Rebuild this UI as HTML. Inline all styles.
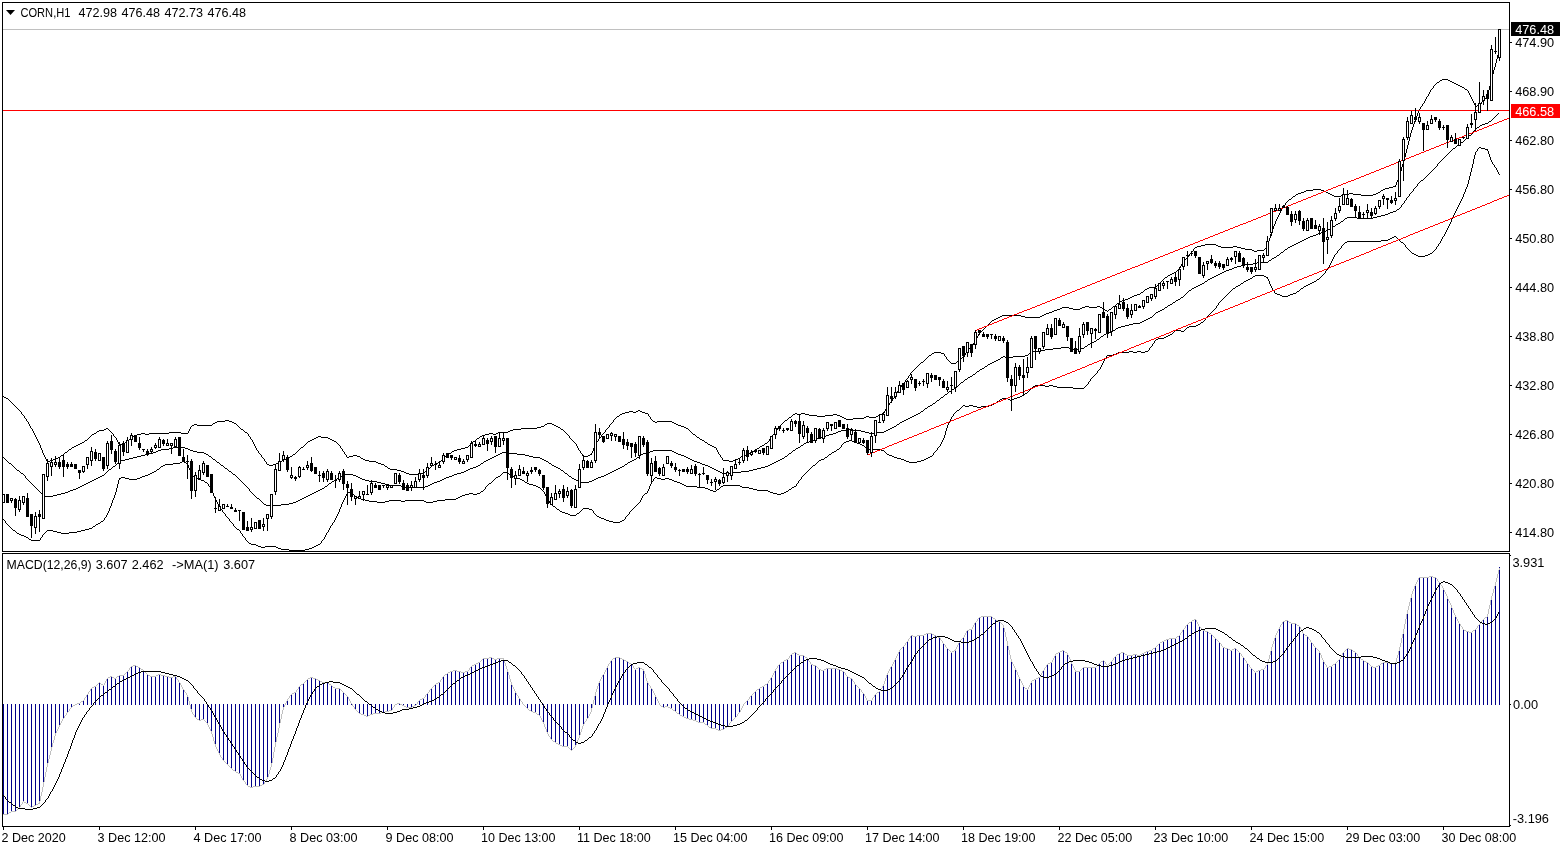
<!DOCTYPE html><html><head><meta charset="utf-8"><title>CORN,H1</title>
<style>html,body{margin:0;padding:0;background:#fff;overflow:hidden}svg{display:block}text{font-family:"Liberation Sans",sans-serif;font-size:13px;fill:#000}.c{shape-rendering:crispEdges}</style></head><body>
<svg width="1566" height="850" viewBox="0 0 1566 850">
<rect width="1566" height="850" fill="#fff"/>
<path class="c" fill="#00008b" d="M3 704h1v111h-1zM7 704h1v111h-1zM11 704h1v108h-1zM15 704h1v108h-1zM19 704h1v104h-1zM23 704h1v98h-1zM27 704h1v100h-1zM31 704h1v104h-1zM35 704h1v102h-1zM39 704h1v100h-1zM43 704h1v81h-1zM47 704h1v61h-1zM51 704h1v45h-1zM55 704h1v31h-1zM59 704h1v22h-1zM63 704h1v15h-1zM67 704h1v9h-1zM71 704h1v4h-1zM75 704h1v1h-1zM79 703h1v2h-1zM83 700h1v5h-1zM87 694h1v11h-1zM91 688h1v17h-1zM95 686h1v19h-1zM99 682h1v23h-1zM103 685h1v20h-1zM107 678h1v27h-1zM111 676h1v29h-1zM115 678h1v27h-1zM119 675h1v30h-1zM123 675h1v30h-1zM127 671h1v34h-1zM131 666h1v39h-1zM135 665h1v40h-1zM139 667h1v38h-1zM143 670h1v35h-1zM147 674h1v31h-1zM151 676h1v29h-1zM155 676h1v29h-1zM159 674h1v31h-1zM163 675h1v30h-1zM167 676h1v29h-1zM171 677h1v28h-1zM175 676h1v29h-1zM179 682h1v23h-1zM183 689h1v16h-1zM187 695h1v10h-1zM191 704h1v8h-1zM195 704h1v14h-1zM199 704h1v17h-1zM203 704h1v16h-1zM207 704h1v20h-1zM211 704h1v29h-1zM215 704h1v42h-1zM219 704h1v51h-1zM223 704h1v57h-1zM227 704h1v61h-1zM231 704h1v65h-1zM235 704h1v68h-1zM239 704h1v70h-1zM243 704h1v77h-1zM247 704h1v82h-1zM251 704h1v84h-1zM255 704h1v83h-1zM259 704h1v83h-1zM263 704h1v81h-1zM267 704h1v75h-1zM271 704h1v62h-1zM275 704h1v41h-1zM279 704h1v22h-1zM283 704h1v4h-1zM287 699h1v6h-1zM291 694h1v11h-1zM295 692h1v13h-1zM299 686h1v19h-1zM303 683h1v22h-1zM307 679h1v26h-1zM311 677h1v28h-1zM315 678h1v27h-1zM319 680h1v25h-1zM323 682h1v23h-1zM327 682h1v23h-1zM331 685h1v20h-1zM335 688h1v17h-1zM339 688h1v17h-1zM343 692h1v13h-1zM347 696h1v9h-1zM351 703h1v2h-1zM355 704h1v6h-1zM359 704h1v10h-1zM363 704h1v11h-1zM367 704h1v13h-1zM371 704h1v11h-1zM375 704h1v10h-1zM379 704h1v10h-1zM383 704h1v9h-1zM387 704h1v8h-1zM391 704h1v7h-1zM395 704h1v1h-1zM399 703h1v2h-1zM403 704h1v2h-1zM407 704h1v4h-1zM411 704h1v4h-1zM415 704h1v2h-1zM419 700h1v5h-1zM423 698h1v7h-1zM427 693h1v12h-1zM431 688h1v17h-1zM435 684h1v21h-1zM439 682h1v23h-1zM443 676h1v29h-1zM447 673h1v32h-1zM451 671h1v34h-1zM455 670h1v35h-1zM459 671h1v34h-1zM463 672h1v33h-1zM467 671h1v34h-1zM471 666h1v39h-1zM475 664h1v41h-1zM479 662h1v43h-1zM483 658h1v47h-1zM487 658h1v47h-1zM491 657h1v48h-1zM495 659h1v46h-1zM499 658h1v47h-1zM503 658h1v47h-1zM507 670h1v35h-1zM511 683h1v22h-1zM515 692h1v13h-1zM519 698h1v7h-1zM523 704h1v1h-1zM527 704h1v5h-1zM531 704h1v8h-1zM535 704h1v9h-1zM539 704h1v12h-1zM543 704h1v19h-1zM547 704h1v30h-1zM551 704h1v36h-1zM555 704h1v39h-1zM559 704h1v41h-1zM563 704h1v43h-1zM567 704h1v43h-1zM571 704h1v47h-1zM575 704h1v43h-1zM579 704h1v33h-1zM583 704h1v21h-1zM587 704h1v15h-1zM591 704h1v7h-1zM595 693h1v12h-1zM599 681h1v24h-1zM603 674h1v31h-1zM607 666h1v39h-1zM611 660h1v45h-1zM615 657h1v48h-1zM619 657h1v48h-1zM623 659h1v46h-1zM627 661h1v44h-1zM631 664h1v41h-1zM635 669h1v36h-1zM639 667h1v38h-1zM643 669h1v36h-1zM647 682h1v23h-1zM651 688h1v17h-1zM655 696h1v9h-1zM659 704h1v1h-1zM663 704h1v4h-1zM667 704h1v3h-1zM671 704h1v5h-1zM675 704h1v8h-1zM679 704h1v11h-1zM683 704h1v13h-1zM687 704h1v15h-1zM691 704h1v16h-1zM695 704h1v17h-1zM699 704h1v19h-1zM703 704h1v19h-1zM707 704h1v22h-1zM711 704h1v25h-1zM715 704h1v25h-1zM719 704h1v27h-1zM723 704h1v26h-1zM727 704h1v23h-1zM731 704h1v18h-1zM735 704h1v14h-1zM739 704h1v9h-1zM743 704h1v1h-1zM747 700h1v5h-1zM751 695h1v10h-1zM755 691h1v14h-1zM759 688h1v17h-1zM763 686h1v19h-1zM767 683h1v22h-1zM771 677h1v28h-1zM775 669h1v36h-1zM779 664h1v41h-1zM783 661h1v44h-1zM787 659h1v46h-1zM791 654h1v51h-1zM795 652h1v53h-1zM799 655h1v50h-1zM803 655h1v50h-1zM807 658h1v47h-1zM811 664h1v41h-1zM815 665h1v40h-1zM819 669h1v36h-1zM823 670h1v35h-1zM827 668h1v37h-1zM831 668h1v37h-1zM835 668h1v37h-1zM839 669h1v36h-1zM843 671h1v34h-1zM847 676h1v29h-1zM851 678h1v27h-1zM855 684h1v21h-1zM859 688h1v17h-1zM863 693h1v12h-1zM867 700h1v5h-1zM871 700h1v5h-1zM875 694h1v11h-1zM879 691h1v14h-1zM883 685h1v20h-1zM887 673h1v32h-1zM891 666h1v39h-1zM895 658h1v47h-1zM899 650h1v55h-1zM903 646h1v59h-1zM907 641h1v64h-1zM911 635h1v70h-1zM915 636h1v69h-1zM919 635h1v70h-1zM923 635h1v70h-1zM927 633h1v72h-1zM931 633h1v72h-1zM935 635h1v70h-1zM939 637h1v68h-1zM943 643h1v62h-1zM947 648h1v57h-1zM951 652h1v53h-1zM955 650h1v55h-1zM959 641h1v64h-1zM963 637h1v68h-1zM967 630h1v75h-1zM971 629h1v76h-1zM975 622h1v83h-1zM979 617h1v88h-1zM983 616h1v89h-1zM987 616h1v89h-1zM991 616h1v89h-1zM995 619h1v86h-1zM999 621h1v84h-1zM1003 625h1v80h-1zM1007 643h1v62h-1zM1011 661h1v44h-1zM1015 668h1v37h-1zM1019 678h1v27h-1zM1023 686h1v19h-1zM1027 689h1v16h-1zM1031 681h1v24h-1zM1035 679h1v26h-1zM1039 677h1v28h-1zM1043 670h1v35h-1zM1047 664h1v41h-1zM1051 662h1v43h-1zM1055 654h1v51h-1zM1059 652h1v53h-1zM1063 650h1v55h-1zM1067 653h1v52h-1zM1071 662h1v43h-1zM1075 671h1v34h-1zM1079 671h1v34h-1zM1083 667h1v38h-1zM1087 667h1v38h-1zM1091 667h1v38h-1zM1095 667h1v38h-1zM1099 663h1v42h-1zM1103 660h1v45h-1zM1107 665h1v40h-1zM1111 661h1v44h-1zM1115 656h1v49h-1zM1119 653h1v52h-1zM1123 652h1v53h-1zM1127 655h1v50h-1zM1131 655h1v50h-1zM1135 654h1v51h-1zM1139 655h1v50h-1zM1143 653h1v52h-1zM1147 651h1v54h-1zM1151 650h1v55h-1zM1155 647h1v58h-1zM1159 643h1v62h-1zM1163 641h1v64h-1zM1167 639h1v66h-1zM1171 638h1v67h-1zM1175 638h1v67h-1zM1179 635h1v70h-1zM1183 629h1v76h-1zM1187 624h1v81h-1zM1191 621h1v84h-1zM1195 619h1v86h-1zM1199 626h1v79h-1zM1203 630h1v75h-1zM1207 631h1v74h-1zM1211 634h1v71h-1zM1215 638h1v67h-1zM1219 642h1v63h-1zM1223 647h1v58h-1zM1227 648h1v57h-1zM1231 650h1v55h-1zM1235 648h1v57h-1zM1239 652h1v53h-1zM1243 657h1v48h-1zM1247 663h1v42h-1zM1251 668h1v37h-1zM1255 672h1v33h-1zM1259 670h1v35h-1zM1263 669h1v36h-1zM1267 664h1v41h-1zM1271 648h1v57h-1zM1275 636h1v69h-1zM1279 627h1v78h-1zM1283 621h1v84h-1zM1287 620h1v85h-1zM1291 623h1v82h-1zM1295 623h1v82h-1zM1299 626h1v79h-1zM1303 633h1v72h-1zM1307 636h1v69h-1zM1311 642h1v63h-1zM1315 647h1v58h-1zM1319 651h1v54h-1zM1323 661h1v44h-1zM1327 667h1v38h-1zM1331 666h1v39h-1zM1335 663h1v42h-1zM1339 659h1v46h-1zM1343 652h1v53h-1zM1347 648h1v57h-1zM1351 649h1v56h-1zM1355 652h1v53h-1zM1359 657h1v48h-1zM1363 660h1v45h-1zM1367 662h1v43h-1zM1371 666h1v39h-1zM1375 667h1v38h-1zM1379 665h1v40h-1zM1383 662h1v43h-1zM1387 662h1v43h-1zM1391 663h1v42h-1zM1395 663h1v42h-1zM1399 649h1v56h-1zM1403 631h1v74h-1zM1407 611h1v94h-1zM1411 595h1v110h-1zM1415 584h1v121h-1zM1419 577h1v128h-1zM1423 577h1v128h-1zM1427 577h1v128h-1zM1431 576h1v129h-1zM1435 577h1v128h-1zM1439 582h1v123h-1zM1443 588h1v117h-1zM1447 597h1v108h-1zM1451 606h1v99h-1zM1455 616h1v89h-1zM1459 623h1v82h-1zM1463 629h1v76h-1zM1467 631h1v74h-1zM1471 632h1v73h-1zM1475 629h1v76h-1zM1479 624h1v81h-1zM1483 619h1v86h-1zM1487 616h1v89h-1zM1491 597h1v108h-1zM1495 584h1v121h-1zM1499 567h1v138h-1z"/>
<path class="c" fill="#c0c0c0" d="M1170 638h1v1h-1zM1472 631h1v1h-1zM604 672h1v2h-1zM549 736h1v1h-1zM1041 673h1v2h-1zM1213 636h1v1h-1zM417 702h1v2h-1zM94 686h1v1h-1zM247 785h1v1h-1zM167 676h1v1h-1zM1136 654h1v1h-1zM270 767h1v3h-1zM1364 661h1v1h-1zM1102 661h1v1h-1zM283 707h1v3h-1zM652 689h1v2h-1zM455 670h1v1h-1zM1011 659h1v3h-1zM1052 660h1v2h-1zM600 679h1v2h-1zM1128 655h1v1h-1zM113 677h1v1h-1zM1435 577h1v1h-1zM55 733h1v3h-1zM1403 629h1v5h-1zM456 670h1v1h-1zM1341 655h1v2h-1zM996 620h1v1h-1zM901 648h1v1h-1zM988 616h1v1h-1zM1491 596h1v4h-1zM147 674h1v1h-1zM210 729h1v2h-1zM574 747h1v1h-1zM1386 662h1v1h-1zM526 707h1v1h-1zM1479 624h1v1h-1zM1028 687h1v2h-1zM148 675h1v1h-1zM274 747h1v5h-1zM1044 668h1v2h-1zM1273 641h1v3h-1zM570 749h1v1h-1zM1296 624h1v1h-1zM594 696h1v4h-1zM571 750h1v1h-1zM1337 661h1v1h-1zM504 660h1v3h-1zM563 746h1v1h-1zM1007 641h1v5h-1zM214 741h1v3h-1zM470 667h1v1h-1zM583 724h1v2h-1zM1219 642h1v1h-1zM1407 610h1v4h-1zM816 666h1v1h-1zM977 619h1v2h-1zM1459 623h1v1h-1zM1197 622h1v2h-1zM1208 632h1v1h-1zM1040 675h1v2h-1zM1220 643h1v1h-1zM286 701h1v2h-1zM1495 582h1v4h-1zM1071 661h1v3h-1zM306 680h1v1h-1zM184 690h1v2h-1zM1460 624h1v2h-1zM633 666h1v2h-1zM1463 629h1v1h-1zM1209 633h1v1h-1zM603 674h1v1h-1zM181 685h1v2h-1zM1348 648h1v1h-1zM1359 657h1v1h-1zM1325 664h1v1h-1zM645 674h1v4h-1zM689 719h1v1h-1zM1360 658h1v1h-1zM158 674h1v1h-1zM1185 626h1v2h-1zM269 770h1v4h-1zM116 677h1v1h-1zM1131 655h1v1h-1zM934 635h1v1h-1zM1482 620h1v1h-1zM1268 659h1v4h-1zM1051 662h1v1h-1zM599 681h1v2h-1zM969 629h1v1h-1zM431 688h1v1h-1zM54 736h1v4h-1zM577 740h1v3h-1zM598 683h1v3h-1zM1410 598h1v4h-1zM53 740h1v3h-1zM1158 644h1v1h-1zM949 650h1v1h-1zM662 706h1v1h-1zM370 714h1v1h-1zM1477 626h1v2h-1zM726 727h1v1h-1zM45 772h1v5h-1zM1340 657h1v2h-1zM964 635h1v2h-1zM540 716h1v2h-1zM1003 625h1v3h-1zM1120 653h1v1h-1zM1490 600h1v5h-1zM722 729h1v1h-1zM105 681h1v2h-1zM742 706h1v2h-1zM62 719h1v2h-1zM443 676h1v1h-1zM1335 663h1v1h-1zM547 732h1v2h-1zM566 746h1v1h-1zM1178 636h1v1h-1zM1241 654h1v2h-1zM778 665h1v1h-1zM896 656h1v2h-1zM77 703h1v1h-1zM551 739h1v1h-1zM438 682h1v1h-1zM469 668h1v2h-1zM1226 648h1v1h-1zM1373 667h1v1h-1zM49 755h1v4h-1zM278 728h1v5h-1zM753 693h1v1h-1zM1405 619h1v5h-1zM699 722h1v1h-1zM48 759h1v4h-1zM73 705h1v1h-1zM1321 655h1v3h-1zM1189 622h1v1h-1zM692 719h1v1h-1zM68 711h1v1h-1zM874 695h1v2h-1zM1437 579h1v2h-1zM162 675h1v1h-1zM952 651h1v1h-1zM1184 628h1v1h-1zM859 688h1v1h-1zM597 686h1v3h-1zM407 707h1v1h-1zM514 689h1v2h-1zM837 669h1v1h-1zM1016 670h1v2h-1zM860 689h1v1h-1zM209 727h1v2h-1zM282 710h1v4h-1zM1409 602h1v4h-1zM476 663h1v1h-1zM52 743h1v4h-1zM760 687h1v1h-1zM536 713h1v1h-1zM1422 577h1v1h-1zM528 709h1v1h-1zM963 637h1v1h-1zM826 668h1v1h-1zM1263 669h1v1h-1zM477 663h1v1h-1zM1498 570h1v4h-1zM529 710h1v1h-1zM321 681h1v1h-1zM1401 638h1v5h-1zM104 683h1v2h-1zM741 708h1v2h-1zM984 616h1v1h-1zM761 687h1v1h-1zM442 677h1v2h-1zM1072 664h1v2h-1zM1461 626h1v1h-1zM272 758h1v5h-1zM1199 626h1v1h-1zM799 655h1v1h-1zM1073 666h1v2h-1zM1462 627h1v2h-1zM219 753h1v2h-1zM635 669h1v1h-1zM580 732h1v3h-1zM1191 621h1v1h-1zM646 678h1v3h-1zM222 758h1v2h-1zM592 704h1v4h-1zM234 770h1v1h-1zM1369 664h1v1h-1zM1327 667h1v1h-1zM252 787h1v1h-1zM223 760h1v1h-1zM47 763h1v4h-1zM1432 576h1v1h-1zM189 701h1v4h-1zM613 658h1v1h-1zM768 681h1v2h-1zM1493 589h1v4h-1zM928 633h1v1h-1zM8 813h1v1h-1zM410 707h1v1h-1zM88 692h1v2h-1zM1396 658h1v4h-1zM1424 577h1v1h-1zM1126 654h1v1h-1zM111 676h1v1h-1zM596 689h1v3h-1zM986 616h1v1h-1zM193 714h1v1h-1zM280 719h1v4h-1zM608 664h1v2h-1zM1447 596h1v3h-1zM292 693h1v1h-1zM1026 688h1v1h-1zM1293 623h1v1h-1zM829 668h1v1h-1zM130 667h1v1h-1zM27 803h1v1h-1zM1114 657h1v1h-1zM1065 652h1v1h-1zM1408 606h1v4h-1zM1240 653h1v1h-1zM1286 620h1v1h-1zM1232 649h1v1h-1zM546 729h1v3h-1zM1497 574h1v4h-1zM125 673h1v1h-1zM43 782h1v5h-1zM1205 631h1v1h-1zM1057 653h1v1h-1zM215 744h1v3h-1zM1079 671h1v1h-1zM1488 609h1v5h-1zM1320 653h1v2h-1zM1353 651h1v1h-1zM1008 646h1v4h-1zM229 766h1v1h-1zM95 686h1v1h-1zM1270 651h1v4h-1zM1365 661h1v1h-1zM1412 591h1v3h-1zM791 654h1v1h-1zM509 675h1v4h-1zM615 657h1v1h-1zM1278 629h1v2h-1zM276 737h1v5h-1zM1439 582h1v1h-1zM679 714h1v1h-1zM512 685h1v2h-1zM1015 668h1v2h-1zM38 803h1v1h-1zM207 723h1v2h-1zM932 634h1v1h-1zM452 671h1v1h-1zM767 683h1v1h-1zM1492 593h1v3h-1zM576 743h1v2h-1zM132 666h1v1h-1zM588 716h1v2h-1zM349 699h1v2h-1zM832 668h1v1h-1zM352 704h1v2h-1zM1004 628h1v4h-1zM1151 650h1v1h-1zM82 701h1v1h-1zM425 695h1v2h-1zM314 678h1v1h-1zM50 751h1v4h-1zM564 746h1v1h-1zM1113 658h1v2h-1zM1301 629h1v2h-1zM1471 632h1v1h-1zM221 757h1v1h-1zM1201 628h1v1h-1zM908 639h1v2h-1zM1202 629h1v1h-1zM1140 654h1v1h-1zM236 772h1v1h-1zM1371 666h1v1h-1zM1269 655h1v4h-1zM752 694h1v1h-1zM159 674h1v1h-1zM1345 650h1v1h-1zM1411 594h1v4h-1zM905 643h1v2h-1zM674 710h1v1h-1zM298 687h1v2h-1zM404 706h1v1h-1zM747 700h1v1h-1zM1445 592h1v2h-1zM67 712h1v1h-1zM656 697h1v2h-1zM397 703h1v1h-1zM143 670h1v1h-1zM900 649h1v1h-1zM195 717h1v1h-1zM1394 663h1v1h-1zM533 712h1v1h-1zM723 729h1v1h-1zM1420 577h1v1h-1zM318 680h1v1h-1zM1452 608h1v2h-1zM1261 669h1v1h-1zM1307 636h1v1h-1zM884 681h1v3h-1zM567 746h1v1h-1zM1453 610h1v3h-1zM424 697h1v1h-1zM444 675h1v1h-1zM1215 638h1v1h-1zM1406 614h1v5h-1zM217 749h1v2h-1zM22 802h1v2h-1zM719 730h1v1h-1zM439 682h1v1h-1zM976 621h1v1h-1zM1318 650h1v1h-1zM1039 677h1v1h-1zM1227 648h1v1h-1zM1374 667h1v1h-1zM258 786h1v1h-1zM17 809h1v1h-1zM505 663h1v3h-1zM700 722h1v1h-1zM169 677h1v1h-1zM74 705h1v1h-1zM880 689h1v2h-1zM466 671h1v1h-1zM1010 655h1v4h-1zM1398 651h1v4h-1zM1190 622h1v1h-1zM41 792h1v4h-1zM381 712h1v1h-1zM1375 667h1v1h-1zM508 672h1v3h-1zM1105 662h1v2h-1zM115 678h1v1h-1zM648 683h1v2h-1zM730 722h1v1h-1zM373 713h1v1h-1zM968 630h1v1h-1zM926 633h1v1h-1zM945 645h1v2h-1zM408 707h1v1h-1zM191 709h1v3h-1zM350 701h1v2h-1zM369 715h1v1h-1zM66 713h1v2h-1zM872 698h1v2h-1zM864 694h1v2h-1zM401 704h1v1h-1zM351 703h1v1h-1zM899 650h1v2h-1zM32 806h1v1h-1zM1418 578h1v2h-1zM1291 623h1v1h-1zM827 668h1v1h-1zM1302 631h1v2h-1zM777 666h1v2h-1zM1259 670h1v1h-1zM1024 687h1v1h-1zM1303 633h1v1h-1zM980 617h1v1h-1zM1081 669h1v1h-1zM260 785h1v1h-1zM883 684h1v2h-1zM1272 644h1v3h-1zM895 658h1v2h-1zM499 658h1v1h-1zM558 744h1v1h-1zM1292 623h1v1h-1zM737 714h1v2h-1zM811 664h1v1h-1zM1077 671h1v1h-1zM773 673h1v2h-1zM58 727h1v2h-1zM636 668h1v1h-1zM1165 640h1v1h-1zM245 782h1v2h-1zM1188 623h1v1h-1zM879 691h1v1h-1zM1280 625h1v2h-1zM734 718h1v1h-1zM684 717h1v1h-1zM1031 681h1v2h-1zM614 658h1v1h-1zM654 693h1v2h-1zM411 707h1v1h-1zM784 660h1v1h-1zM4 814h1v1h-1zM729 723h1v2h-1zM655 695h1v2h-1zM856 685h1v1h-1zM450 671h1v1h-1zM1267 663h1v2h-1zM1091 667h1v1h-1zM84 698h1v2h-1zM197 719h1v1h-1zM524 705h1v1h-1zM5 814h1v1h-1zM1294 623h1v1h-1zM830 668h1v1h-1zM1149 650h1v1h-1zM131 666h1v1h-1zM1244 658h1v2h-1zM605 670h1v2h-1zM569 748h1v1h-1zM1381 663h1v1h-1zM1468 631h1v1h-1zM1217 640h1v1h-1zM1150 650h1v1h-1zM418 701h1v1h-1zM1248 664h1v1h-1zM503 658h1v2h-1zM1469 632h1v1h-1zM126 672h1v1h-1zM554 741h1v1h-1zM1218 641h1v1h-1zM1283 621h1v1h-1zM694 720h1v1h-1zM772 675h1v2h-1zM616 657h1v1h-1zM890 667h1v2h-1zM647 681h1v2h-1zM1358 656h1v1h-1zM483 658h1v1h-1zM1279 627h1v2h-1zM688 718h1v1h-1zM87 694h1v1h-1zM1030 683h1v2h-1zM190 705h1v4h-1zM297 689h1v1h-1zM402 705h1v1h-1zM39 801h1v3h-1zM1022 683h1v2h-1zM764 685h1v1h-1zM1275 635h1v3h-1zM542 720h1v2h-1zM1045 667h1v1h-1zM1119 653h1v1h-1zM572 749h1v1h-1zM1383 662h1v1h-1zM323 682h1v1h-1zM315 678h1v1h-1zM543 722h1v2h-1zM1304 634h1v1h-1zM316 679h1v1h-1zM1305 635h1v1h-1zM1224 647h1v1h-1zM175 676h1v1h-1zM225 762h1v1h-1zM910 636h1v2h-1zM593 700h1v4h-1zM639 667h1v1h-1zM226 763h1v1h-1zM237 772h1v1h-1zM1372 666h1v1h-1zM304 682h1v1h-1zM1483 619h1v1h-1zM1098 664h1v1h-1zM1346 649h1v1h-1zM667 706h1v1h-1zM1137 655h1v1h-1zM405 706h1v1h-1zM37 804h1v1h-1zM668 707h1v1h-1zM840 670h1v1h-1zM114 678h1v1h-1zM429 690h1v2h-1zM1121 652h1v1h-1zM1395 662h1v2h-1zM858 687h1v1h-1zM1018 675h1v2h-1zM587 718h1v1h-1zM534 712h1v1h-1zM1049 663h1v1h-1zM1156 646h1v1h-1zM296 690h1v2h-1zM516 693h1v2h-1zM1274 638h1v3h-1zM1117 654h1v1h-1zM211 731h1v3h-1zM279 723h1v5h-1zM527 708h1v1h-1zM1289 622h1v1h-1zM912 635h1v1h-1zM720 730h1v1h-1zM497 658h1v1h-1zM913 636h1v1h-1zM1333 664h1v1h-1zM259 786h1v1h-1zM42 787h1v5h-1zM1356 653h1v1h-1zM1139 655h1v1h-1zM958 643h1v2h-1zM1367 662h1v1h-1zM467 671h1v1h-1zM1487 614h1v3h-1zM1075 670h1v2h-1zM498 658h1v1h-1zM436 683h1v1h-1zM382 712h1v1h-1zM751 695h1v1h-1zM71 707h1v1h-1zM185 692h1v1h-1zM746 701h1v1h-1zM927 633h1v1h-1zM682 716h1v1h-1zM275 742h1v5h-1zM1182 630h1v2h-1zM923 635h1v1h-1zM1089 667h1v1h-1zM428 692h1v1h-1zM1449 601h1v2h-1zM743 704h1v2h-1zM266 779h1v2h-1zM3 814h1v1h-1zM541 718h1v2h-1zM1177 636h1v1h-1zM1260 670h1v1h-1zM474 664h1v1h-1zM1063 650h1v1h-1zM21 804h1v1h-1zM423 698h1v1h-1zM961 639h1v1h-1zM261 785h1v1h-1zM500 658h1v1h-1zM559 744h1v1h-1zM1466 631h1v1h-1zM310 677h1v1h-1zM582 726h1v3h-1zM548 734h1v2h-1zM1415 584h1v2h-1zM1078 671h1v1h-1zM1204 630h1v1h-1zM227 764h1v1h-1zM1467 631h1v1h-1zM228 765h1v1h-1zM161 675h1v1h-1zM1166 639h1v1h-1zM957 645h1v2h-1zM685 717h1v1h-1zM677 713h1v1h-1zM1162 641h1v1h-1zM785 660h1v1h-1zM108 677h1v1h-1zM451 671h1v1h-1zM1092 667h1v1h-1zM1017 672h1v3h-1zM781 662h1v1h-1zM518 696h1v2h-1zM1181 632h1v1h-1zM6 814h1v1h-1zM44 777h1v5h-1zM515 691h1v2h-1zM983 616h1v1h-1zM362 714h1v1h-1zM265 781h1v1h-1zM313 678h1v1h-1zM61 721h1v2h-1zM1382 663h1v1h-1zM1229 649h1v1h-1zM96 685h1v1h-1zM1146 651h1v1h-1zM1252 669h1v1h-1zM1284 621h1v1h-1zM1230 650h1v1h-1zM183 689h1v1h-1zM1222 646h1v1h-1zM792 653h1v1h-1zM92 687h1v1h-1zM1414 586h1v3h-1zM57 729h1v2h-1zM695 720h1v1h-1zM1055 654h1v2h-1zM878 692h1v1h-1zM187 695h1v2h-1zM956 647h1v2h-1zM672 709h1v1h-1zM1134 654h1v1h-1zM484 658h1v1h-1zM789 656h1v2h-1zM453 670h1v1h-1zM40 796h1v5h-1zM948 649h1v1h-1zM205 721h1v1h-1zM403 705h1v1h-1zM449 672h1v1h-1zM658 701h1v2h-1zM887 673h1v2h-1zM281 714h1v5h-1zM36 804h1v1h-1zM1384 662h1v1h-1zM717 729h1v1h-1zM1380 664h1v1h-1zM1454 613h1v2h-1zM1306 635h1v1h-1zM392 708h1v2h-1zM289 696h1v2h-1zM80 702h1v1h-1zM718 730h1v1h-1zM550 737h1v2h-1zM1111 661h1v1h-1zM807 658h1v1h-1zM1323 660h1v2h-1zM506 666h1v3h-1zM241 776h1v2h-1zM414 705h1v1h-1zM906 642h1v1h-1zM56 731h1v2h-1zM285 703h1v2h-1zM686 718h1v1h-1zM1054 656h1v2h-1zM301 684h1v1h-1zM1436 578h1v1h-1zM1138 655h1v1h-1zM1404 624h1v5h-1zM1099 663h1v1h-1zM157 675h1v1h-1zM368 715h1v1h-1zM862 692h1v1h-1zM520 699h1v2h-1zM863 693h1v1h-1zM1118 654h1v1h-1zM866 698h1v2h-1zM886 675h1v3h-1zM1005 632h1v5h-1zM556 743h1v1h-1zM802 655h1v1h-1zM390 710h1v1h-1zM1334 664h1v1h-1zM557 743h1v1h-1zM416 704h1v1h-1zM1464 630h1v1h-1zM303 683h1v1h-1zM437 683h1v1h-1zM494 659h1v1h-1zM1037 678h1v1h-1zM378 713h1v1h-1zM284 705h1v2h-1zM1053 658h1v2h-1zM690 719h1v1h-1zM683 716h1v1h-1zM950 651h1v1h-1zM970 629h1v1h-1zM951 652h1v1h-1zM660 705h1v1h-1zM1090 667h1v1h-1zM1419 577h1v1h-1zM1446 594h1v2h-1zM1155 647h1v1h-1zM1183 629h1v1h-1zM295 692h1v1h-1zM966 631h1v2h-1zM575 745h1v2h-1zM924 634h1v1h-1zM359 713h1v1h-1zM885 678h1v3h-1zM981 616h1v1h-1zM759 688h1v1h-1zM1174 638h1v1h-1zM1242 656h1v1h-1zM1475 629h1v1h-1zM501 658h1v1h-1zM311 677h1v1h-1zM471 666h1v1h-1zM962 638h1v1h-1zM1068 655h1v2h-1zM1308 637h1v2h-1zM809 661h1v1h-1zM1246 661h1v2h-1zM641 668h1v1h-1zM712 728h1v1h-1zM1216 639h1v1h-1zM307 679h1v1h-1zM239 773h1v1h-1zM642 669h1v1h-1zM735 717h1v1h-1zM973 625h1v2h-1zM435 684h1v1h-1zM240 774h1v2h-1zM750 696h1v1h-1zM70 708h1v1h-1zM591 708h1v4h-1zM1186 625h1v1h-1zM1163 641h1v1h-1zM1430 576h1v1h-1zM670 708h1v1h-1zM953 651h1v1h-1zM400 704h1v1h-1zM109 677h1v1h-1zM340 689h1v1h-1zM1093 667h1v1h-1zM727 726h1v1h-1zM1499 568h1v2h-1zM1402 634h1v4h-1zM865 696h1v2h-1zM363 714h1v1h-1zM473 665h1v1h-1zM544 724h1v3h-1zM757 689h1v1h-1zM1147 651h1v1h-1zM715 728h1v1h-1zM1370 665h1v1h-1zM124 674h1v1h-1zM891 666h1v1h-1zM1494 586h1v3h-1zM1433 577h1v1h-1zM1135 654h1v1h-1zM1013 664h1v2h-1zM112 677h1v1h-1zM1434 577h1v1h-1zM511 682h1v3h-1zM610 661h1v2h-1zM1048 663h1v1h-1zM999 621h1v1h-1zM1020 679h1v2h-1zM766 684h1v1h-1zM213 737h1v4h-1zM606 668h1v2h-1zM1309 639h1v1h-1zM1006 637h1v4h-1zM1489 605h1v4h-1zM1066 652h1v1h-1zM561 745h1v1h-1zM1287 620h1v1h-1zM216 747h1v2h-1zM1310 640h1v2h-1zM562 746h1v1h-1zM1271 647h1v4h-1zM230 767h1v1h-1zM602 675h1v2h-1zM1112 660h1v1h-1zM644 671h1v3h-1zM253 786h1v1h-1zM277 733h1v4h-1zM687 718h1v1h-1zM376 713h1v1h-1zM1440 583h1v2h-1zM680 715h1v1h-1zM651 688h1v1h-1zM937 636h1v1h-1zM9 812h1v1h-1zM1050 662h1v1h-1zM1157 645h1v1h-1zM1344 651h1v1h-1zM994 618h1v1h-1zM153 676h1v1h-1zM353 706h1v1h-1zM1392 663h1v1h-1zM35 805h1v1h-1zM364 715h1v1h-1zM396 704h1v1h-1zM354 707h1v2h-1zM721 729h1v1h-1zM1115 656h1v1h-1zM288 698h1v1h-1zM422 698h1v1h-1zM99 682h1v1h-1zM1042 671h1v2h-1zM391 710h1v1h-1zM255 786h1v1h-1zM100 683h1v1h-1zM1400 643h1v4h-1zM1110 662h1v1h-1zM176 677h1v2h-1zM1465 630h1v1h-1zM1225 648h1v1h-1zM1331 666h1v1h-1zM256 786h1v1h-1zM464 672h1v1h-1zM495 659h1v1h-1zM601 677h1v2h-1zM379 713h1v1h-1zM11 811h1v1h-1zM300 685h1v1h-1zM434 685h1v1h-1zM675 711h1v1h-1zM510 679h1v3h-1zM676 712h1v1h-1zM367 716h1v1h-1zM406 707h1v1h-1zM398 703h1v1h-1zM1019 677h1v2h-1zM925 634h1v1h-1zM898 652h1v2h-1zM212 734h1v3h-1zM1257 671h1v1h-1zM584 722h1v2h-1zM1228 649h1v1h-1zM756 690h1v1h-1zM1399 647h1v4h-1zM821 670h1v1h-1zM1250 667h1v1h-1zM713 728h1v1h-1zM705 724h1v1h-1zM894 660h1v2h-1zM1496 578h1v4h-1zM643 669h1v2h-1zM232 769h1v1h-1zM627 661h1v1h-1zM1221 644h1v2h-1zM233 770h1v1h-1zM877 692h1v1h-1zM14 811h1v1h-1zM974 623h1v2h-1zM904 645h1v1h-1zM186 693h1v2h-1zM1431 576h1v1h-1zM671 708h1v1h-1zM1187 624h1v1h-1zM946 647h1v1h-1zM843 671h1v1h-1zM203 719h1v1h-1zM844 672h1v1h-1zM204 720h1v1h-1zM110 676h1v1h-1zM355 709h1v1h-1zM326 682h1v1h-1zM728 725h1v1h-1zM758 689h1v1h-1zM51 747h1v4h-1zM1285 620h1v1h-1zM101 684h1v1h-1zM739 712h1v1h-1zM1456 617h1v2h-1zM805 657h1v1h-1zM177 679h1v1h-1zM798 654h1v1h-1zM440 680h1v2h-1zM178 680h1v2h-1zM775 669h1v2h-1zM1322 658h1v2h-1zM120 675h1v1h-1zM1363 660h1v1h-1zM459 671h1v1h-1zM579 735h1v3h-1zM731 721h1v1h-1zM46 767h1v5h-1zM771 677h1v1h-1zM871 700h1v1h-1zM482 659h1v1h-1zM611 660h1v1h-1zM663 707h1v1h-1zM992 617h1v1h-1zM86 695h1v2h-1zM192 712h1v2h-1zM861 690h1v2h-1zM1390 663h1v1h-1zM519 698h1v1h-1zM290 695h1v1h-1zM81 701h1v1h-1zM595 692h1v4h-1zM607 666h1v2h-1zM1082 668h1v1h-1zM1249 665h1v2h-1zM389 710h1v1h-1zM555 742h1v1h-1zM1193 620h1v1h-1zM173 676h1v1h-1zM123 675h1v1h-1zM492 658h1v1h-1zM1074 668h1v2h-1zM254 786h1v1h-1zM629 663h1v1h-1zM1036 678h1v1h-1zM188 697h1v4h-1zM1100 662h1v1h-1zM681 715h1v1h-1zM1397 655h1v3h-1zM480 661h1v1h-1zM673 710h1v1h-1zM578 738h1v2h-1zM665 706h1v1h-1zM343 692h1v1h-1zM590 712h1v2h-1zM154 676h1v1h-1zM845 673h1v2h-1zM1097 665h1v1h-1zM1047 664h1v1h-1zM206 722h1v1h-1zM1448 599h1v2h-1zM1393 663h1v1h-1zM365 715h1v1h-1zM357 711h1v1h-1zM336 688h1v1h-1zM918 635h1v1h-1zM85 697h1v1h-1zM1084 667h1v1h-1zM366 716h1v1h-1zM358 712h1v1h-1zM586 719h1v2h-1zM273 752h1v6h-1zM1458 621h1v2h-1zM710 727h1v1h-1zM179 682h1v1h-1zM1455 615h1v2h-1zM1196 620h1v2h-1zM1256 671h1v1h-1zM127 671h1v1h-1zM180 683h1v2h-1zM1038 677h1v1h-1zM238 773h1v1h-1zM1009 650h1v5h-1zM257 786h1v1h-1zM1324 662h1v2h-1zM496 659h1v1h-1zM1413 589h1v2h-1zM380 713h1v1h-1zM465 671h1v1h-1zM625 660h1v1h-1zM242 778h1v2h-1zM1034 679h1v1h-1zM12 811h1v1h-1zM156 675h1v1h-1zM338 688h1v1h-1zM1001 623h1v1h-1zM1343 652h1v1h-1zM852 679h1v2h-1zM201 719h1v1h-1zM967 630h1v1h-1zM589 714h1v2h-1zM669 707h1v1h-1zM1481 621h1v2h-1zM399 703h1v1h-1zM841 670h1v1h-1zM1002 624h1v1h-1zM142 669h1v1h-1zM134 665h1v1h-1zM517 695h1v1h-1zM745 702h1v1h-1zM339 688h1v1h-1zM1425 577h1v1h-1zM921 635h1v1h-1zM1046 665h1v2h-1zM1087 667h1v1h-1zM1476 628h1v1h-1zM521 701h1v1h-1zM1339 659h1v1h-1zM472 665h1v1h-1zM1061 651h1v1h-1zM293 693h1v1h-1zM421 699h1v1h-1zM1258 670h1v1h-1zM1316 648h1v1h-1zM1176 637h1v1h-1zM308 678h1v1h-1zM979 617h1v1h-1zM822 670h1v1h-1zM909 638h1v1h-1zM714 728h1v1h-1zM706 724h1v1h-1zM20 805h1v2h-1zM581 729h1v3h-1zM795 652h1v1h-1zM1076 671h1v1h-1zM1164 640h1v1h-1zM15 811h1v1h-1zM1354 651h1v1h-1zM433 686h1v1h-1zM940 638h1v2h-1zM1160 642h1v1h-1zM847 676h1v1h-1zM513 687h1v2h-1zM345 694h1v1h-1zM869 700h1v1h-1zM997 620h1v1h-1zM848 677h1v1h-1zM989 616h1v1h-1zM208 725h1v2h-1zM1342 653h1v2h-1zM657 699h1v2h-1zM1387 662h1v1h-1zM346 695h1v1h-1zM998 621h1v1h-1zM107 678h1v1h-1zM897 654h1v2h-1zM870 700h1v1h-1zM1064 651h1v1h-1zM780 663h1v1h-1zM824 669h1v1h-1zM560 745h1v1h-1zM102 684h1v1h-1zM806 657h1v1h-1zM755 691h1v1h-1zM1144 652h1v1h-1zM552 740h1v1h-1zM103 685h1v1h-1zM740 710h1v2h-1zM60 723h1v2h-1zM1282 622h1v2h-1zM810 662h1v2h-1zM218 751h1v2h-1zM553 741h1v1h-1zM271 763h1v4h-1zM19 807h1v1h-1zM121 675h1v1h-1zM876 693h1v1h-1zM243 780h1v1h-1zM490 657h1v1h-1zM1132 655h1v1h-1zM244 781h1v1h-1zM91 688h1v1h-1zM460 671h1v1h-1zM935 635h1v1h-1zM122 675h1v1h-1zM1438 581h1v1h-1zM678 713h1v1h-1zM936 636h1v1h-1zM732 720h1v1h-1zM1442 586h1v2h-1zM447 673h1v1h-1zM371 714h1v1h-1zM854 682h1v2h-1zM664 707h1v1h-1zM333 687h1v1h-1zM144 671h1v1h-1zM782 662h1v1h-1zM1265 666h1v2h-1zM196 718h1v1h-1zM1391 663h1v1h-1zM34 805h1v1h-1zM1378 665h1v1h-1zM262 784h1v1h-1zM545 727h1v2h-1zM129 668h1v2h-1zM738 713h1v1h-1zM78 703h1v1h-1zM1253 670h1v1h-1zM1223 647h1v1h-1zM174 676h1v1h-1zM708 726h1v1h-1zM1379 665h1v1h-1zM774 671h1v2h-1zM493 658h1v1h-1zM235 771h1v1h-1zM638 667h1v1h-1zM1281 624h1v1h-1zM630 663h1v1h-1zM93 687h1v1h-1zM622 659h1v1h-1zM250 787h1v1h-1zM770 678h1v2h-1zM90 689h1v2h-1zM942 641h1v2h-1zM666 706h1v1h-1zM1277 631h1v2h-1zM1014 666h1v2h-1zM155 676h1v1h-1zM838 669h1v1h-1zM481 660h1v1h-1zM659 703h1v2h-1zM765 684h1v1h-1zM139 667h1v1h-1zM337 688h1v1h-1zM329 684h1v1h-1zM919 635h1v1h-1zM1085 667h1v1h-1zM1043 670h1v1h-1zM819 669h1v1h-1zM1067 653h1v2h-1zM388 711h1v1h-1zM1070 659h1v2h-1zM808 659h1v2h-1zM1332 665h1v1h-1zM800 655h1v1h-1zM1169 638h1v1h-1zM1311 642h1v1h-1zM703 722h1v1h-1zM1060 651h1v1h-1zM172 677h1v1h-1zM420 699h1v1h-1zM704 723h1v1h-1zM1328 667h1v1h-1zM231 768h1v1h-1zM1035 679h1v1h-1zM13 811h1v1h-1zM246 784h1v1h-1zM415 705h1v1h-1zM461 672h1v1h-1zM788 658h1v1h-1zM302 684h1v1h-1zM1441 585h1v1h-1zM1444 590h1v2h-1zM1096 666h1v1h-1zM1276 633h1v2h-1zM395 704h1v1h-1zM1153 648h1v1h-1zM1426 577h1v1h-1zM922 635h1v1h-1zM995 619h1v1h-1zM585 721h1v1h-1zM1088 667h1v1h-1zM965 633h1v2h-1zM525 706h1v1h-1zM868 700h1v1h-1zM1451 605h1v3h-1zM1154 648h1v1h-1zM1473 630h1v1h-1zM814 665h1v1h-1zM1062 650h1v1h-1zM309 678h1v1h-1zM803 655h1v1h-1zM1172 638h1v1h-1zM823 670h1v1h-1zM1255 672h1v1h-1zM1058 652h1v1h-1zM804 656h1v1h-1zM815 665h1v1h-1zM1103 660h1v1h-1zM72 706h1v1h-1zM632 665h1v1h-1zM507 669h1v3h-1zM1485 617h1v1h-1zM1161 642h1v1h-1zM944 644h1v1h-1zM1012 662h1v2h-1zM1428 577h1v1h-1zM749 697h1v2h-1zM902 647h1v1h-1zM69 709h1v2h-1zM933 634h1v1h-1zM1480 623h1v1h-1zM990 616h1v1h-1zM268 774h1v3h-1zM744 703h1v1h-1zM833 668h1v1h-1zM360 713h1v1h-1zM991 616h1v1h-1zM1023 685h1v2h-1zM1338 660h1v1h-1zM1236 649h1v1h-1zM825 669h1v1h-1zM361 714h1v1h-1zM1069 657h1v2h-1zM1417 580h1v2h-1zM1175 638h1v1h-1zM978 618h1v1h-1zM441 679h1v1h-1zM1247 663h1v1h-1zM1312 643h1v1h-1zM959 641h1v2h-1zM1313 644h1v2h-1zM882 686h1v2h-1zM698 722h1v1h-1zM491 657h1v1h-1zM649 685h1v1h-1zM628 662h1v1h-1zM620 658h1v1h-1zM248 786h1v1h-1zM650 686h1v2h-1zM1133 654h1v1h-1zM118 676h1v1h-1zM653 691h1v2h-1zM612 659h1v1h-1zM341 690h1v1h-1zM372 714h1v1h-1zM267 777h1v2h-1zM342 691h1v1h-1zM334 687h1v1h-1zM448 672h1v1h-1zM836 668h1v1h-1zM63 718h1v1h-1zM106 679h1v2h-1zM779 664h1v1h-1zM724 728h1v1h-1zM356 710h1v1h-1zM1450 603h1v2h-1zM263 784h1v1h-1zM1416 582h1v2h-1zM59 725h1v2h-1zM1194 619h1v1h-1zM79 703h1v1h-1zM716 729h1v1h-1zM1143 653h1v1h-1zM1457 619h1v2h-1zM1198 624h1v2h-1zM701 722h1v1h-1zM170 677h1v1h-1zM893 662h1v2h-1zM1195 619h1v1h-1zM18 808h1v1h-1zM387 711h1v1h-1zM634 668h1v1h-1zM251 787h1v1h-1zM182 687h1v2h-1zM1357 654h1v2h-1zM1368 663h1v1h-1zM1056 653h1v1h-1zM1326 665h1v2h-1zM790 655h1v1h-1zM374 713h1v1h-1zM1124 653h1v1h-1zM889 669h1v2h-1zM954 650h1v1h-1zM409 707h1v1h-1zM839 669h1v1h-1zM850 678h1v1h-1zM1000 622h1v1h-1zM151 676h1v1h-1zM1264 668h1v1h-1zM478 662h1v1h-1zM1029 685h1v2h-1zM1021 681h1v2h-1zM330 684h1v1h-1zM33 806h1v1h-1zM25 802h1v1h-1zM762 686h1v1h-1zM1086 667h1v1h-1zM1238 651h1v1h-1zM128 670h1v1h-1zM1314 646h1v1h-1zM1239 652h1v1h-1zM916 636h1v1h-1zM801 655h1v1h-1zM812 664h1v1h-1zM1315 647h1v1h-1zM287 699h1v2h-1zM98 683h1v1h-1zM794 652h1v1h-1zM813 665h1v1h-1zM637 668h1v1h-1zM1352 650h1v1h-1zM1171 638h1v1h-1zM1109 663h1v1h-1zM892 664h1v2h-1zM1329 666h1v1h-1zM462 672h1v1h-1zM769 680h1v1h-1zM377 713h1v1h-1zM938 637h1v1h-1zM930 633h1v1h-1zM89 691h1v1h-1zM146 673h1v1h-1zM10 812h1v1h-1zM299 686h1v1h-1zM888 671h1v2h-1zM846 675h1v1h-1zM198 719h1v1h-1zM1427 577h1v1h-1zM344 693h1v1h-1zM1295 623h1v1h-1zM831 668h1v1h-1zM294 692h1v1h-1zM199 720h1v1h-1zM393 707h1v1h-1zM1474 630h1v1h-1zM1234 648h1v1h-1zM1207 631h1v1h-1zM1173 638h1v1h-1zM1470 632h1v1h-1zM1059 652h1v1h-1zM419 700h1v1h-1zM640 668h1v1h-1zM711 728h1v1h-1zM220 755h1v2h-1zM1200 627h1v1h-1zM696 721h1v1h-1zM165 676h1v1h-1zM489 657h1v1h-1zM1486 617h1v1h-1zM1429 576h1v1h-1zM903 646h1v1h-1zM539 715h1v1h-1zM65 715h1v1h-1zM426 694h1v1h-1zM331 685h1v1h-1zM834 668h1v1h-1zM853 681h1v1h-1zM194 715h1v2h-1zM332 686h1v1h-1zM532 711h1v1h-1zM324 682h1v1h-1zM522 702h1v2h-1zM573 748h1v1h-1zM317 679h1v1h-1zM1251 668h1v1h-1zM1214 637h1v1h-1zM1317 649h1v1h-1zM707 725h1v1h-1zM1142 653h1v1h-1zM168 676h1v1h-1zM487 658h1v1h-1zM621 658h1v1h-1zM748 699h1v1h-1zM249 786h1v1h-1zM1484 618h1v1h-1zM733 719h1v1h-1zM1129 655h1v1h-1zM457 671h1v1h-1zM972 627h1v2h-1zM137 666h1v1h-1zM1122 652h1v1h-1zM941 640h1v1h-1zM535 712h1v1h-1zM1266 665h1v1h-1zM138 667h1v1h-1zM327 682h1v1h-1zM64 716h1v2h-1zM445 674h1v1h-1zM1297 625h1v1h-1zM328 683h1v1h-1zM1180 633h1v2h-1zM23 801h1v1h-1zM1290 622h1v1h-1zM24 802h1v1h-1zM817 667h1v1h-1zM264 782h1v2h-1zM75 704h1v1h-1zM881 688h1v1h-1zM914 636h1v1h-1zM818 668h1v1h-1zM702 722h1v1h-1zM171 677h1v1h-1zM1376 666h1v1h-1zM1349 649h1v1h-1zM76 704h1v1h-1zM383 712h1v1h-1zM1361 659h1v1h-1zM1350 649h1v1h-1zM375 713h1v1h-1zM955 649h1v2h-1zM873 697h1v1h-1zM851 678h1v1h-1zM1443 588h1v2h-1zM993 618h1v1h-1zM152 676h1v1h-1zM855 684h1v1h-1zM929 633h1v1h-1zM479 662h1v1h-1zM763 686h1v1h-1zM523 704h1v1h-1zM475 664h1v1h-1zM1243 657h1v1h-1zM1319 651h1v2h-1zM385 711h1v1h-1zM502 658h1v1h-1zM1254 671h1v1h-1zM1206 631h1v1h-1zM693 720h1v1h-1zM1330 666h1v1h-1zM1167 639h1v1h-1zM463 672h1v1h-1zM1032 680h1v1h-1zM412 706h1v1h-1zM939 637h1v1h-1zM931 633h1v1h-1zM1033 680h1v1h-1zM943 643h1v1h-1zM786 659h1v1h-1zM7 814h1v1h-1zM537 714h1v1h-1zM348 697h1v2h-1zM200 720h1v1h-1zM1116 655h1v1h-1zM322 682h1v1h-1zM291 694h1v1h-1zM1235 648h1v1h-1zM1300 627h1v2h-1zM394 705h1v2h-1zM1231 650h1v1h-1zM97 684h1v1h-1zM793 653h1v1h-1zM224 761h1v1h-1zM626 661h1v1h-1zM1108 664h1v1h-1zM618 657h1v1h-1zM697 721h1v1h-1zM166 676h1v1h-1zM485 658h1v1h-1zM1101 661h1v1h-1zM454 670h1v1h-1zM117 676h1v1h-1zM619 657h1v1h-1zM1127 655h1v1h-1zM486 658h1v1h-1zM432 687h1v1h-1zM842 671h1v1h-1zM202 719h1v1h-1zM1159 643h1v1h-1zM835 668h1v1h-1zM1478 625h1v1h-1zM867 700h1v1h-1zM135 665h1v1h-1zM987 616h1v1h-1zM1027 689h1v1h-1zM857 686h1v1h-1zM427 693h1v1h-1zM1385 662h1v1h-1zM325 682h1v1h-1zM28 804h1v1h-1zM136 666h1v1h-1zM29 805h1v1h-1zM1336 662h1v1h-1zM960 640h1v1h-1zM1233 649h1v1h-1zM911 635h1v1h-1zM1245 660h1v1h-1zM1288 621h1v1h-1zM796 653h1v1h-1zM305 681h1v1h-1zM797 654h1v1h-1zM1366 662h1v1h-1zM754 692h1v1h-1zM1355 652h1v1h-1zM1347 648h1v1h-1zM119 675h1v1h-1zM488 658h1v1h-1zM1104 661h1v1h-1zM907 641h1v1h-1zM875 694h1v1h-1zM1130 655h1v1h-1zM430 689h1v1h-1zM458 671h1v1h-1zM1123 652h1v1h-1zM149 675h1v1h-1zM347 696h1v1h-1zM661 706h1v1h-1zM849 677h1v1h-1zM150 676h1v1h-1zM725 727h1v1h-1zM1388 662h1v1h-1zM446 674h1v1h-1zM1298 625h1v1h-1zM1389 663h1v1h-1zM1299 626h1v1h-1zM565 746h1v1h-1zM1237 650h1v1h-1zM915 636h1v1h-1zM1210 633h1v1h-1zM468 670h1v1h-1zM1145 652h1v1h-1zM1211 634h1v1h-1zM1203 630h1v1h-1zM1377 666h1v1h-1zM1192 620h1v1h-1zM975 622h1v1h-1zM384 712h1v1h-1zM1141 654h1v1h-1zM1362 659h1v1h-1zM16 810h1v1h-1zM1351 649h1v1h-1zM691 719h1v1h-1zM160 674h1v1h-1zM971 629h1v1h-1zM145 672h1v1h-1zM609 663h1v1h-1zM982 616h1v1h-1zM335 688h1v1h-1zM1421 577h1v1h-1zM568 747h1v1h-1zM30 806h1v1h-1zM319 680h1v1h-1zM1179 635h1v1h-1zM917 635h1v1h-1zM1083 667h1v1h-1zM1262 669h1v1h-1zM31 807h1v1h-1zM320 681h1v1h-1zM312 677h1v1h-1zM776 668h1v1h-1zM709 727h1v1h-1zM386 711h1v1h-1zM1080 670h1v1h-1zM631 664h1v1h-1zM163 675h1v1h-1zM1168 639h1v1h-1zM736 716h1v1h-1zM623 659h1v1h-1zM1106 664h1v1h-1zM413 706h1v1h-1zM624 660h1v1h-1zM1107 665h1v1h-1zM164 675h1v1h-1zM617 657h1v1h-1zM787 659h1v1h-1zM947 648h1v1h-1zM1094 667h1v1h-1zM1423 577h1v1h-1zM140 668h1v1h-1zM1125 654h1v1h-1zM538 714h1v1h-1zM530 710h1v1h-1zM141 669h1v1h-1zM783 661h1v1h-1zM133 665h1v1h-1zM985 616h1v1h-1zM1095 667h1v1h-1zM531 711h1v1h-1zM920 635h1v1h-1zM1025 688h1v1h-1zM828 668h1v1h-1zM1152 649h1v1h-1zM83 700h1v1h-1zM26 803h1v1h-1zM1148 651h1v1h-1zM820 669h1v1h-1zM1212 635h1v1h-1z"/>
<path class="c" fill="#000" d="M590 737h1v1h-1zM385 713h1v1h-1zM869 683h1v1h-1zM679 702h1v1h-1zM471 673h1v1h-1zM954 641h1v1h-1zM920 648h1v1h-1zM314 689h1v2h-1zM378 710h1v1h-1zM278 772h1v2h-1zM290 744h1v3h-1zM980 635h1v1h-1zM1450 584h1v1h-1zM1491 622h1v1h-1zM348 687h1v1h-1zM340 683h1v1h-1zM412 708h1v1h-1zM1292 641h1v1h-1zM121 681h1v1h-1zM758 707h1v1h-1zM549 713h1v2h-1zM778 685h1v1h-1zM273 778h1v1h-1zM1425 611h1v3h-1zM310 695h1v2h-1zM731 726h1v1h-1zM1414 638h1v2h-1zM269 780h1v1h-1zM1082 660h1v1h-1zM93 703h1v2h-1zM622 674h1v2h-1zM1333 650h1v1h-1zM1239 643h1v1h-1zM1250 652h1v1h-1zM1378 658h1v1h-1zM820 659h1v1h-1zM1334 651h1v1h-1zM306 703h1v2h-1zM715 722h1v1h-1zM1497 614h1v2h-1zM53 787h1v2h-1zM750 716h1v1h-1zM770 694h1v1h-1zM1422 619h1v2h-1zM716 723h1v1h-1zM790 672h1v1h-1zM1379 658h1v1h-1zM660 679h1v1h-1zM606 707h1v2h-1zM512 664h1v1h-1zM1036 669h1v2h-1zM504 660h1v1h-1zM618 681h1v2h-1zM887 690h1v1h-1zM473 672h1v1h-1zM701 716h1v1h-1zM693 712h1v1h-1zM281 767h1v2h-1zM73 738h1v2h-1zM765 699h1v2h-1zM1295 637h1v1h-1zM918 650h1v1h-1zM957 641h1v1h-1zM781 681h1v2h-1zM162 672h1v1h-1zM1201 629h1v1h-1zM1359 657h1v1h-1zM614 689h1v2h-1zM123 680h1v1h-1zM1108 666h1v1h-1zM1470 609h1v2h-1zM1489 623h1v1h-1zM374 707h1v1h-1zM277 774h1v1h-1zM289 747h1v2h-1zM228 738h1v2h-1zM1011 626h1v1h-1zM577 742h1v1h-1zM757 708h1v2h-1zM1166 648h1v1h-1zM232 744h1v2h-1zM823 660h1v1h-1zM1325 640h1v2h-1zM578 743h1v1h-1zM1389 662h1v1h-1zM1086 661h1v1h-1zM324 683h1v1h-1zM143 671h1v1h-1zM995 622h1v1h-1zM430 701h1v1h-1zM1302 630h1v1h-1zM191 684h1v1h-1zM63 764h1v3h-1zM250 770h1v1h-1zM305 705h1v3h-1zM788 674h1v1h-1zM1432 596h1v2h-1zM1028 655h1v2h-1zM1032 662h1v2h-1zM192 685h1v1h-1zM507 660h1v1h-1zM812 658h1v1h-1zM1181 641h1v1h-1zM1496 616h1v2h-1zM52 789h1v2h-1zM677 699h1v2h-1zM1421 621h1v2h-1zM1408 651h1v2h-1zM508 661h1v1h-1zM519 670h1v1h-1zM637 662h1v1h-1zM104 693h1v1h-1zM533 690h1v1h-1zM1204 629h1v1h-1zM860 676h1v1h-1zM879 689h1v1h-1zM852 672h1v1h-1zM534 691h1v2h-1zM358 694h1v1h-1zM48 796h1v2h-1zM537 696h1v1h-1zM1429 602h1v2h-1zM613 691h1v2h-1zM600 721h1v2h-1zM861 676h1v1h-1zM551 716h1v1h-1zM1062 666h1v1h-1zM853 672h1v1h-1zM288 749h1v3h-1zM154 671h1v1h-1zM1006 622h1v1h-1zM1400 661h1v1h-1zM795 667h1v1h-1zM43 803h1v1h-1zM933 637h1v1h-1zM1267 662h1v1h-1zM1131 658h1v1h-1zM295 731h1v3h-1zM484 667h1v1h-1zM1053 675h1v1h-1zM814 658h1v1h-1zM1021 641h1v2h-1zM1222 632h1v1h-1zM1241 645h1v1h-1zM1214 628h1v1h-1zM971 641h1v1h-1zM639 662h1v1h-1zM1373 657h1v1h-1zM815 658h1v1h-1zM106 692h1v1h-1zM669 689h1v2h-1zM1038 672h1v2h-1zM292 739h1v2h-1zM640 662h1v1h-1zM316 687h1v1h-1zM1145 654h1v1h-1zM673 694h1v2h-1zM603 714h1v3h-1zM745 720h1v1h-1zM803 661h1v1h-1zM70 746h1v3h-1zM353 690h1v1h-1zM59 774h1v3h-1zM354 691h1v1h-1zM1415 635h1v3h-1zM1103 666h1v1h-1zM157 671h1v1h-1zM230 741h1v2h-1zM1195 632h1v1h-1zM1133 657h1v1h-1zM599 723h1v1h-1zM611 695h1v3h-1zM234 747h1v2h-1zM897 682h1v1h-1zM1191 634h1v1h-1zM1346 657h1v1h-1zM1236 642h1v1h-1zM67 754h1v3h-1zM624 672h1v1h-1zM569 735h1v2h-1zM1383 660h1v1h-1zM114 686h1v1h-1zM752 714h1v1h-1zM818 659h1v1h-1zM595 730h1v1h-1zM607 704h1v3h-1zM653 670h1v2h-1zM713 722h1v1h-1zM705 718h1v1h-1zM1376 657h1v1h-1zM399 711h1v1h-1zM654 672h1v1h-1zM183 678h1v1h-1zM706 719h1v1h-1zM1377 658h1v1h-1zM698 715h1v1h-1zM31 809h1v1h-1zM521 672h1v2h-1zM1068 662h1v1h-1zM743 722h1v1h-1zM448 688h1v1h-1zM535 693h1v1h-1zM386 713h1v1h-1zM291 741h1v3h-1zM15 806h1v1h-1zM955 641h1v1h-1zM947 637h1v1h-1zM1175 644h1v1h-1zM587 739h1v1h-1zM379 710h1v1h-1zM539 699h1v1h-1zM948 638h1v1h-1zM1357 657h1v1h-1zM349 687h1v1h-1zM1106 666h1v1h-1zM341 683h1v1h-1zM360 696h1v1h-1zM627 668h1v1h-1zM342 684h1v1h-1zM361 697h1v1h-1zM299 720h1v3h-1zM57 779h1v2h-1zM122 680h1v1h-1zM1438 585h1v2h-1zM1231 638h1v1h-1zM270 780h1v1h-1zM913 657h1v2h-1zM240 756h1v2h-1zM455 682h1v1h-1zM1232 639h1v1h-1zM1023 645h1v2h-1zM66 757h1v2h-1zM322 683h1v1h-1zM141 671h1v1h-1zM244 762h1v2h-1zM1434 592h1v2h-1zM1285 650h1v1h-1zM594 731h1v2h-1zM323 683h1v1h-1zM505 660h1v1h-1zM671 692h1v1h-1zM1040 675h1v1h-1zM1301 630h1v1h-1zM1280 656h1v1h-1zM1368 656h1v1h-1zM86 712h1v2h-1zM958 641h1v1h-1zM876 688h1v1h-1zM1296 636h1v1h-1zM1202 629h1v1h-1zM1457 590h1v2h-1zM985 631h1v1h-1zM1360 657h1v1h-1zM782 680h1v1h-1zM493 663h1v1h-1zM1277 659h1v1h-1zM858 675h1v1h-1zM1461 596h1v1h-1zM850 671h1v1h-1zM218 722h1v2h-1zM356 693h1v1h-1zM463 676h1v1h-1zM1442 582h1v1h-1zM843 668h1v1h-1zM567 733h1v1h-1zM1264 661h1v1h-1zM222 729h1v2h-1zM546 709h1v2h-1zM333 682h1v1h-1zM1004 621h1v1h-1zM1413 640h1v2h-1zM298 723h1v3h-1zM56 781h1v2h-1zM1265 662h1v1h-1zM1319 633h1v1h-1zM1257 658h1v1h-1zM579 743h1v1h-1zM794 668h1v1h-1zM1329 645h1v2h-1zM1394 663h1v1h-1zM1227 635h1v1h-1zM1246 648h1v1h-1zM774 689h1v1h-1zM1185 638h1v1h-1zM1330 647h1v1h-1zM1228 636h1v1h-1zM139 672h1v1h-1zM969 641h1v1h-1zM992 624h1v1h-1zM1052 675h1v1h-1zM64 762h1v2h-1zM1284 651h1v2h-1zM196 690h1v1h-1zM813 658h1v1h-1zM206 702h1v2h-1zM1151 653h1v1h-1zM177 676h1v1h-1zM1371 656h1v1h-1zM523 675h1v1h-1zM638 662h1v1h-1zM207 704h1v1h-1zM210 708h1v2h-1zM880 689h1v1h-1zM872 685h1v1h-1zM6 799h1v1h-1zM85 714h1v1h-1zM1200 630h1v1h-1zM1139 656h1v1h-1zM602 717h1v2h-1zM942 636h1v1h-1zM155 671h1v1h-1zM1007 622h1v1h-1zM461 677h1v1h-1zM81 720h1v2h-1zM336 682h1v1h-1zM934 637h1v1h-1zM1268 662h1v1h-1zM1252 654h1v1h-1zM1336 653h1v1h-1zM1127 659h1v1h-1zM1233 640h1v1h-1zM1253 655h1v1h-1zM930 639h1v1h-1zM480 668h1v1h-1zM404 709h1v1h-1zM1223 632h1v1h-1zM1054 674h1v1h-1zM1242 645h1v1h-1zM1215 628h1v1h-1zM246 765h1v2h-1zM890 688h1v1h-1zM285 757h1v3h-1zM77 728h1v2h-1zM188 681h1v1h-1zM247 767h1v1h-1zM180 677h1v1h-1zM481 668h1v1h-1zM1374 657h1v1h-1zM816 658h1v1h-1zM711 721h1v1h-1zM703 717h1v1h-1zM891 688h1v1h-1zM515 666h1v1h-1zM29 809h1v1h-1zM181 677h1v1h-1zM704 718h1v1h-1zM696 714h1v1h-1zM952 640h1v1h-1zM131 676h1v1h-1zM867 681h1v1h-1zM376 709h1v1h-1zM1141 655h1v1h-1zM301 715h1v3h-1zM1428 604h1v2h-1zM1448 583h1v1h-1zM902 675h1v2h-1zM868 682h1v1h-1zM47 798h1v1h-1zM127 678h1v1h-1zM953 640h1v1h-1zM220 725h1v2h-1zM800 663h1v1h-1zM377 709h1v1h-1zM60 772h1v2h-1zM221 727h1v2h-1zM224 732h1v2h-1zM339 682h1v1h-1zM548 712h1v1h-1zM438 697h1v1h-1zM1321 635h1v2h-1zM407 709h1v1h-1zM1188 636h1v1h-1zM1229 637h1v1h-1zM609 700h1v2h-1zM284 760h1v2h-1zM714 722h1v1h-1zM111 688h1v1h-1zM1118 662h1v1h-1zM658 677h1v1h-1zM395 712h1v1h-1zM32 809h1v1h-1zM525 678h1v1h-1zM472 672h1v1h-1zM209 707h1v1h-1zM387 713h1v1h-1zM684 707h1v1h-1zM744 721h1v1h-1zM213 713h1v2h-1zM468 674h1v1h-1zM499 661h1v1h-1zM372 706h1v1h-1zM1107 666h1v1h-1zM584 741h1v1h-1zM840 667h1v1h-1zM1008 623h1v1h-1zM628 667h1v1h-1zM1009 624h1v1h-1zM1001 620h1v1h-1zM576 742h1v1h-1zM271 780h1v1h-1zM733 725h1v1h-1zM623 673h1v1h-1zM331 681h1v1h-1zM231 743h1v1h-1zM1263 661h1v1h-1zM1309 628h1v1h-1zM1424 614h1v2h-1zM751 715h1v1h-1zM456 681h1v1h-1zM1079 660h1v1h-1zM771 693h1v1h-1zM1436 588h1v2h-1zM1225 634h1v1h-1zM248 768h1v1h-1zM1030 659h1v2h-1zM190 683h1v1h-1zM619 680h1v1h-1zM282 765h1v2h-1zM74 735h1v3h-1zM925 643h1v1h-1zM1031 661h1v1h-1zM1034 666h1v2h-1zM1149 653h1v1h-1zM1369 656h1v1h-1zM676 698h1v1h-1zM877 688h1v1h-1zM763 702h1v1h-1zM367 702h1v1h-1zM1198 630h1v1h-1zM368 703h1v1h-1zM851 671h1v1h-1zM940 636h1v1h-1zM844 668h1v1h-1zM98 698h1v1h-1zM490 664h1v1h-1zM571 738h1v1h-1zM550 715h1v1h-1zM334 682h1v1h-1zM1005 621h1v1h-1zM1341 656h1v1h-1zM460 678h1v1h-1zM1323 638h1v1h-1zM572 739h1v1h-1zM1289 644h1v2h-1zM1395 663h1v1h-1zM755 711h1v1h-1zM1220 631h1v1h-1zM140 672h1v1h-1zM432 700h1v1h-1zM255 775h1v1h-1zM1182 640h1v1h-1zM1410 647h1v2h-1zM1221 631h1v1h-1zM185 679h1v1h-1zM90 707h1v1h-1zM708 720h1v1h-1zM923 645h1v1h-1zM908 665h1v2h-1zM428 702h1v1h-1zM1300 631h1v1h-1zM186 680h1v1h-1zM1152 653h1v1h-1zM105 692h1v1h-1zM178 676h1v1h-1zM1372 656h1v1h-1zM634 663h1v1h-1zM1453 586h1v1h-1zM381 711h1v1h-1zM950 639h1v1h-1zM1276 660h1v1h-1zM363 699h1v1h-1zM382 712h1v1h-1zM1140 656h1v1h-1zM943 636h1v1h-1zM1446 582h1v1h-1zM344 685h1v1h-1zM462 677h1v1h-1zM1397 662h1v1h-1zM337 682h1v1h-1zM1471 611h1v1h-1zM151 671h1v1h-1zM1472 612h1v2h-1zM793 669h1v1h-1zM41 805h1v1h-1zM1128 659h1v1h-1zM1475 617h1v1h-1zM911 661h1v1h-1zM1234 640h1v1h-1zM233 746h1v1h-1zM405 709h1v1h-1zM236 750h1v2h-1zM1055 674h1v1h-1zM1235 641h1v1h-1zM37 807h1v1h-1zM1382 660h1v1h-1zM968 642h1v1h-1zM1154 652h1v1h-1zM1051 676h1v1h-1zM1283 653h1v1h-1zM1029 657h1v2h-1zM1409 649h1v2h-1zM393 712h1v1h-1zM89 708h1v2h-1zM1043 677h1v1h-1zM907 667h1v1h-1zM697 714h1v1h-1zM689 710h1v1h-1zM804 660h1v1h-1zM1405 656h1v1h-1zM1417 630h1v3h-1zM369 704h1v1h-1zM302 713h1v2h-1zM903 674h1v1h-1zM845 669h1v1h-1zM898 681h1v1h-1zM1192 633h1v1h-1zM80 722h1v2h-1zM1259 659h1v1h-1zM573 740h1v1h-1zM552 717h1v1h-1zM1249 651h1v1h-1zM1059 670h1v1h-1zM408 709h1v1h-1zM1260 660h1v1h-1zM1230 637h1v1h-1zM329 681h1v1h-1zM1077 660h1v1h-1zM265 781h1v1h-1zM1119 662h1v1h-1zM396 712h1v1h-1zM1115 664h1v1h-1zM663 683h1v1h-1zM172 674h1v1h-1zM1065 663h1v1h-1zM173 675h1v1h-1zM1172 645h1v1h-1zM1455 588h1v1h-1zM500 661h1v1h-1zM446 690h1v1h-1zM856 674h1v1h-1zM875 687h1v1h-1zM1416 633h1v2h-1zM1066 663h1v1h-1zM313 691h1v1h-1zM741 723h1v1h-1zM365 701h1v1h-1zM1404 657h1v2h-1zM1354 657h1v1h-1zM1441 582h1v1h-1zM849 670h1v1h-1zM1473 614h1v1h-1zM1002 620h1v1h-1zM1484 623h1v1h-1zM410 708h1v1h-1zM1013 629h1v1h-1zM979 636h1v1h-1zM1474 615h1v2h-1zM1485 624h1v1h-1zM1244 647h1v1h-1zM1255 656h1v1h-1zM309 697h1v2h-1zM146 671h1v1h-1zM267 781h1v1h-1zM729 726h1v1h-1zM332 681h1v1h-1zM1339 655h1v1h-1zM1310 628h1v1h-1zM1256 657h1v1h-1zM1080 660h1v1h-1zM138 672h1v1h-1zM1218 630h1v1h-1zM75 732h1v3h-1zM268 781h1v1h-1zM621 676h1v2h-1zM453 683h1v1h-1zM134 674h1v1h-1zM175 675h1v1h-1zM194 688h1v1h-1zM320 684h1v1h-1zM426 702h1v1h-1zM592 734h1v2h-1zM195 689h1v1h-1zM1370 656h1v1h-1zM502 660h1v1h-1zM986 630h1v1h-1zM680 703h1v1h-1zM617 683h1v2h-1zM870 683h1v1h-1zM1199 630h1v1h-1zM681 704h1v1h-1zM536 694h1v2h-1zM1443 581h1v1h-1zM1294 638h1v1h-1zM917 651h1v2h-1zM1487 624h1v1h-1zM276 775h1v2h-1zM491 664h1v1h-1zM554 720h1v1h-1zM775 688h1v1h-1zM1164 649h1v1h-1zM149 671h1v1h-1zM732 726h1v1h-1zM118 683h1v1h-1zM487 666h1v1h-1zM1240 644h1v1h-1zM1251 653h1v1h-1zM833 665h1v1h-1zM1083 660h1v1h-1zM1423 616h1v3h-1zM1160 651h1v1h-1zM993 623h1v1h-1zM1435 590h1v2h-1zM809 658h1v1h-1zM709 720h1v1h-1zM924 644h1v1h-1zM702 717h1v1h-1zM990 626h1v1h-1zM767 697h1v1h-1zM787 675h1v1h-1zM1148 654h1v1h-1zM1495 618h1v1h-1zM635 663h1v1h-1zM686 708h1v1h-1zM1041 676h1v1h-1zM4 796h1v1h-1zM762 703h1v1h-1zM695 713h1v1h-1zM951 639h1v1h-1zM687 709h1v1h-1zM375 708h1v1h-1zM1136 657h1v1h-1zM1293 639h1v2h-1zM916 653h1v1h-1zM97 699h1v1h-1zM1398 662h1v1h-1zM1349 657h1v1h-1zM152 671h1v1h-1zM931 638h1v1h-1zM459 679h1v1h-1zM1162 650h1v1h-1zM1288 646h1v1h-1zM1124 660h1v1h-1zM94 702h1v1h-1zM912 659h1v2h-1zM38 807h1v1h-1zM932 638h1v1h-1zM1387 661h1v1h-1zM482 667h1v1h-1zM251 771h1v1h-1zM262 780h1v1h-1zM431 701h1v1h-1zM724 725h1v1h-1zM1212 628h1v1h-1zM478 669h1v1h-1zM25 809h1v1h-1zM888 689h1v1h-1zM657 675h1v2h-1zM170 674h1v1h-1zM26 809h1v1h-1zM128 677h1v1h-1zM524 676h1v2h-1zM682 705h1v1h-1zM420 705h1v1h-1zM801 662h1v1h-1zM538 697h1v2h-1zM370 704h1v1h-1zM101 695h1v1h-1zM416 707h1v1h-1zM846 669h1v1h-1zM542 703h1v2h-1zM45 800h1v2h-1zM1352 657h1v1h-1zM439 696h1v1h-1zM1101 666h1v1h-1zM1482 623h1v1h-1zM1314 630h1v1h-1zM574 740h1v1h-1zM1189 635h1v1h-1zM40 806h1v1h-1zM1261 660h1v1h-1zM1307 627h1v1h-1zM727 726h1v1h-1zM330 681h1v1h-1zM598 724h1v2h-1zM1022 643h1v2h-1zM112 687h1v1h-1zM1078 660h1v1h-1zM1337 654h1v1h-1zM266 781h1v1h-1zM258 777h1v1h-1zM28 809h1v1h-1zM1216 629h1v1h-1zM1116 663h1v1h-1zM174 675h1v1h-1zM1173 645h1v1h-1zM1459 593h1v1h-1zM585 740h1v1h-1zM470 673h1v1h-1zM945 637h1v1h-1zM366 701h1v1h-1zM1460 594h1v2h-1zM1169 647h1v1h-1zM1463 599h1v1h-1zM1355 657h1v1h-1zM601 719h1v2h-1zM1104 666h1v1h-1zM586 740h1v1h-1zM411 708h1v1h-1zM1477 619h1v1h-1zM44 802h1v1h-1zM225 734h1v1h-1zM1486 624h1v1h-1zM626 669h1v1h-1zM1478 620h1v1h-1zM730 726h1v1h-1zM1058 671h1v1h-1zM976 638h1v1h-1zM485 666h1v1h-1zM1237 642h1v1h-1zM1311 628h1v1h-1zM597 726h1v2h-1zM1322 637h1v1h-1zM1081 660h1v1h-1zM253 773h1v1h-1zM76 730h1v2h-1zM655 673h1v1h-1zM176 675h1v1h-1zM254 774h1v1h-1zM1207 628h1v1h-1zM321 684h1v1h-1zM198 693h1v1h-1zM522 674h1v1h-1zM707 719h1v1h-1zM699 715h1v1h-1zM691 711h1v1h-1zM503 660h1v1h-1zM199 694h1v1h-1zM526 679h1v2h-1zM317 686h1v1h-1zM700 716h1v1h-1zM692 712h1v1h-1zM380 711h1v1h-1zM445 691h1v1h-1zM300 718h1v2h-1zM165 673h1v1h-1zM312 692h1v2h-1zM1358 657h1v1h-1zM1488 623h1v1h-1zM373 707h1v1h-1zM1440 583h1v1h-1zM1196 631h1v1h-1zM937 636h1v1h-1zM978 637h1v1h-1zM756 710h1v1h-1zM841 668h1v1h-1zM150 671h1v1h-1zM96 700h1v1h-1zM1262 661h1v1h-1zM308 699h1v2h-1zM1412 642h1v2h-1zM834 665h1v1h-1zM1392 663h1v1h-1zM91 706h1v1h-1zM137 673h1v1h-1zM245 764h1v1h-1zM55 783h1v2h-1zM596 728h1v2h-1zM429 701h1v1h-1zM608 702h1v2h-1zM810 658h1v1h-1zM452 684h1v1h-1zM1210 628h1v1h-1zM260 779h1v1h-1zM319 685h1v1h-1zM1420 623h1v2h-1zM811 658h1v1h-1zM1180 641h1v1h-1zM23 808h1v1h-1zM1298 633h1v1h-1zM168 673h1v1h-1zM1462 597h1v2h-1zM219 724h1v1h-1zM982 634h1v1h-1zM414 707h1v1h-1zM1098 665h1v1h-1zM1137 656h1v1h-1zM1466 603h1v2h-1zM275 777h1v1h-1zM1320 634h1v1h-1zM1163 650h1v1h-1zM1099 665h1v1h-1zM1247 649h1v1h-1zM1480 622h1v1h-1zM1266 662h1v1h-1zM1312 629h1v1h-1zM1258 658h1v1h-1zM307 701h1v2h-1zM1125 659h1v1h-1zM1411 644h1v3h-1zM263 780h1v1h-1zM54 785h1v2h-1zM402 709h1v1h-1zM1213 628h1v1h-1zM970 641h1v1h-1zM479 669h1v1h-1zM989 627h1v1h-1zM889 689h1v1h-1zM256 776h1v1h-1zM786 676h1v1h-1zM475 671h1v1h-1zM1072 661h1v1h-1zM1281 655h1v1h-1zM1494 619h1v1h-1zM50 792h1v2h-1zM661 680h1v2h-1zM171 674h1v1h-1zM211 710h1v1h-1zM1419 625h1v3h-1zM62 767h1v2h-1zM1431 598h1v2h-1zM27 809h1v1h-1zM129 677h1v1h-1zM528 682h1v2h-1zM212 711h1v2h-1zM125 679h1v1h-1zM102 695h1v1h-1zM556 722h1v1h-1zM1353 657h1v1h-1zM1427 606h1v3h-1zM1102 666h1v1h-1zM1483 623h1v1h-1zM1060 669h1v1h-1zM1315 630h1v1h-1zM1190 635h1v1h-1zM1012 627h1v2h-1zM1254 655h1v1h-1zM326 682h1v1h-1zM997 621h1v1h-1zM828 663h1v1h-1zM1304 628h1v1h-1zM109 689h1v1h-1zM294 734h1v2h-1zM1375 657h1v1h-1zM667 687h1v1h-1zM1033 664h1v2h-1zM193 686h1v2h-1zM668 688h1v1h-1zM501 660h1v1h-1zM678 701h1v1h-1zM1067 662h1v1h-1zM49 794h1v2h-1zM742 722h1v1h-1zM419 706h1v1h-1zM1364 656h1v1h-1zM61 769h1v3h-1zM1430 600h1v2h-1zM497 662h1v1h-1zM690 711h1v1h-1zM946 637h1v1h-1zM738 724h1v1h-1zM1356 657h1v1h-1zM467 675h1v1h-1zM1105 666h1v1h-1zM1170 646h1v1h-1zM838 667h1v1h-1zM69 749h1v2h-1zM999 620h1v1h-1zM831 664h1v1h-1zM553 718h1v2h-1zM117 683h1v1h-1zM1326 642h1v1h-1zM895 684h1v1h-1zM1390 663h1v1h-1zM435 699h1v1h-1zM1025 649h1v2h-1zM593 733h1v1h-1zM659 678h1v1h-1zM1366 656h1v1h-1zM136 673h1v1h-1zM451 685h1v1h-1zM293 736h1v3h-1zM318 686h1v1h-1zM21 808h1v1h-1zM530 685h1v2h-1zM685 708h1v1h-1zM1367 656h1v1h-1zM469 674h1v1h-1zM166 673h1v1h-1zM3 795h1v1h-1zM1010 625h1v1h-1zM558 724h1v1h-1zM1197 631h1v1h-1zM938 636h1v1h-1zM119 682h1v1h-1zM488 665h1v1h-1zM1096 664h1v1h-1zM559 725h1v1h-1zM842 668h1v1h-1zM625 670h1v2h-1zM1317 632h1v1h-1zM1014 630h1v2h-1zM1161 650h1v1h-1zM1097 665h1v1h-1zM68 751h1v3h-1zM835 665h1v1h-1zM975 639h1v1h-1zM773 690h1v2h-1zM235 749h1v1h-1zM1393 663h1v1h-1zM249 769h1v1h-1zM239 755h1v1h-1zM748 718h1v1h-1zM768 696h1v1h-1zM1211 628h1v1h-1zM261 779h1v1h-1zM963 642h1v1h-1zM24 808h1v1h-1zM807 659h1v1h-1zM922 646h1v1h-1zM1150 653h1v1h-1zM605 709h1v3h-1zM280 769h1v2h-1zM84 715h1v2h-1zM1274 661h1v1h-1zM72 740h1v3h-1zM760 705h1v1h-1zM780 683h1v1h-1zM540 700h1v2h-1zM983 633h1v1h-1zM1138 656h1v1h-1zM1439 584h1v1h-1zM941 636h1v1h-1zM1275 661h1v1h-1zM914 655h1v2h-1zM1324 639h1v1h-1zM95 701h1v1h-1zM1100 665h1v1h-1zM335 682h1v1h-1zM272 779h1v1h-1zM1481 622h1v1h-1zM1313 629h1v1h-1zM1396 663h1v1h-1zM1126 659h1v1h-1zM1286 648h1v2h-1zM929 639h1v1h-1zM457 680h1v1h-1zM403 709h1v1h-1zM772 692h1v1h-1zM1027 653h1v2h-1zM792 670h1v1h-1zM910 662h1v2h-1zM1024 647h1v2h-1zM1183 640h1v1h-1zM201 696h1v1h-1zM966 642h1v1h-1zM620 678h1v2h-1zM1049 676h1v1h-1zM304 708h1v2h-1zM885 690h1v1h-1zM1179 642h1v1h-1zM694 713h1v1h-1zM1297 634h1v2h-1zM906 668h1v2h-1zM417 706h1v1h-1zM604 712h1v2h-1zM1362 656h1v1h-1zM616 685h1v2h-1zM46 799h1v1h-1zM71 743h1v3h-1zM16 807h1v1h-1zM83 717h1v1h-1zM160 671h1v1h-1zM5 797h1v2h-1zM126 678h1v1h-1zM274 778h1v1h-1zM612 693h1v2h-1zM1476 618h1v1h-1zM287 752h1v3h-1zM79 724h1v2h-1zM561 727h1v2h-1zM836 666h1v1h-1zM1016 633h1v2h-1zM237 752h1v1h-1zM437 697h1v1h-1zM829 663h1v1h-1zM406 709h1v1h-1zM238 753h1v2h-1zM241 758h1v1h-1zM1305 628h1v1h-1zM1075 660h1v1h-1zM717 723h1v1h-1zM252 772h1v1h-1zM394 712h1v1h-1zM197 691h1v2h-1zM303 710h1v3h-1zM672 693h1v1h-1zM1113 664h1v1h-1zM1365 656h1v1h-1zM163 672h1v1h-1zM11 803h1v1h-1zM1064 664h1v1h-1zM498 661h1v1h-1zM739 724h1v1h-1zM615 687h1v2h-1zM82 718h1v2h-1zM1171 646h1v1h-1zM839 667h1v1h-1zM494 663h1v1h-1zM977 637h1v1h-1zM1094 664h1v1h-1zM1167 648h1v1h-1zM1000 620h1v1h-1zM568 734h1v1h-1zM286 755h1v2h-1zM78 726h1v2h-1zM144 671h1v1h-1zM1056 673h1v1h-1zM1391 663h1v1h-1zM108 690h1v1h-1zM203 698h1v1h-1zM961 642h1v1h-1zM664 684h1v1h-1zM204 699h1v2h-1zM167 673h1v1h-1zM7 800h1v1h-1zM443 693h1v1h-1zM1464 600h1v2h-1zM939 636h1v1h-1zM489 665h1v1h-1zM1003 620h1v1h-1zM1318 632h1v1h-1zM563 730h1v1h-1zM1018 636h1v2h-1zM1132 658h1v1h-1zM116 684h1v1h-1zM610 698h1v2h-1zM147 671h1v1h-1zM1158 651h1v1h-1zM65 759h1v3h-1zM749 717h1v1h-1zM964 642h1v1h-1zM1299 632h1v1h-1zM135 674h1v1h-1zM1498 612h1v2h-1zM450 686h1v1h-1zM427 702h1v1h-1zM641 662h1v1h-1zM808 659h1v1h-1zM589 737h1v1h-1zM1146 654h1v1h-1zM423 704h1v1h-1zM633 663h1v1h-1zM217 720h1v2h-1zM214 715h1v2h-1zM158 671h1v1h-1zM761 704h1v1h-1zM544 706h1v2h-1zM1134 657h1v1h-1zM555 721h1v1h-1zM1271 662h1v1h-1zM1328 644h1v1h-1zM1347 657h1v1h-1zM297 726h1v2h-1zM1437 587h1v1h-1zM826 662h1v1h-1zM458 680h1v1h-1zM1122 660h1v1h-1zM819 659h1v1h-1zM1287 647h1v1h-1zM1385 661h1v1h-1zM753 713h1v1h-1zM967 642h1v1h-1zM476 670h1v1h-1zM1073 660h1v1h-1zM1282 654h1v1h-1zM205 701h1v1h-1zM1433 594h1v2h-1zM1050 676h1v1h-1zM665 685h1v1h-1zM88 710h1v1h-1zM51 791h1v1h-1zM511 663h1v1h-1zM666 686h1v1h-1zM921 647h1v1h-1zM477 670h1v1h-1zM1074 660h1v1h-1zM784 678h1v1h-1zM279 771h1v1h-1zM636 663h1v1h-1zM956 641h1v1h-1zM688 710h1v1h-1zM103 694h1v1h-1zM418 706h1v1h-1zM17 807h1v1h-1zM779 684h1v1h-1zM351 688h1v1h-1zM223 731h1v1h-1zM343 684h1v1h-1zM1290 643h1v1h-1zM1350 657h1v1h-1zM227 737h1v1h-1zM776 687h1v1h-1zM1091 662h1v1h-1zM837 666h1v1h-1zM998 620h1v1h-1zM565 732h1v1h-1zM1092 663h1v1h-1zM928 640h1v1h-1zM142 671h1v1h-1zM296 728h1v3h-1zM725 726h1v1h-1zM791 671h1v1h-1zM39 807h1v1h-1zM434 699h1v1h-1zM1076 660h1v1h-1zM390 713h1v1h-1zM959 641h1v1h-1zM1114 664h1v1h-1zM905 670h1v2h-1zM683 706h1v1h-1zM1203 629h1v1h-1zM215 717h1v1h-1zM529 684h1v1h-1zM532 688h1v2h-1zM216 718h1v2h-1zM859 675h1v1h-1zM1403 659h1v1h-1zM798 665h1v1h-1zM740 723h1v1h-1zM464 676h1v1h-1zM901 677h1v1h-1zM495 663h1v1h-1zM557 723h1v1h-1zM736 725h1v1h-1zM580 743h1v1h-1zM896 683h1v1h-1zM436 698h1v1h-1zM1308 627h1v1h-1zM1186 638h1v1h-1zM145 671h1v1h-1zM728 726h1v1h-1zM1342 656h1v1h-1zM259 778h1v1h-1zM893 686h1v1h-1zM283 762h1v3h-1zM1205 628h1v1h-1zM806 659h1v1h-1zM1037 671h1v1h-1zM1406 654h1v2h-1zM1418 628h1v2h-1zM18 808h1v1h-1zM904 672h1v2h-1zM466 675h1v1h-1zM1063 665h1v1h-1zM352 689h1v1h-1zM444 692h1v1h-1zM582 742h1v1h-1zM1194 632h1v1h-1zM1468 606h1v2h-1zM226 735h1v2h-1zM1426 609h1v2h-1zM935 637h1v1h-1zM229 740h1v1h-1zM900 678h1v2h-1zM1269 662h1v1h-1zM58 777h1v2h-1zM1345 657h1v1h-1zM148 671h1v1h-1zM486 666h1v1h-1zM113 686h1v1h-1zM824 661h1v1h-1zM1159 651h1v1h-1zM719 724h1v1h-1zM1026 651h1v2h-1zM965 642h1v1h-1zM712 721h1v1h-1zM1208 628h1v1h-1zM200 695h1v1h-1zM642 662h1v1h-1zM1178 642h1v1h-1zM1147 654h1v1h-1zM531 687h1v1h-1zM1174 644h1v1h-1zM1449 583h1v1h-1zM984 632h1v1h-1zM14 805h1v1h-1zM442 694h1v1h-1zM630 665h1v1h-1zM159 671h1v1h-1zM915 654h1v1h-1zM1135 657h1v1h-1zM1272 662h1v1h-1zM1348 657h1v1h-1zM1089 662h1v1h-1zM115 685h1v1h-1zM827 662h1v1h-1zM722 725h1v1h-1zM1123 660h1v1h-1zM400 710h1v1h-1zM1386 661h1v1h-1zM927 641h1v1h-1zM991 625h1v1h-1zM1035 668h1v1h-1zM449 687h1v1h-1zM1046 677h1v1h-1zM670 691h1v1h-1zM388 713h1v1h-1zM1039 674h1v1h-1zM1070 661h1v1h-1zM9 802h1v1h-1zM988 628h1v1h-1zM632 664h1v1h-1zM169 674h1v1h-1zM864 678h1v1h-1zM1493 620h1v1h-1zM1456 589h1v1h-1zM865 679h1v1h-1zM100 696h1v1h-1zM10 802h1v1h-1zM415 707h1v1h-1zM857 674h1v1h-1zM1351 657h1v1h-1zM797 665h1v1h-1zM734 725h1v1h-1zM566 732h1v1h-1zM1093 663h1v1h-1zM1245 648h1v1h-1zM1306 627h1v1h-1zM726 726h1v1h-1zM92 705h1v1h-1zM1226 634h1v1h-1zM35 808h1v1h-1zM264 780h1v1h-1zM651 668h1v1h-1zM257 777h1v1h-1zM518 669h1v1h-1zM652 669h1v1h-1zM87 711h1v1h-1zM662 682h1v1h-1zM391 713h1v1h-1zM202 697h1v1h-1zM960 641h1v1h-1zM1361 656h1v1h-1zM783 679h1v1h-1zM1278 658h1v1h-1zM1110 665h1v1h-1zM871 684h1v1h-1zM799 664h1v1h-1zM1168 647h1v1h-1zM465 675h1v1h-1zM1057 672h1v1h-1zM562 729h1v1h-1zM1017 635h1v1h-1zM821 660h1v1h-1zM1343 656h1v1h-1zM1020 639h1v2h-1zM1335 652h1v1h-1zM1187 637h1v1h-1zM327 682h1v1h-1zM433 700h1v1h-1zM646 664h1v1h-1zM1157 651h1v1h-1zM242 759h1v2h-1zM1380 659h1v1h-1zM513 665h1v1h-1zM647 665h1v1h-1zM110 689h1v1h-1zM187 680h1v1h-1zM710 721h1v1h-1zM179 676h1v1h-1zM1206 628h1v1h-1zM130 676h1v1h-1zM19 808h1v1h-1zM422 704h1v1h-1zM1458 592h1v1h-1zM383 712h1v1h-1zM866 680h1v1h-1zM1402 660h1v1h-1zM944 636h1v1h-1zM1447 582h1v1h-1zM345 685h1v1h-1zM583 742h1v1h-1zM346 686h1v1h-1zM338 682h1v1h-1zM936 637h1v1h-1zM1270 662h1v1h-1zM1061 667h1v2h-1zM441 694h1v1h-1zM973 640h1v1h-1zM832 664h1v1h-1zM1327 643h1v1h-1zM1129 658h1v1h-1zM1087 661h1v1h-1zM825 661h1v1h-1zM720 724h1v1h-1zM1155 652h1v1h-1zM892 687h1v1h-1zM721 725h1v1h-1zM1384 660h1v1h-1zM1209 628h1v1h-1zM509 662h1v1h-1zM132 675h1v1h-1zM643 662h1v1h-1zM520 671h1v1h-1zM1044 677h1v1h-1zM747 719h1v1h-1zM424 703h1v1h-1zM805 660h1v1h-1zM1143 655h1v1h-1zM22 808h1v1h-1zM208 705h1v2h-1zM591 736h1v1h-1zM1045 677h1v1h-1zM359 695h1v1h-1zM315 688h1v1h-1zM862 677h1v1h-1zM371 705h1v1h-1zM854 673h1v1h-1zM981 634h1v1h-1zM1193 633h1v1h-1zM413 707h1v1h-1zM560 726h1v1h-1zM899 680h1v1h-1zM759 706h1v1h-1zM1015 632h1v1h-1zM1090 662h1v1h-1zM575 741h1v1h-1zM1019 638h1v1h-1zM723 725h1v1h-1zM754 712h1v1h-1zM401 710h1v1h-1zM243 761h1v1h-1zM33 808h1v1h-1zM648 666h1v1h-1zM1047 677h1v1h-1zM1120 661h1v1h-1zM785 677h1v1h-1zM649 667h1v1h-1zM189 682h1v1h-1zM1177 643h1v1h-1zM389 713h1v1h-1zM474 671h1v1h-1zM674 696h1v1h-1zM883 690h1v1h-1zM1071 661h1v1h-1zM919 649h1v1h-1zM675 697h1v1h-1zM355 692h1v1h-1zM629 666h1v1h-1zM541 702h1v1h-1zM124 679h1v1h-1zM1109 665h1v1h-1zM1291 642h1v1h-1zM1490 622h1v1h-1zM777 686h1v1h-1zM545 708h1v1h-1zM120 681h1v1h-1zM735 725h1v1h-1zM570 737h1v1h-1zM1340 655h1v1h-1zM1219 630h1v1h-1zM1238 643h1v1h-1zM36 808h1v1h-1zM325 682h1v1h-1zM996 621h1v1h-1zM1303 629h1v1h-1zM926 642h1v1h-1zM454 683h1v1h-1zM769 695h1v1h-1zM789 673h1v1h-1zM184 679h1v1h-1zM644 663h1v1h-1zM656 674h1v1h-1zM392 713h1v1h-1zM645 664h1v1h-1zM886 690h1v1h-1zM764 701h1v1h-1zM1111 665h1v1h-1zM1451 584h1v1h-1zM987 629h1v1h-1zM1279 657h1v1h-1zM1452 585h1v1h-1zM1492 621h1v1h-1zM350 688h1v1h-1zM1444 581h1v1h-1zM1363 656h1v1h-1zM161 672h1v1h-1zM99 697h1v1h-1zM496 662h1v1h-1zM1112 665h1v1h-1zM949 638h1v1h-1zM1445 582h1v1h-1zM362 698h1v1h-1zM737 724h1v1h-1zM581 742h1v1h-1zM492 664h1v1h-1zM1401 660h1v1h-1zM796 666h1v1h-1zM1165 649h1v1h-1zM1467 605h1v1h-1zM1084 660h1v1h-1zM830 664h1v1h-1zM822 660h1v1h-1zM1344 656h1v1h-1zM994 623h1v1h-1zM894 685h1v1h-1zM1388 662h1v1h-1zM328 682h1v1h-1zM1085 661h1v1h-1zM909 664h1v1h-1zM718 724h1v1h-1zM972 640h1v1h-1zM1153 652h1v1h-1zM1381 659h1v1h-1zM514 665h1v1h-1zM1184 639h1v1h-1zM1407 653h1v1h-1zM506 660h1v1h-1zM107 691h1v1h-1zM1042 676h1v1h-1zM20 808h1v1h-1zM12 804h1v1h-1zM164 672h1v1h-1zM384 712h1v1h-1zM878 689h1v1h-1zM13 805h1v1h-1zM543 705h1v1h-1zM357 694h1v1h-1zM1142 655h1v1h-1zM347 686h1v1h-1zM547 711h1v1h-1zM1399 662h1v1h-1zM42 804h1v1h-1zM153 671h1v1h-1zM1095 664h1v1h-1zM1130 658h1v1h-1zM1331 648h1v1h-1zM974 639h1v1h-1zM1088 661h1v1h-1zM483 667h1v1h-1zM1248 650h1v1h-1zM884 690h1v1h-1zM1332 649h1v1h-1zM1156 652h1v1h-1zM510 662h1v1h-1zM133 675h1v1h-1zM962 642h1v1h-1zM425 703h1v1h-1zM1144 655h1v1h-1zM881 690h1v1h-1zM1069 661h1v1h-1zM873 686h1v1h-1zM421 705h1v1h-1zM631 664h1v1h-1zM802 662h1v1h-1zM8 801h1v1h-1zM1176 643h1v1h-1zM588 738h1v1h-1zM1454 587h1v1h-1zM863 677h1v1h-1zM1273 661h1v1h-1zM882 690h1v1h-1zM855 673h1v1h-1zM874 686h1v1h-1zM847 669h1v1h-1zM1465 602h1v1h-1zM364 700h1v1h-1zM848 670h1v1h-1zM156 671h1v1h-1zM311 694h1v1h-1zM409 708h1v1h-1zM564 731h1v1h-1zM1469 608h1v1h-1zM440 695h1v1h-1zM1479 621h1v1h-1zM1316 631h1v1h-1zM1224 633h1v1h-1zM1243 646h1v1h-1zM1338 654h1v1h-1zM397 711h1v1h-1zM34 808h1v1h-1zM817 659h1v1h-1zM1217 629h1v1h-1zM1048 677h1v1h-1zM1121 661h1v1h-1zM516 667h1v1h-1zM650 667h1v1h-1zM398 711h1v1h-1zM182 678h1v1h-1zM746 720h1v1h-1zM517 668h1v1h-1zM766 698h1v1h-1zM30 809h1v1h-1zM447 689h1v1h-1zM1117 663h1v1h-1zM527 681h1v1h-1z"/>
<path class="c" fill="#c0c0c0" d="M3 29h1506v1h-1506z"/>
<path class="c" fill="#000" d="M1306 190h1v1h-1zM1193 249h1v2h-1zM189 429h1v2h-1zM344 452h1v2h-1zM1174 272h1v1h-1zM408 473h1v1h-1zM1409 137h1v4h-1zM1227 247h1v1h-1zM97 431h1v1h-1zM318 436h1v1h-1zM611 423h1v1h-1zM962 357h1v1h-1zM731 461h1v1h-1zM177 432h1v1h-1zM693 434h1v1h-1zM135 435h1v1h-1zM1289 199h1v1h-1zM1374 194h1v1h-1zM1429 92h1v2h-1zM22 414h1v1h-1zM377 462h1v1h-1zM1316 189h1v1h-1zM973 343h1v2h-1zM694 434h1v1h-1zM1449 80h1v1h-1zM1490 81h1v5h-1zM1286 202h1v1h-1zM230 421h1v1h-1zM1404 157h1v4h-1zM1181 264h1v2h-1zM231 421h1v1h-1zM150 433h1v1h-1zM1304 191h1v1h-1zM1122 300h1v1h-1zM1055 310h1v1h-1zM275 464h1v1h-1zM78 444h1v1h-1zM1239 247h1v1h-1zM908 376h1v2h-1zM1342 195h1v1h-1zM1495 63h1v4h-1zM484 435h1v1h-1zM294 454h1v1h-1zM1376 193h1v1h-1zM715 447h1v1h-1zM1219 246h1v1h-1zM1334 196h1v1h-1zM571 439h1v1h-1zM181 433h1v1h-1zM716 448h1v2h-1zM708 444h1v1h-1zM997 318h1v1h-1zM1319 189h1v1h-1zM572 440h1v1h-1zM920 363h1v1h-1zM796 413h1v1h-1zM753 451h1v1h-1zM1257 250h1v1h-1zM946 357h1v2h-1zM1107 311h1v1h-1zM797 414h1v1h-1zM674 423h1v1h-1zM35 435h1v2h-1zM1474 103h1v2h-1zM369 461h1v1h-1zM1412 127h1v3h-1zM422 473h1v1h-1zM911 372h1v1h-1zM1396 182h1v3h-1zM1099 306h1v1h-1zM1498 51h1v4h-1zM36 437h1v2h-1zM445 456h1v1h-1zM277 463h1v1h-1zM80 443h1v1h-1zM1100 307h1v1h-1zM1011 315h1v1h-1zM115 437h1v1h-1zM659 421h1v1h-1zM346 455h1v2h-1zM927 357h1v1h-1zM495 434h1v1h-1zM864 417h1v1h-1zM1012 315h1v1h-1zM1268 241h1v4h-1zM907 378h1v1h-1zM183 433h1v1h-1zM402 471h1v1h-1zM521 428h1v1h-1zM856 418h1v1h-1zM1168 275h1v1h-1zM999 317h1v1h-1zM1407 145h1v4h-1zM1042 315h1v1h-1zM1493 70h1v4h-1zM684 427h1v1h-1zM589 455h1v1h-1zM703 440h1v1h-1zM918 365h1v1h-1zM24 416h1v2h-1zM64 453h1v1h-1zM88 438h1v1h-1zM704 441h1v1h-1zM308 441h1v1h-1zM677 424h1v1h-1zM952 363h1v1h-1zM1260 250h1v1h-1zM28 422h1v2h-1zM941 353h1v1h-1zM198 425h1v1h-1zM1394 186h1v1h-1zM953 363h1v1h-1zM1411 130h1v3h-1zM107 428h1v1h-1zM1014 315h1v1h-1zM225 420h1v1h-1zM662 421h1v1h-1zM646 413h1v1h-1zM745 455h1v1h-1zM467 447h1v1h-1zM984 328h1v1h-1zM1488 90h1v5h-1zM639 410h1v1h-1zM817 416h1v1h-1zM763 445h1v1h-1zM1383 189h1v1h-1zM213 423h1v1h-1zM72 447h1v1h-1zM96 432h1v1h-1zM717 450h1v2h-1zM455 450h1v1h-1zM9 400h1v1h-1zM175 432h1v1h-1zM886 407h1v2h-1zM1113 306h1v1h-1zM573 441h1v1h-1zM1415 118h1v3h-1zM1406 149h1v4h-1zM1461 86h1v1h-1zM605 430h1v2h-1zM1263 250h1v1h-1zM456 450h1v1h-1zM167 433h1v1h-1zM574 442h1v1h-1zM1462 87h1v1h-1zM577 446h1v2h-1zM948 360h1v1h-1zM34 433h1v2h-1zM1472 99h1v2h-1zM37 439h1v2h-1zM1475 105h1v2h-1zM991 321h1v1h-1zM235 423h1v1h-1zM113 434h1v2h-1zM1476 106h1v1h-1zM228 420h1v1h-1zM535 428h1v1h-1zM828 415h1v1h-1zM471 443h1v1h-1zM982 330h1v1h-1zM1236 246h1v1h-1zM967 350h1v1h-1zM44 455h1v2h-1zM870 417h1v1h-1zM1151 287h1v1h-1zM787 419h1v1h-1zM348 457h1v1h-1zM536 428h1v1h-1zM1228 247h1v1h-1zM98 431h1v1h-1zM94 433h1v1h-1zM809 415h1v1h-1zM1483 100h1v1h-1zM178 432h1v1h-1zM136 435h1v1h-1zM885 409h1v2h-1zM959 359h1v1h-1zM1431 89h1v1h-1zM1074 309h1v1h-1zM1186 258h1v1h-1zM1217 245h1v1h-1zM1398 177h1v3h-1zM26 419h1v2h-1zM1468 91h1v2h-1zM1414 121h1v3h-1zM847 419h1v1h-1zM1104 309h1v1h-1zM1427 96h1v1h-1zM1246 249h1v1h-1zM1105 310h1v1h-1zM599 438h1v1h-1zM1097 306h1v1h-1zM1270 234h1v4h-1zM1437 82h1v1h-1zM1282 207h1v2h-1zM1305 191h1v1h-1zM55 459h1v1h-1zM256 448h1v2h-1zM1123 300h1v1h-1zM615 418h1v1h-1zM146 434h1v1h-1zM79 444h1v1h-1zM333 440h1v1h-1zM648 414h1v2h-1zM1154 287h1v1h-1zM1240 247h1v1h-1zM492 433h1v1h-1zM438 462h1v1h-1zM257 450h1v1h-1zM1438 82h1v1h-1zM966 351h1v2h-1zM649 416h1v1h-1zM595 444h1v2h-1zM493 434h1v1h-1zM317 437h1v1h-1zM147 434h1v1h-1zM1343 195h1v1h-1zM812 415h1v1h-1zM1377 193h1v1h-1zM1220 246h1v1h-1zM480 436h1v1h-1zM11 402h1v1h-1zM709 444h1v1h-1zM1320 189h1v1h-1zM901 385h1v2h-1zM576 444h1v2h-1zM481 436h1v1h-1zM850 419h1v1h-1zM682 426h1v1h-1zM1027 317h1v1h-1zM675 423h1v1h-1zM950 362h1v1h-1zM370 461h1v1h-1zM248 434h1v2h-1zM750 453h1v1h-1zM508 431h1v1h-1zM951 363h1v1h-1zM446 456h1v1h-1zM249 436h1v1h-1zM81 443h1v1h-1zM912 371h1v1h-1zM1201 245h1v1h-1zM302 447h1v1h-1zM1281 209h1v2h-1zM1354 194h1v1h-1zM419 474h1v1h-1zM644 412h1v1h-1zM865 417h1v1h-1zM645 413h1v1h-1zM403 471h1v1h-1zM1296 194h1v1h-1zM594 446h1v2h-1zM522 428h1v1h-1zM815 415h1v1h-1zM1277 217h1v2h-1zM461 448h1v1h-1zM1043 315h1v1h-1zM1466 89h1v1h-1zM1141 292h1v1h-1zM696 436h1v1h-1zM1165 277h1v1h-1zM727 460h1v1h-1zM625 412h1v1h-1zM590 454h1v1h-1zM309 441h1v1h-1zM697 437h1v1h-1zM1470 95h1v2h-1zM1261 250h1v1h-1zM1030 317h1v1h-1zM61 455h1v1h-1zM1459 85h1v1h-1zM1203 245h1v1h-1zM1451 81h1v1h-1zM199 425h1v1h-1zM1395 185h1v2h-1zM373 461h1v1h-1zM545 424h1v1h-1zM1452 82h1v1h-1zM880 414h1v1h-1zM160 433h1v1h-1zM506 432h1v1h-1zM1204 245h1v1h-1zM1015 315h1v1h-1zM876 416h1v1h-1zM226 420h1v1h-1zM647 413h1v1h-1zM826 415h1v1h-1zM1241 248h1v1h-1zM259 453h1v1h-1zM741 456h1v1h-1zM651 419h1v1h-1zM1149 287h1v1h-1zM926 358h1v1h-1zM818 416h1v1h-1zM534 428h1v1h-1zM1384 189h1v1h-1zM1045 314h1v1h-1zM780 425h1v1h-1zM1080 308h1v1h-1zM1167 276h1v1h-1zM69 449h1v1h-1zM176 432h1v1h-1zM1276 219h1v2h-1zM1214 244h1v1h-1zM1114 306h1v1h-1zM628 412h1v1h-1zM807 414h1v1h-1zM977 336h1v2h-1zM692 433h1v1h-1zM87 439h1v1h-1zM429 468h1v1h-1zM1033 317h1v1h-1zM452 451h1v1h-1zM202 425h1v1h-1zM1183 261h1v1h-1zM285 459h1v1h-1zM1061 308h1v1h-1zM878 415h1v1h-1zM1133 296h1v1h-1zM251 439h1v1h-1zM364 459h1v1h-1zM281 461h1v1h-1zM934 352h1v1h-1zM617 416h1v1h-1zM829 415h1v1h-1zM224 421h1v1h-1zM357 456h1v1h-1zM1129 298h1v1h-1zM190 427h1v2h-1zM53 459h1v1h-1zM1497 55h1v4h-1zM768 441h1v1h-1zM983 329h1v1h-1zM1152 287h1v1h-1zM612 422h1v1h-1zM144 433h1v1h-1zM49 461h1v1h-1zM1176 271h1v1h-1zM145 434h1v1h-1zM1341 195h1v1h-1zM491 433h1v1h-1zM95 433h1v1h-1zM810 415h1v1h-1zM1267 245h1v2h-1zM398 470h1v1h-1zM714 447h1v1h-1zM733 460h1v1h-1zM316 437h1v1h-1zM132 436h1v1h-1zM1325 191h1v1h-1zM718 452h1v2h-1zM1187 257h1v1h-1zM513 429h1v1h-1zM774 432h1v2h-1zM707 443h1v1h-1zM848 419h1v1h-1zM1063 307h1v1h-1zM672 422h1v1h-1zM1492 74h1v3h-1zM752 451h1v1h-1zM367 460h1v1h-1zM359 456h1v1h-1zM619 415h1v1h-1zM1363 195h1v1h-1zM673 422h1v1h-1zM194 424h1v1h-1zM276 463h1v1h-1zM832 415h1v1h-1zM38 441h1v2h-1zM987 325h1v1h-1zM1052 311h1v1h-1zM272 465h1v1h-1zM439 462h1v1h-1zM786 420h1v1h-1zM261 455h1v2h-1zM642 412h1v1h-1zM653 421h1v1h-1zM1487 95h1v3h-1zM148 434h1v1h-1zM1344 195h1v1h-1zM1120 301h1v1h-1zM401 471h1v1h-1zM813 415h1v1h-1zM998 317h1v1h-1zM314 438h1v1h-1zM1430 90h1v2h-1zM702 440h1v1h-1zM994 319h1v1h-1zM516 429h1v1h-1zM1464 88h1v1h-1zM851 419h1v1h-1zM1066 307h1v1h-1zM683 426h1v1h-1zM1140 293h1v1h-1zM1456 84h1v1h-1zM196 424h1v1h-1zM793 414h1v1h-1zM603 433h1v1h-1zM1465 89h1v1h-1zM1426 97h1v2h-1zM158 433h1v1h-1zM1096 307h1v1h-1zM1029 317h1v1h-1zM504 432h1v1h-1zM1202 245h1v1h-1zM1159 283h1v1h-1zM1238 247h1v1h-1zM443 458h1v1h-1zM1355 194h1v1h-1zM656 422h1v1h-1zM420 474h1v1h-1zM1422 104h1v2h-1zM1008 315h1v1h-1zM299 449h1v1h-1zM816 415h1v1h-1zM462 448h1v1h-1zM905 380h1v2h-1zM1293 196h1v1h-1zM7 398h1v1h-1zM853 418h1v1h-1zM1142 292h1v1h-1zM519 429h1v1h-1zM719 454h1v1h-1zM626 412h1v1h-1zM591 453h1v2h-1zM720 455h1v2h-1zM1031 317h1v1h-1zM62 455h1v1h-1zM200 425h1v1h-1zM546 424h1v1h-1zM1453 82h1v1h-1zM1499 49h1v2h-1zM161 433h1v1h-1zM1357 194h1v1h-1zM507 432h1v1h-1zM667 421h1v1h-1zM1413 124h1v3h-1zM896 393h1v2h-1zM245 432h1v1h-1zM1425 99h1v2h-1zM542 426h1v1h-1zM1200 246h1v1h-1zM877 416h1v1h-1zM112 433h1v1h-1zM104 429h1v1h-1zM1392 187h1v1h-1zM827 415h1v1h-1zM1358 194h1v1h-1zM1242 248h1v1h-1zM742 456h1v1h-1zM116 438h1v2h-1zM263 458h1v1h-1zM336 442h1v1h-1zM1269 238h1v3h-1zM347 457h1v1h-1zM1421 106h1v1h-1zM43 453h1v2h-1zM223 421h1v1h-1zM142 433h1v1h-1zM738 458h1v1h-1zM267 464h1v1h-1zM637 411h1v1h-1zM395 469h1v1h-1zM1081 308h1v1h-1zM1222 247h1v1h-1zM761 446h1v1h-1zM1494 67h1v3h-1zM711 445h1v1h-1zM1215 244h1v1h-1zM1417 113h1v3h-1zM808 414h1v1h-1zM757 448h1v1h-1zM172 432h1v1h-1zM453 451h1v1h-1zM1111 308h1v1h-1zM899 388h1v1h-1zM1273 226h1v3h-1zM164 433h1v1h-1zM544 425h1v1h-1zM449 453h1v1h-1zM773 434h1v1h-1zM678 425h1v1h-1zM879 415h1v1h-1zM670 421h1v1h-1zM1023 316h1v1h-1zM472 442h1v1h-1zM126 442h1v1h-1zM830 415h1v1h-1zM366 460h1v1h-1zM895 395h1v1h-1zM358 456h1v1h-1zM1349 193h1v1h-1zM931 354h1v1h-1zM1489 86h1v4h-1zM532 428h1v1h-1zM1148 288h1v1h-1zM1233 246h1v1h-1zM1083 307h1v1h-1zM188 431h1v2h-1zM406 473h1v1h-1zM640 411h1v1h-1zM779 426h1v1h-1zM960 358h1v1h-1zM1079 309h1v1h-1zM487 434h1v1h-1zM399 470h1v1h-1zM68 450h1v1h-1zM1416 116h1v2h-1zM133 436h1v1h-1zM729 461h1v1h-1zM976 338h1v2h-1zM699 438h1v1h-1zM556 426h1v1h-1zM428 469h1v1h-1zM722 458h1v2h-1zM514 429h1v1h-1zM1064 307h1v1h-1zM681 426h1v1h-1zM700 439h1v1h-1zM368 460h1v1h-1zM1314 189h1v1h-1zM1454 83h1v1h-1zM578 448h1v2h-1zM972 345h1v2h-1zM1252 250h1v1h-1zM772 435h1v2h-1zM195 424h1v1h-1zM933 353h1v1h-1zM1094 307h1v1h-1zM616 417h1v1h-1zM1352 193h1v1h-1zM1302 192h1v1h-1zM52 460h1v1h-1zM1353 194h1v1h-1zM767 442h1v1h-1zM1095 307h1v1h-1zM1006 315h1v1h-1zM45 457h1v2h-1zM273 464h1v1h-1zM643 412h1v1h-1zM654 421h1v1h-1zM1237 247h1v1h-1zM1175 272h1v1h-1zM1121 301h1v1h-1zM783 422h1v1h-1zM1340 196h1v1h-1zM436 463h1v1h-1zM4 397h1v1h-1zM1117 303h1v1h-1zM292 455h1v1h-1zM1191 252h1v1h-1zM732 461h1v1h-1zM315 438h1v1h-1zM482 435h1v1h-1zM802 413h1v1h-1zM16 407h1v1h-1zM288 457h1v1h-1zM517 429h1v1h-1zM5 397h1v1h-1zM1067 307h1v1h-1zM1457 84h1v1h-1zM1375 194h1v1h-1zM695 435h1v1h-1zM975 340h1v1h-1zM794 414h1v1h-1zM1317 189h1v1h-1zM27 421h1v1h-1zM751 452h1v1h-1zM30 426h1v2h-1zM1469 93h1v2h-1zM913 370h1v1h-1zM159 433h1v1h-1zM505 432h1v1h-1zM971 347h1v1h-1zM1198 246h1v1h-1zM1390 187h1v1h-1zM1356 194h1v1h-1zM910 373h1v2h-1zM1051 312h1v1h-1zM1009 315h1v1h-1zM444 457h1v1h-1zM657 421h1v1h-1zM650 417h1v2h-1zM463 448h1v1h-1zM393 469h1v1h-1zM1294 196h1v1h-1zM1040 316h1v1h-1zM622 413h1v1h-1zM690 431h1v1h-1zM1139 294h1v1h-1zM1221 247h1v1h-1zM170 432h1v1h-1zM724 460h1v1h-1zM1397 180h1v2h-1zM843 417h1v1h-1zM917 366h1v1h-1zM580 451h1v2h-1zM1258 250h1v1h-1zM162 433h1v1h-1zM362 458h1v1h-1zM623 413h1v1h-1zM59 457h1v1h-1zM668 421h1v1h-1zM363 459h1v1h-1zM355 455h1v1h-1zM543 426h1v1h-1zM105 429h1v1h-1zM1158 284h1v1h-1zM873 417h1v1h-1zM442 459h1v1h-1zM1128 298h1v1h-1zM253 442h1v2h-1zM329 438h1v1h-1zM120 444h1v1h-1zM530 428h1v1h-1zM340 446h1v2h-1zM298 450h1v1h-1zM101 430h1v1h-1zM465 447h1v1h-1zM739 458h1v1h-1zM1381 190h1v1h-1zM1401 167h1v4h-1zM396 469h1v1h-1zM1223 247h1v1h-1zM1147 288h1v1h-1zM1077 309h1v1h-1zM485 434h1v1h-1zM139 434h1v1h-1zM212 424h1v1h-1zM758 448h1v1h-1zM67 451h1v1h-1zM18 409h1v1h-1zM173 432h1v1h-1zM29 424h1v2h-1zM1467 90h1v1h-1zM1112 307h1v1h-1zM305 444h1v1h-1zM450 453h1v1h-1zM282 460h1v1h-1zM671 421h1v1h-1zM1444 79h1v1h-1zM85 440h1v1h-1zM1130 297h1v1h-1zM50 460h1v1h-1zM123 444h1v1h-1zM533 428h1v1h-1zM785 420h1v1h-1zM1234 246h1v1h-1zM891 401h1v1h-1zM981 331h1v1h-1zM51 460h1v1h-1zM1301 192h1v1h-1zM214 423h1v1h-1zM488 434h1v1h-1zM92 434h1v1h-1zM730 461h1v1h-1zM210 425h1v1h-1zM388 468h1v1h-1zM93 434h1v1h-1zM777 428h1v2h-1zM130 438h1v1h-1zM1110 309h1v1h-1zM1368 195h1v1h-1zM884 411h1v2h-1zM1315 189h1v1h-1zM1455 83h1v1h-1zM1447 79h1v1h-1zM582 454h1v2h-1zM1253 250h1v1h-1zM1448 80h1v1h-1zM988 324h1v1h-1zM338 444h1v1h-1zM255 446h1v2h-1zM1303 192h1v1h-1zM930 355h1v1h-1zM252 440h1v2h-1zM598 439h1v2h-1zM468 446h1v1h-1zM1007 315h1v1h-1zM1436 83h1v1h-1zM269 465h1v1h-1zM490 433h1v1h-1zM764 444h1v1h-1zM965 353h1v2h-1zM437 463h1v1h-1zM609 425h1v2h-1zM1118 303h1v1h-1zM433 465h1v1h-1zM1408 141h1v4h-1zM1218 246h1v1h-1zM383 464h1v1h-1zM604 432h1v1h-1zM1072 308h1v1h-1zM956 362h1v1h-1zM479 437h1v1h-1zM384 465h1v1h-1zM996 318h1v1h-1zM840 416h1v1h-1zM1371 195h1v1h-1zM1318 189h1v1h-1zM1287 201h1v1h-1zM1481 102h1v2h-1zM601 435h1v2h-1zM1025 317h1v1h-1zM748 454h1v1h-1zM841 416h1v1h-1zM360 457h1v1h-1zM1199 246h1v1h-1zM110 431h1v1h-1zM416 474h1v1h-1zM1391 187h1v1h-1zM361 458h1v1h-1zM334 441h1v1h-1zM1403 161h1v3h-1zM326 437h1v1h-1zM968 349h1v1h-1zM75 446h1v1h-1zM1010 315h1v1h-1zM1496 59h1v4h-1zM99 430h1v1h-1zM327 437h1v1h-1zM906 379h1v1h-1zM1280 211h1v2h-1zM435 464h1v1h-1zM529 428h1v1h-1zM964 355h1v2h-1zM459 449h1v1h-1zM291 456h1v1h-1zM593 448h1v3h-1zM12 403h1v1h-1zM137 434h1v1h-1zM558 427h1v1h-1zM1291 198h1v1h-1zM13 404h1v1h-1zM205 425h1v1h-1zM588 455h1v1h-1zM171 432h1v1h-1zM725 460h1v1h-1zM944 354h1v2h-1zM676 424h1v1h-1zM1028 317h1v1h-1zM624 413h1v1h-1zM197 425h1v1h-1zM1393 186h1v1h-1zM60 456h1v1h-1zM539 427h1v1h-1zM121 444h1v1h-1zM531 428h1v1h-1zM352 456h1v1h-1zM102 430h1v1h-1zM638 410h1v1h-1zM1382 190h1v1h-1zM740 457h1v1h-1zM925 359h1v1h-1zM634 412h1v1h-1zM1078 309h1v1h-1zM1378 192h1v1h-1zM140 434h1v1h-1zM1039 317h1v1h-1zM208 425h1v1h-1zM900 387h1v1h-1zM174 432h1v1h-1zM385 466h1v1h-1zM1166 277h1v1h-1zM728 460h1v1h-1zM1212 244h1v1h-1zM1460 86h1v1h-1zM378 463h1v1h-1zM916 367h1v1h-1zM1366 195h1v1h-1zM283 460h1v1h-1zM940 352h1v1h-1zM1445 79h1v1h-1zM86 440h1v1h-1zM306 443h1v1h-1zM1131 297h1v1h-1zM279 462h1v1h-1zM82 442h1v1h-1zM1446 79h1v1h-1zM40 445h1v3h-1zM1309 190h1v1h-1zM1127 299h1v1h-1zM222 421h1v1h-1zM652 420h1v1h-1zM1235 246h1v1h-1zM1150 287h1v1h-1zM923 361h1v1h-1zM1380 191h1v1h-1zM264 459h1v2h-1zM47 461h1v2h-1zM1146 289h1v1h-1zM889 403h1v2h-1zM1001 316h1v1h-1zM211 425h1v1h-1zM3 396h1v1h-1zM14 405h1v1h-1zM389 468h1v1h-1zM66 452h1v1h-1zM1216 245h1v1h-1zM845 418h1v1h-1zM1369 195h1v1h-1zM426 471h1v1h-1zM131 437h1v1h-1zM846 419h1v1h-1zM838 415h1v1h-1zM1491 77h1v4h-1zM365 460h1v1h-1zM1405 153h1v4h-1zM1471 97h1v2h-1zM192 425h1v1h-1zM1312 190h1v1h-1zM153 433h1v1h-1zM414 474h1v1h-1zM1091 307h1v1h-1zM499 432h1v1h-1zM614 419h1v1h-1zM331 439h1v1h-1zM784 421h1v1h-1zM332 440h1v1h-1zM270 465h1v1h-1zM469 445h1v1h-1zM980 332h1v1h-1zM415 474h1v1h-1zM1300 193h1v1h-1zM1172 273h1v1h-1zM325 437h1v1h-1zM1192 251h1v1h-1zM765 443h1v1h-1zM1046 313h1v1h-1zM563 430h1v1h-1zM811 415h1v1h-1zM312 439h1v1h-1zM1400 171h1v3h-1zM21 412h1v2h-1zM564 431h1v1h-1zM629 411h1v1h-1zM776 430h1v1h-1zM290 456h1v1h-1zM1372 195h1v1h-1zM1323 190h1v1h-1zM1207 244h1v1h-1zM723 460h1v1h-1zM957 361h1v1h-1zM849 419h1v1h-1zM1184 260h1v1h-1zM476 439h1v1h-1zM1026 317h1v1h-1zM1103 308h1v1h-1zM1272 229h1v2h-1zM792 415h1v1h-1zM749 453h1v1h-1zM156 433h1v1h-1zM1285 203h1v2h-1zM417 474h1v1h-1zM114 436h1v1h-1zM597 441h1v1h-1zM502 432h1v1h-1zM1180 266h1v2h-1zM1387 188h1v1h-1zM118 442h1v2h-1zM265 461h1v1h-1zM1435 84h1v1h-1zM613 420h1v2h-1zM217 421h1v1h-1zM76 445h1v1h-1zM350 456h1v1h-1zM100 430h1v1h-1zM46 459h1v2h-1zM266 462h1v2h-1zM859 418h1v1h-1zM608 427h1v1h-1zM218 421h1v1h-1zM460 449h1v1h-1zM138 434h1v1h-1zM1399 174h1v3h-1zM559 427h1v1h-1zM390 469h1v1h-1zM632 411h1v1h-1zM551 423h1v1h-1zM560 428h1v1h-1zM478 438h1v1h-1zM1136 295h1v1h-1zM995 319h1v1h-1zM584 456h1v1h-1zM726 460h1v1h-1zM1210 244h1v1h-1zM1292 197h1v1h-1zM1480 104h1v1h-1zM1255 251h1v1h-1zM1450 81h1v1h-1zM31 428h1v1h-1zM620 414h1v1h-1zM1473 101h1v2h-1zM1271 231h1v3h-1zM236 424h1v1h-1zM833 414h1v1h-1zM665 421h1v1h-1zM1307 190h1v1h-1zM1156 286h1v1h-1zM596 442h1v2h-1zM825 415h1v1h-1zM220 421h1v1h-1zM103 430h1v1h-1zM862 418h1v1h-1zM296 452h1v1h-1zM635 412h1v1h-1zM963 357h1v1h-1zM1229 247h1v1h-1zM8 399h1v1h-1zM759 447h1v1h-1zM805 414h1v1h-1zM565 432h1v1h-1zM209 425h1v1h-1zM1290 199h1v1h-1zM386 466h1v1h-1zM1213 244h1v1h-1zM587 456h1v1h-1zM566 433h1v1h-1zM451 452h1v1h-1zM387 467h1v1h-1zM379 463h1v1h-1zM1163 279h1v1h-1zM898 389h1v2h-1zM1020 315h1v1h-1zM1060 308h1v1h-1zM836 414h1v1h-1zM83 442h1v1h-1zM124 443h1v1h-1zM1021 316h1v1h-1zM1310 190h1v1h-1zM117 440h1v2h-1zM1089 307h1v1h-1zM337 443h1v1h-1zM894 396h1v2h-1zM254 444h1v2h-1zM1410 133h1v4h-1zM1231 247h1v1h-1zM489 433h1v1h-1zM1348 194h1v1h-1zM1278 215h1v2h-1zM143 433h1v1h-1zM48 461h1v1h-1zM1298 193h1v1h-1zM268 464h1v1h-1zM904 382h1v1h-1zM924 360h1v1h-1zM1335 196h1v1h-1zM1143 291h1v1h-1zM778 427h1v1h-1zM1328 193h1v1h-1zM561 429h1v1h-1zM1370 195h1v1h-1zM63 454h1v1h-1zM1062 307h1v1h-1zM33 431h1v2h-1zM839 415h1v1h-1zM427 470h1v1h-1zM1108 310h1v1h-1zM1058 309h1v1h-1zM1024 316h1v1h-1zM154 433h1v1h-1zM986 326h1v1h-1zM1092 307h1v1h-1zM500 432h1v1h-1zM660 421h1v1h-1zM1350 193h1v1h-1zM271 465h1v1h-1zM1173 273h1v1h-1zM1004 315h1v1h-1zM184 433h1v1h-1zM1119 302h1v1h-1zM928 356h1v1h-1zM766 443h1v1h-1zM1047 313h1v1h-1zM434 464h1v1h-1zM888 405h1v1h-1zM1169 275h1v1h-1zM1338 196h1v1h-1zM313 439h1v1h-1zM10 401h1v1h-1zM1265 248h1v1h-1zM630 411h1v1h-1zM557 426h1v1h-1zM515 429h1v1h-1zM602 434h1v1h-1zM89 437h1v1h-1zM942 353h1v1h-1zM579 450h1v1h-1zM477 438h1v1h-1zM583 456h1v1h-1zM191 426h1v1h-1zM157 433h1v1h-1zM969 348h1v1h-1zM418 474h1v1h-1zM503 432h1v1h-1zM663 421h1v1h-1zM769 439h1v2h-1zM789 417h1v1h-1zM746 455h1v1h-1zM339 445h1v1h-1zM1016 315h1v1h-1zM77 445h1v1h-1zM351 456h1v1h-1zM655 422h1v1h-1zM1049 312h1v1h-1zM187 433h1v1h-1zM525 428h1v1h-1zM860 418h1v1h-1zM73 447h1v1h-1zM219 421h1v1h-1zM1433 86h1v2h-1zM17 408h1v1h-1zM391 469h1v1h-1zM861 418h1v1h-1zM134 435h1v1h-1zM1486 98h1v1h-1zM6 398h1v1h-1zM803 413h1v1h-1zM1211 244h1v1h-1zM289 457h1v1h-1zM376 462h1v1h-1zM585 456h1v1h-1zM1137 294h1v1h-1zM475 440h1v1h-1zM1256 251h1v1h-1zM621 414h1v1h-1zM586 456h1v1h-1zM791 416h1v1h-1zM1018 315h1v1h-1zM834 414h1v1h-1zM666 421h1v1h-1zM1284 205h1v1h-1zM353 455h1v1h-1zM541 426h1v1h-1zM1179 268h1v1h-1zM42 450h1v3h-1zM1440 80h1v1h-1zM871 417h1v1h-1zM39 443h1v2h-1zM221 421h1v1h-1zM821 416h1v1h-1zM1420 107h1v2h-1zM1087 306h1v1h-1zM441 460h1v1h-1zM528 428h1v1h-1zM863 418h1v1h-1zM141 433h1v1h-1zM1230 247h1v1h-1zM806 414h1v1h-1zM179 432h1v1h-1zM636 411h1v1h-1zM394 469h1v1h-1zM1075 309h1v1h-1zM1484 99h1v1h-1zM1041 316h1v1h-1zM756 449h1v1h-1zM1333 195h1v1h-1zM570 438h1v1h-1zM844 418h1v1h-1zM380 463h1v1h-1zM581 453h1v1h-1zM1326 192h1v1h-1zM280 461h1v1h-1zM914 369h1v1h-1zM945 356h1v1h-1zM1106 310h1v1h-1zM937 352h1v1h-1zM1098 306h1v1h-1zM669 421h1v1h-1zM1442 79h1v1h-1zM304 445h1v1h-1zM1022 316h1v1h-1zM356 455h1v1h-1zM1311 190h1v1h-1zM909 375h1v1h-1zM1124 300h1v1h-1zM874 417h1v1h-1zM1090 307h1v1h-1zM1155 287h1v1h-1zM330 439h1v1h-1zM341 448h1v1h-1zM824 416h1v1h-1zM1402 164h1v3h-1zM1232 247h1v1h-1zM342 449h1v2h-1zM345 454h1v1h-1zM1299 193h1v1h-1zM1002 315h1v1h-1zM295 453h1v1h-1zM1419 109h1v2h-1zM1279 213h1v2h-1zM1295 195h1v1h-1zM1336 196h1v1h-1zM486 434h1v1h-1zM1003 315h1v1h-1zM592 451h1v2h-1zM921 362h1v1h-1zM19 410h1v1h-1zM562 429h1v1h-1zM554 425h1v1h-1zM91 435h1v1h-1zM1337 196h1v1h-1zM20 411h1v1h-1zM1275 221h1v3h-1zM1162 280h1v1h-1zM897 391h1v2h-1zM371 461h1v1h-1zM1313 189h1v1h-1zM129 439h1v1h-1zM1250 249h1v1h-1zM509 431h1v1h-1zM1059 309h1v1h-1zM424 472h1v1h-1zM155 433h1v1h-1zM932 353h1v1h-1zM1093 307h1v1h-1zM501 432h1v1h-1zM893 398h1v1h-1zM1351 193h1v1h-1zM470 444h1v1h-1zM1005 315h1v1h-1zM866 416h1v1h-1zM1297 194h1v1h-1zM1048 313h1v1h-1zM405 472h1v1h-1zM1339 196h1v1h-1zM1418 111h1v2h-1zM1190 253h1v1h-1zM186 433h1v1h-1zM568 435h1v1h-1zM1170 274h1v1h-1zM524 428h1v1h-1zM631 411h1v1h-1zM958 360h1v1h-1zM1266 247h1v1h-1zM801 413h1v1h-1zM1185 259h1v1h-1zM698 437h1v1h-1zM381 464h1v1h-1zM1274 224h1v2h-1zM1070 308h1v1h-1zM943 353h1v1h-1zM310 440h1v1h-1zM511 430h1v1h-1zM374 461h1v1h-1zM881 414h1v1h-1zM955 363h1v1h-1zM947 359h1v1h-1zM1182 262h1v2h-1zM234 423h1v1h-1zM664 421h1v1h-1zM985 327h1v1h-1zM747 455h1v1h-1zM343 451h1v1h-1zM1197 246h1v1h-1zM770 438h1v1h-1zM1389 187h1v1h-1zM869 417h1v1h-1zM1017 315h1v1h-1zM1178 269h1v1h-1zM324 437h1v1h-1zM1050 312h1v1h-1zM819 416h1v1h-1zM892 399h1v2h-1zM1085 306h1v1h-1zM526 428h1v1h-1zM820 416h1v1h-1zM215 422h1v1h-1zM70 449h1v1h-1zM527 428h1v1h-1zM606 429h1v1h-1zM392 469h1v1h-1zM1264 249h1v1h-1zM457 449h1v1h-1zM1189 254h1v2h-1zM1073 309h1v1h-1zM804 413h1v1h-1zM712 446h1v1h-1zM1034 317h1v1h-1zM992 320h1v1h-1zM883 413h1v1h-1zM203 425h1v1h-1zM1138 294h1v1h-1zM169 432h1v1h-1zM1477 105h1v1h-1zM842 417h1v1h-1zM1361 195h1v1h-1zM1019 315h1v1h-1zM58 457h1v1h-1zM989 323h1v1h-1zM1245 249h1v1h-1zM935 352h1v1h-1zM835 414h1v1h-1zM618 416h1v1h-1zM1157 285h1v1h-1zM241 429h1v1h-1zM354 455h1v1h-1zM788 418h1v1h-1zM1441 80h1v1h-1zM54 459h1v1h-1zM537 427h1v1h-1zM872 417h1v1h-1zM335 441h1v1h-1zM1153 287h1v1h-1zM822 416h1v1h-1zM297 451h1v1h-1zM1088 306h1v1h-1zM328 438h1v1h-1zM119 444h1v1h-1zM1432 88h1v1h-1zM180 432h1v1h-1zM734 460h1v1h-1zM1076 309h1v1h-1zM1037 317h1v1h-1zM1164 278h1v1h-1zM206 425h1v1h-1zM689 430h1v1h-1zM1327 192h1v1h-1zM1428 94h1v2h-1zM552 424h1v1h-1zM1288 200h1v1h-1zM84 441h1v1h-1zM1364 195h1v1h-1zM1161 281h1v1h-1zM1248 249h1v1h-1zM938 352h1v1h-1zM32 429h1v2h-1zM1443 79h1v1h-1zM949 361h1v1h-1zM56 458h1v1h-1zM1057 309h1v1h-1zM1283 206h1v1h-1zM1424 101h1v2h-1zM540 427h1v1h-1zM875 417h1v1h-1zM1439 81h1v1h-1zM1053 311h1v1h-1zM301 447h1v1h-1zM1125 299h1v1h-1zM122 444h1v1h-1zM409 474h1v1h-1zM440 461h1v1h-1zM736 459h1v1h-1zM319 436h1v1h-1zM814 415h1v1h-1zM1144 290h1v1h-1zM410 474h1v1h-1zM902 384h1v1h-1zM922 362h1v1h-1zM1379 192h1v1h-1zM555 425h1v1h-1zM755 450h1v1h-1zM23 415h1v1h-1zM721 457h1v1h-1zM852 419h1v1h-1zM685 427h1v1h-1zM1109 309h1v1h-1zM1458 85h1v1h-1zM447 455h1v1h-1zM372 461h1v1h-1zM1367 195h1v1h-1zM1251 249h1v1h-1zM303 446h1v1h-1zM232 422h1v1h-1zM497 433h1v1h-1zM151 433h1v1h-1zM1347 194h1v1h-1zM412 474h1v1h-1zM929 355h1v1h-1zM322 437h1v1h-1zM258 451h1v2h-1zM867 416h1v1h-1zM1044 314h1v1h-1zM323 437h1v1h-1zM979 333h1v1h-1zM854 418h1v1h-1zM1171 274h1v1h-1zM15 406h1v1h-1zM520 429h1v1h-1zM627 412h1v1h-1zM90 436h1v1h-1zM432 465h1v1h-1zM382 464h1v1h-1zM1032 317h1v1h-1zM1071 308h1v1h-1zM311 440h1v1h-1zM512 430h1v1h-1zM691 432h1v1h-1zM201 425h1v1h-1zM375 461h1v1h-1zM1321 190h1v1h-1zM775 431h1v1h-1zM1205 244h1v1h-1zM284 459h1v1h-1zM128 440h1v1h-1zM307 442h1v1h-1zM246 432h1v1h-1zM1132 296h1v1h-1zM882 413h1v1h-1zM423 473h1v1h-1zM247 433h1v1h-1zM193 425h1v1h-1zM250 437h1v2h-1zM1359 194h1v1h-1zM1243 248h1v1h-1zM1385 188h1v1h-1zM41 448h1v2h-1zM74 446h1v1h-1zM1194 248h1v1h-1zM1086 306h1v1h-1zM781 424h1v1h-1zM1434 85h1v1h-1zM216 422h1v1h-1zM1115 305h1v1h-1zM857 418h1v1h-1zM397 470h1v1h-1zM430 467h1v1h-1zM458 449h1v1h-1zM1331 194h1v1h-1zM25 418h1v1h-1zM978 334h1v2h-1zM607 428h1v1h-1zM713 446h1v1h-1zM800 414h1v1h-1zM705 442h1v1h-1zM1332 195h1v1h-1zM1035 317h1v1h-1zM1324 191h1v1h-1zM549 423h1v1h-1zM993 320h1v1h-1zM286 458h1v1h-1zM204 425h1v1h-1zM686 428h1v1h-1zM1134 295h1v1h-1zM569 436h1v2h-1zM1208 244h1v1h-1zM1478 105h1v1h-1zM165 433h1v1h-1zM679 425h1v1h-1zM974 341h1v2h-1zM1362 195h1v1h-1zM936 352h1v1h-1zM108 429h1v1h-1zM1479 105h1v1h-1zM242 429h1v1h-1zM831 415h1v1h-1zM473 441h1v1h-1zM109 430h1v1h-1zM538 427h1v1h-1zM1196 247h1v1h-1zM1247 249h1v1h-1zM1388 188h1v1h-1zM823 416h1v1h-1zM1177 270h1v1h-1zM1084 307h1v1h-1zM610 424h1v1h-1zM260 454h1v1h-1zM407 473h1v1h-1zM641 411h1v1h-1zM1226 247h1v1h-1zM961 358h1v1h-1zM1485 98h1v1h-1zM400 470h1v1h-1zM735 460h1v1h-1zM633 412h1v1h-1zM1188 256h1v1h-1zM1038 317h1v1h-1zM575 443h1v1h-1zM207 425h1v1h-1zM1065 307h1v1h-1zM1482 101h1v1h-1zM701 439h1v1h-1zM1373 194h1v1h-1zM553 424h1v1h-1zM915 368h1v1h-1zM168 433h1v1h-1zM1463 87h1v1h-1zM754 450h1v1h-1zM1365 195h1v1h-1zM1249 249h1v1h-1zM939 352h1v1h-1zM57 458h1v1h-1zM237 425h1v1h-1zM229 421h1v1h-1zM238 426h1v1h-1zM278 462h1v1h-1zM1308 190h1v1h-1zM1126 299h1v1h-1zM149 433h1v1h-1zM1345 194h1v1h-1zM1054 310h1v1h-1zM274 464h1v1h-1zM496 433h1v1h-1zM737 459h1v1h-1zM320 436h1v1h-1zM1346 194h1v1h-1zM411 474h1v1h-1zM321 437h1v1h-1zM1145 289h1v1h-1zM483 435h1v1h-1zM1000 316h1v1h-1zM293 454h1v1h-1zM903 383h1v1h-1zM567 434h1v1h-1zM518 429h1v1h-1zM1068 307h1v1h-1zM919 364h1v1h-1zM65 452h1v1h-1zM1069 308h1v1h-1zM510 430h1v1h-1zM795 413h1v1h-1zM425 471h1v1h-1zM1160 282h1v1h-1zM448 454h1v1h-1zM837 415h1v1h-1zM243 430h1v1h-1zM1056 310h1v1h-1zM421 473h1v1h-1zM1423 103h1v1h-1zM233 422h1v1h-1zM244 431h1v1h-1zM300 448h1v1h-1zM111 432h1v1h-1zM152 433h1v1h-1zM413 474h1v1h-1zM498 432h1v1h-1zM658 421h1v1h-1zM868 416h1v1h-1zM262 457h1v1h-1zM494 434h1v1h-1zM464 448h1v1h-1zM182 433h1v1h-1zM855 418h1v1h-1zM760 446h1v1h-1zM710 445h1v1h-1zM887 406h1v1h-1zM798 414h1v1h-1zM1329 193h1v1h-1zM547 423h1v1h-1zM1330 194h1v1h-1zM1322 190h1v1h-1zM1259 250h1v1h-1zM1206 244h1v1h-1zM163 433h1v1h-1zM799 414h1v1h-1zM1101 307h1v1h-1zM548 423h1v1h-1zM1102 308h1v1h-1zM743 455h1v1h-1zM125 442h1v1h-1zM239 427h1v1h-1zM771 437h1v1h-1zM1360 194h1v1h-1zM1244 248h1v1h-1zM106 428h1v1h-1zM1013 315h1v1h-1zM240 428h1v1h-1zM661 421h1v1h-1zM1386 188h1v1h-1zM744 455h1v1h-1zM466 447h1v1h-1zM404 472h1v1h-1zM1082 307h1v1h-1zM349 456h1v1h-1zM1195 247h1v1h-1zM890 402h1v1h-1zM762 445h1v1h-1zM71 448h1v1h-1zM185 433h1v1h-1zM782 423h1v1h-1zM1224 247h1v1h-1zM523 428h1v1h-1zM858 418h1v1h-1zM1116 304h1v1h-1zM454 450h1v1h-1zM1225 247h1v1h-1zM431 466h1v1h-1zM706 442h1v1h-1zM1036 317h1v1h-1zM550 423h1v1h-1zM287 458h1v1h-1zM687 428h1v1h-1zM954 363h1v1h-1zM1262 250h1v1h-1zM1135 295h1v1h-1zM1209 244h1v1h-1zM166 433h1v1h-1zM688 429h1v1h-1zM990 322h1v1h-1zM680 425h1v1h-1zM127 441h1v1h-1zM1254 251h1v1h-1zM474 441h1v1h-1zM600 437h1v1h-1zM970 348h1v1h-1zM227 420h1v1h-1zM790 417h1v1h-1zM426 486h1v1h-1zM9 463h1v1h-1zM457 473h1v1h-1zM80 486h1v1h-1zM309 495h1v1h-1zM385 484h1v1h-1zM1050 349h1v1h-1zM807 442h1v1h-1zM1339 223h1v1h-1zM21 473h1v1h-1zM934 403h1v1h-1zM839 431h1v1h-1zM880 432h1v1h-1zM427 486h1v1h-1zM305 497h1v1h-1zM10 463h1v1h-1zM957 386h1v1h-1zM255 496h1v1h-1zM369 481h1v1h-1zM930 405h1v1h-1zM1188 291h1v1h-1zM1080 349h1v1h-1zM508 452h1v1h-1zM446 477h1v1h-1zM773 463h1v1h-1zM355 475h1v1h-1zM678 454h1v1h-1zM670 450h1v1h-1zM324 487h1v1h-1zM442 479h1v1h-1zM769 465h1v1h-1zM735 472h1v1h-1zM861 431h1v1h-1zM496 455h1v1h-1zM1026 355h1v1h-1zM1388 213h1v1h-1zM896 425h1v1h-1zM1292 245h1v1h-1zM58 494h1v1h-1zM914 415h1v1h-1zM988 364h1v1h-1zM1149 318h1v1h-1zM1288 247h1v1h-1zM526 455h1v1h-1zM841 430h1v1h-1zM652 451h1v1h-1zM1311 236h1v1h-1zM1485 123h1v1h-1zM107 471h1v1h-1zM307 496h1v1h-1zM45 496h1v1h-1zM1173 302h1v1h-1zM16 469h1v1h-1zM5 459h1v1h-1zM247 487h1v1h-1zM1307 238h1v1h-1zM269 505h1v1h-1zM585 482h1v1h-1zM616 469h1v1h-1zM1106 333h1v1h-1zM681 455h1v1h-1zM262 502h1v1h-1zM1215 276h1v1h-1zM72 490h1v1h-1zM830 434h1v1h-1zM586 482h1v1h-1zM1454 148h1v1h-1zM498 454h1v1h-1zM563 471h1v1h-1zM91 481h1v1h-1zM1157 312h1v1h-1zM494 456h1v1h-1zM87 483h1v1h-1zM56 495h1v1h-1zM654 450h1v1h-1zM814 439h1v1h-1zM1198 285h1v1h-1zM391 485h1v1h-1zM760 468h1v1h-1zM1090 343h1v1h-1zM853 430h1v1h-1zM718 471h1v1h-1zM1175 301h1v1h-1zM710 467h1v1h-1zM1379 216h1v1h-1zM1461 142h1v1h-1zM41 493h1v1h-1zM711 467h1v1h-1zM588 482h1v1h-1zM748 471h1v1h-1zM130 458h1v1h-1zM1217 275h1v1h-1zM1006 357h1v1h-1zM906 419h1v1h-1zM1249 264h1v1h-1zM217 462h1v1h-1zM1136 323h1v1h-1zM299 500h1v1h-1zM828 435h1v1h-1zM902 421h1v1h-1zM156 451h1v1h-1zM639 456h1v1h-1zM871 433h1v1h-1zM1275 257h1v1h-1zM1159 311h1v1h-1zM1299 242h1v1h-1zM577 480h1v1h-1zM295 502h1v1h-1zM1472 133h1v1h-1zM1033 351h1v1h-1zM971 376h1v1h-1zM1124 326h1v1h-1zM1271 259h1v1h-1zM855 430h1v1h-1zM551 464h1v1h-1zM1237 266h1v1h-1zM1155 313h1v1h-1zM944 395h1v1h-1zM467 470h1v1h-1zM921 411h1v1h-1zM604 475h1v1h-1zM436 482h1v1h-1zM342 475h1v1h-1zM657 450h1v1h-1zM394 485h1v1h-1zM1405 200h1v1h-1zM314 492h1v1h-1zM1259 262h1v1h-1zM1421 180h1v1h-1zM486 460h1v1h-1zM886 430h1v1h-1zM1048 349h1v1h-1zM79 487h1v1h-1zM782 458h1v1h-1zM425 486h1v1h-1zM1009 357h1v1h-1zM249 489h1v2h-1zM1479 126h1v1h-1zM904 420h1v1h-1zM1139 323h1v1h-1zM359 477h1v1h-1zM1397 209h1v1h-1zM979 370h1v1h-1zM1301 241h1v1h-1zM580 481h1v1h-1zM1078 349h1v1h-1zM874 433h1v1h-1zM98 477h1v1h-1zM668 450h1v1h-1zM997 360h1v1h-1zM1359 218h1v1h-1zM1413 189h1v2h-1zM1297 243h1v1h-1zM1181 297h1v1h-1zM1209 279h1v1h-1zM1428 174h1v1h-1zM565 473h1v1h-1zM290 503h1v1h-1zM147 454h1v1h-1zM1205 281h1v1h-1zM539 457h1v1h-1zM1097 339h1v1h-1zM1316 234h1v1h-1zM340 476h1v1h-1zM1228 270h1v1h-1zM1262 262h1v1h-1zM1059 348h1v1h-1zM458 473h1v1h-1zM135 457h1v1h-1zM1020 356h1v1h-1zM81 486h1v1h-1zM1404 201h1v2h-1zM386 484h1v1h-1zM808 442h1v1h-1zM1440 161h1v1h-1zM524 454h1v1h-1zM1012 357h1v1h-1zM43 495h1v1h-1zM1165 307h1v1h-1zM423 487h1v1h-1zM370 481h1v1h-1zM267 505h1v1h-1zM306 496h1v1h-1zM931 405h1v1h-1zM1435 167h1v1h-1zM954 388h1v1h-1zM208 455h1v1h-1zM1166 307h1v1h-1zM671 450h1v1h-1zM1432 170h1v1h-1zM443 479h1v1h-1zM66 492h1v1h-1zM731 473h1v1h-1zM770 464h1v1h-1zM1389 213h1v1h-1zM185 448h1v1h-1zM1447 154h1v1h-1zM388 484h1v1h-1zM850 429h1v1h-1zM788 454h1v1h-1zM915 415h1v1h-1zM54 495h1v1h-1zM961 382h1v1h-1zM389 485h1v1h-1zM1289 247h1v1h-1zM715 469h1v1h-1zM1150 317h1v1h-1zM1486 123h1v1h-1zM1377 216h1v1h-1zM911 417h1v1h-1zM985 366h1v1h-1zM46 496h1v1h-1zM939 399h1v1h-1zM716 470h1v1h-1zM708 466h1v1h-1zM962 382h1v1h-1zM1146 319h1v1h-1zM701 463h1v1h-1zM373 481h1v1h-1zM251 492h1v1h-1zM270 505h1v1h-1zM617 469h1v1h-1zM1308 237h1v1h-1zM1107 333h1v1h-1zM476 466h1v1h-1zM1004 356h1v1h-1zM613 471h1v1h-1zM445 478h1v1h-1zM1103 335h1v1h-1zM68 491h1v1h-1zM826 435h1v1h-1zM869 433h1v1h-1zM477 466h1v1h-1zM556 467h1v1h-1zM188 449h1v1h-1zM407 487h1v1h-1zM796 448h1v1h-1zM495 456h1v1h-1zM895 426h1v1h-1zM434 482h1v1h-1zM655 450h1v1h-1zM1199 285h1v1h-1zM1346 218h1v1h-1zM392 485h1v1h-1zM987 365h1v1h-1zM761 467h1v1h-1zM430 484h1v1h-1zM1257 262h1v1h-1zM281 504h1v1h-1zM1484 124h1v1h-1zM12 465h1v1h-1zM937 400h1v1h-1zM1172 303h1v1h-1zM23 474h1v1h-1zM1462 142h1v1h-1zM169 448h1v1h-1zM335 480h1v1h-1zM13 466h1v1h-1zM273 505h1v1h-1zM24 475h1v1h-1zM643 453h1v1h-1zM1007 357h1v1h-1zM615 470h1v1h-1zM749 470h1v1h-1zM258 498h1v1h-1zM331 482h1v1h-1zM364 479h1v1h-1zM1415 187h1v1h-1zM365 480h1v1h-1zM157 451h1v1h-1zM357 476h1v1h-1zM872 433h1v1h-1zM1330 228h1v1h-1zM358 477h1v1h-1zM410 487h1v1h-1zM570 476h1v1h-1zM1357 218h1v1h-1zM1410 193h1v1h-1zM1326 230h1v1h-1zM856 430h1v1h-1zM179 447h1v1h-1zM145 454h1v1h-1zM1030 353h1v1h-1zM1125 325h1v1h-1zM1469 135h1v1h-1zM922 411h1v1h-1zM996 360h1v1h-1zM605 475h1v1h-1zM114 466h1v1h-1zM945 394h1v1h-1zM315 492h1v1h-1zM1260 262h1v1h-1zM383 483h1v1h-1zM18 470h1v1h-1zM133 457h1v1h-1zM1018 356h1v1h-1zM1422 180h1v1h-1zM8 462h1v1h-1zM887 430h1v1h-1zM624 465h1v1h-1zM806 442h1v1h-1zM19 471h1v1h-1zM1403 203h1v1h-1zM1044 350h1v1h-1zM1010 357h1v1h-1zM483 462h1v1h-1zM421 487h1v1h-1zM253 494h1v1h-1zM905 420h1v1h-1zM224 467h1v1h-1zM779 460h1v1h-1zM1398 209h1v1h-1zM121 460h1v1h-1zM254 495h1v1h-1zM265 504h1v1h-1zM1476 128h1v1h-1zM875 433h1v1h-1zM1394 211h1v1h-1zM1360 218h1v1h-1zM122 460h1v1h-1zM502 452h1v1h-1zM1182 297h1v1h-1zM566 473h1v1h-1zM607 474h1v1h-1zM182 447h1v1h-1zM148 454h1v1h-1zM1409 194h1v2h-1zM1429 173h1v1h-1zM1206 281h1v1h-1zM402 486h1v1h-1zM603 476h1v1h-1zM341 476h1v1h-1zM1224 271h1v1h-1zM1094 341h1v1h-1zM1263 262h1v1h-1zM1060 348h1v1h-1zM136 457h1v1h-1zM1021 356h1v1h-1zM1116 328h1v1h-1zM25 476h1v2h-1zM387 484h1v1h-1zM1225 271h1v1h-1zM14 467h1v1h-1zM698 462h1v1h-1zM1336 224h1v1h-1zM592 480h1v1h-1zM15 468h1v1h-1zM424 487h1v1h-1zM1189 290h1v1h-1zM1278 255h1v1h-1zM955 388h1v1h-1zM504 452h1v1h-1zM220 464h1v1h-1zM260 500h1v1h-1zM932 404h1v1h-1zM978 371h1v1h-1zM325 486h1v1h-1zM1363 218h1v1h-1zM1186 293h1v1h-1zM97 478h1v1h-1zM928 406h1v1h-1zM404 486h1v1h-1zM1453 148h1v1h-1zM67 492h1v1h-1zM193 451h1v1h-1zM405 487h1v1h-1zM771 464h1v1h-1zM554 466h1v1h-1zM186 448h1v1h-1zM1096 340h1v1h-1zM1385 214h1v1h-1zM1062 347h1v1h-1zM630 461h1v1h-1zM851 429h1v1h-1zM1266 262h1v1h-1zM1024 356h1v1h-1zM986 366h1v1h-1zM594 479h1v1h-1zM709 466h1v1h-1zM1482 124h1v1h-1zM1373 217h1v1h-1zM1439 162h1v1h-1zM912 416h1v1h-1zM1147 319h1v1h-1zM105 473h1v1h-1zM378 482h1v1h-1zM271 505h1v1h-1zM234 474h1v1h-1zM215 460h1v1h-1zM362 479h1v1h-1zM582 482h1v1h-1zM1455 147h1v1h-1zM69 491h1v1h-1zM256 497h1v1h-1zM827 435h1v1h-1zM575 479h1v1h-1zM1104 334h1v1h-1zM576 480h1v1h-1zM408 487h1v1h-1zM473 467h1v1h-1zM797 448h1v1h-1zM632 460h1v1h-1zM793 450h1v1h-1zM542 459h1v1h-1zM651 451h1v1h-1zM282 504h1v1h-1zM757 468h1v1h-1zM85 484h1v1h-1zM1376 217h1v1h-1zM938 400h1v1h-1zM812 440h1v1h-1zM1196 286h1v1h-1zM1088 344h1v1h-1zM165 449h1v1h-1zM28 480h1v1h-1zM1169 305h1v1h-1zM210 456h1v1h-1zM1246 264h1v1h-1zM211 457h1v1h-1zM366 480h1v1h-1zM296 501h1v1h-1zM153 452h1v1h-1zM1272 258h1v1h-1zM411 487h1v1h-1zM795 449h1v1h-1zM1327 230h1v1h-1zM968 377h1v1h-1zM180 447h1v1h-1zM1234 267h1v1h-1zM1126 325h1v1h-1zM464 471h1v1h-1zM1493 118h1v1h-1zM946 394h1v1h-1zM1153 315h1v1h-1zM601 476h1v1h-1zM433 483h1v1h-1zM529 456h1v1h-1zM111 468h1v1h-1zM1261 262h1v1h-1zM285 504h1v1h-1zM465 471h1v1h-1zM384 483h1v1h-1zM1019 356h1v1h-1zM168 449h1v1h-1zM703 464h1v1h-1zM1419 182h1v1h-1zM422 487h1v1h-1zM696 461h1v1h-1zM1045 349h1v1h-1zM236 476h1v1h-1zM689 458h1v1h-1zM1414 188h1v1h-1zM1329 229h1v1h-1zM1395 211h1v1h-1zM558 468h1v1h-1zM1075 349h1v1h-1zM503 452h1v1h-1zM864 431h1v1h-1zM183 447h1v1h-1zM665 450h1v1h-1zM1183 296h1v1h-1zM144 455h1v1h-1zM1468 136h1v1h-1zM995 361h1v1h-1zM403 486h1v1h-1zM1318 233h1v1h-1zM338 478h1v1h-1zM1441 160h1v1h-1zM714 469h1v1h-1zM1022 356h1v1h-1zM1314 235h1v1h-1zM520 454h1v1h-1zM623 466h1v1h-1zM1113 330h1v1h-1zM1402 204h1v1h-1zM593 480h1v1h-1zM707 465h1v1h-1zM456 474h1v1h-1zM30 482h1v1h-1zM505 452h1v1h-1zM1279 254h1v1h-1zM833 433h1v1h-1zM1433 169h1v1h-1zM360 478h1v1h-1zM352 474h1v1h-1zM929 406h1v1h-1zM975 373h1v1h-1zM322 488h1v1h-1zM353 475h1v1h-1zM63 493h1v1h-1zM573 478h1v1h-1zM555 466h1v1h-1zM1386 214h1v1h-1zM733 472h1v1h-1zM894 426h1v1h-1zM631 461h1v1h-1zM847 430h1v1h-1zM1445 156h1v1h-1zM890 428h1v1h-1zM790 453h1v1h-1zM1425 177h1v1h-1zM523 454h1v1h-1zM595 479h1v1h-1zM1483 124h1v1h-1zM1374 217h1v1h-1zM913 416h1v1h-1zM52 496h1v1h-1zM650 451h1v1h-1zM1335 225h1v1h-1zM756 469h1v1h-1zM379 482h1v1h-1zM163 449h1v1h-1zM22 473h1v1h-1zM1375 217h1v1h-1zM614 470h1v1h-1zM363 479h1v1h-1zM227 469h1v1h-1zM583 482h1v1h-1zM743 471h1v1h-1zM1001 357h1v1h-1zM610 472h1v1h-1zM568 475h1v1h-1zM1105 334h1v1h-1zM1452 149h1v1h-1zM744 471h1v1h-1zM474 467h1v1h-1zM1132 324h1v1h-1zM633 460h1v1h-1zM1101 336h1v1h-1zM824 436h1v1h-1zM1070 348h1v1h-1zM660 450h1v1h-1zM492 457h1v1h-1zM397 485h1v1h-1zM794 450h1v1h-1zM892 427h1v1h-1zM543 459h1v1h-1zM629 462h1v1h-1zM283 504h1v1h-1zM758 468h1v1h-1zM17 470h1v1h-1zM527 455h1v1h-1zM813 440h1v1h-1zM1197 286h1v1h-1zM6 460h1v1h-1zM166 449h1v1h-1zM648 452h1v1h-1zM104 474h1v1h-1zM332 481h1v1h-1zM935 402h1v1h-1zM693 460h1v1h-1zM1193 288h1v1h-1zM1085 346h1v1h-1zM203 452h1v1h-1zM222 465h1v1h-1zM263 503h1v1h-1zM746 471h1v1h-1zM1247 264h1v1h-1zM252 493h1v1h-1zM204 453h1v1h-1zM223 466h1v1h-1zM297 501h1v1h-1zM154 452h1v1h-1zM1039 351h1v1h-1zM1134 323h1v1h-1zM1072 348h1v1h-1zM1273 258h1v1h-1zM564 472h1v1h-1zM1073 349h1v1h-1zM1031 352h1v1h-1zM969 377h1v1h-1zM1269 260h1v1h-1zM293 502h1v1h-1zM663 450h1v1h-1zM1235 267h1v1h-1zM400 485h1v1h-1zM142 455h1v1h-1zM1122 326h1v1h-1zM316 491h1v1h-1zM602 476h1v1h-1zM1231 269h1v1h-1zM1053 348h1v1h-1zM1154 314h1v1h-1zM312 493h1v1h-1zM815 439h1v1h-1zM143 455h1v1h-1zM1342 221h1v1h-1zM461 472h1v1h-1zM108 470h1v1h-1zM518 454h1v1h-1zM1054 348h1v1h-1zM484 461h1v1h-1zM1087 345h1v1h-1zM704 464h1v1h-1zM884 431h1v1h-1zM780 459h1v1h-1zM1458 145h1v1h-1zM131 458h1v1h-1zM519 454h1v1h-1zM776 461h1v1h-1zM804 443h1v1h-1zM218 462h1v1h-1zM977 371h1v1h-1zM1137 323h1v1h-1zM73 489h1v1h-1zM903 421h1v1h-1zM559 468h1v1h-1zM350 474h1v1h-1zM96 478h1v1h-1zM578 481h1v1h-1zM1076 349h1v1h-1zM1474 130h1v1h-1zM1295 244h1v1h-1zM1396 210h1v1h-1zM119 461h1v1h-1zM560 469h1v1h-1zM666 450h1v1h-1zM899 423h1v1h-1zM92 480h1v1h-1zM1233 268h1v1h-1zM544 460h1v1h-1zM1492 119h1v1h-1zM1180 298h1v1h-1zM1407 197h1v1h-1zM1427 175h1v1h-1zM1056 348h1v1h-1zM537 457h1v1h-1zM1315 235h1v1h-1zM339 477h1v1h-1zM521 454h1v1h-1zM376 481h1v1h-1zM1222 272h1v1h-1zM1114 330h1v1h-1zM75 489h1v1h-1zM1418 183h1v1h-1zM589 481h1v1h-1zM213 459h1v1h-1zM802 445h1v1h-1zM452 475h1v1h-1zM1110 332h1v1h-1zM304 497h1v1h-1zM1368 218h1v1h-1zM952 389h1v1h-1zM581 482h1v1h-1zM834 433h1v1h-1zM1164 308h1v1h-1zM214 459h1v1h-1zM361 478h1v1h-1zM1434 168h1v1h-1zM94 479h1v1h-1zM953 389h1v1h-1zM1160 310h1v1h-1zM354 475h1v1h-1zM669 450h1v1h-1zM547 461h1v1h-1zM1473 131h1v2h-1zM1496 115h1v1h-1zM768 465h1v1h-1zM729 473h1v1h-1zM848 430h1v1h-1zM764 467h1v1h-1zM1317 234h1v1h-1zM1406 198h1v2h-1zM1446 155h1v1h-1zM1383 215h1v1h-1zM84 484h1v1h-1zM787 455h1v1h-1zM960 383h1v1h-1zM380 482h1v1h-1zM1144 320h1v1h-1zM26 478h1v1h-1zM1437 164h1v2h-1zM513 453h1v1h-1zM836 432h1v1h-1zM1306 238h1v1h-1zM1480 125h1v1h-1zM1371 218h1v1h-1zM209 456h1v1h-1zM691 459h1v1h-1zM268 505h1v1h-1zM201 452h1v1h-1zM1002 357h1v1h-1zM692 460h1v1h-1zM1162 309h1v1h-1zM684 456h1v1h-1zM1302 240h1v1h-1zM202 452h1v1h-1zM866 432h1v1h-1zM745 471h1v1h-1zM561 470h1v1h-1zM1102 336h1v1h-1zM825 436h1v1h-1zM1071 348h1v1h-1zM493 457h1v1h-1zM732 473h1v1h-1zM893 427h1v1h-1zM1444 157h1v1h-1zM1344 219h1v1h-1zM86 483h1v1h-1zM55 495h1v1h-1zM759 468h1v1h-1zM141 455h1v1h-1zM1121 326h1v1h-1zM279 505h1v1h-1zM82 485h1v1h-1zM167 449h1v1h-1zM649 452h1v1h-1zM809 441h1v1h-1zM702 464h1v1h-1zM33 485h1v1h-1zM516 453h1v1h-1zM1013 356h1v1h-1zM1086 346h1v1h-1zM1304 239h1v1h-1zM747 471h1v1h-1zM129 458h1v1h-1zM329 483h1v1h-1zM1216 275h1v1h-1zM1005 357h1v1h-1zM416 487h1v1h-1zM1243 265h1v1h-1zM155 452h1v1h-1zM1040 351h1v1h-1zM1135 323h1v1h-1zM1212 277h1v1h-1zM1451 150h1v1h-1zM1354 217h1v1h-1zM870 433h1v1h-1zM1324 231h1v1h-1zM557 467h1v1h-1zM1270 260h1v1h-1zM294 502h1v1h-1zM549 463h1v1h-1zM664 450h1v1h-1zM151 453h1v1h-1zM970 376h1v1h-1zM1123 326h1v1h-1zM112 467h1v1h-1zM177 447h1v1h-1zM535 457h1v1h-1zM1491 120h1v1h-1zM313 493h1v1h-1zM990 363h1v1h-1zM816 439h1v1h-1zM462 472h1v1h-1zM139 456h1v1h-1zM431 484h1v1h-1zM1258 262h1v1h-1zM1420 181h1v1h-1zM1055 348h1v1h-1zM381 483h1v1h-1zM1016 356h1v1h-1zM229 471h1v1h-1zM1084 347h1v1h-1zM259 499h1v1h-1zM618 468h1v1h-1zM1042 350h1v1h-1zM1459 144h1v1h-1zM127 459h1v1h-1zM241 481h1v1h-1zM777 461h1v1h-1zM419 487h1v1h-1zM1366 218h1v1h-1zM640 455h1v1h-1zM1138 323h1v1h-1zM74 489h1v1h-1zM801 445h1v1h-1zM196 451h1v1h-1zM351 474h1v1h-1zM579 481h1v1h-1zM571 477h1v1h-1zM1498 113h1v1h-1zM500 453h1v1h-1zM572 478h1v1h-1zM1358 218h1v1h-1zM1296 243h1v1h-1zM1065 347h1v1h-1zM545 460h1v1h-1zM918 413h1v1h-1zM992 362h1v1h-1zM727 473h1v1h-1zM546 461h1v1h-1zM1057 348h1v1h-1zM538 457h1v1h-1zM1466 138h1v1h-1zM1489 121h1v1h-1zM1408 196h1v1h-1zM942 397h1v1h-1zM1177 300h1v1h-1zM522 454h1v1h-1zM1381 215h1v1h-1zM1223 272h1v1h-1zM20 472h1v1h-1zM883 432h1v1h-1zM620 467h1v1h-1zM1219 274h1v1h-1zM225 468h1v1h-1zM453 475h1v1h-1zM1111 332h1v1h-1zM35 487h1v1h-1zM76 488h1v1h-1zM1280 253h1v1h-1zM1369 218h1v1h-1zM206 454h1v1h-1zM803 444h1v1h-1zM266 505h1v1h-1zM835 433h1v1h-1zM976 372h1v1h-1zM301 499h1v1h-1zM95 479h1v1h-1zM1161 310h1v1h-1zM118 462h1v1h-1zM567 474h1v1h-1zM738 472h1v1h-1zM1411 192h1v1h-1zM1068 347h1v1h-1zM1349 217h1v1h-1zM65 492h1v1h-1zM1069 348h1v1h-1zM730 473h1v1h-1zM1179 299h1v1h-1zM115 465h1v1h-1zM1426 176h1v1h-1zM819 438h1v1h-1zM849 429h1v1h-1zM1095 341h1v1h-1zM1384 215h1v1h-1zM53 495h1v1h-1zM1091 343h1v1h-1zM910 417h1v1h-1zM699 462h1v1h-1zM784 457h1v1h-1zM1337 224h1v1h-1zM514 453h1v1h-1zM837 432h1v1h-1zM753 469h1v1h-1zM1481 125h1v1h-1zM303 498h1v1h-1zM700 463h1v1h-1zM1372 218h1v1h-1zM1438 163h1v1h-1zM221 465h1v1h-1zM261 501h1v1h-1zM1333 226h1v1h-1zM243 483h1v1h-1zM1163 309h1v1h-1zM685 456h1v1h-1zM1303 240h1v1h-1zM1477 127h1v1h-1zM414 487h1v1h-1zM1003 356h1v1h-1zM612 471h1v1h-1zM867 432h1v1h-1zM444 478h1v1h-1zM562 470h1v1h-1zM1352 217h1v1h-1zM471 468h1v1h-1zM608 473h1v1h-1zM440 480h1v1h-1zM406 487h1v1h-1zM821 437h1v1h-1zM767 466h1v1h-1zM149 453h1v1h-1zM1129 324h1v1h-1zM1430 172h1v1h-1zM288 504h1v1h-1zM175 447h1v1h-1zM1286 249h1v1h-1zM490 458h1v1h-1zM280 505h1v1h-1zM1341 221h1v1h-1zM755 469h1v1h-1zM137 456h1v1h-1zM83 485h1v1h-1zM936 401h1v1h-1zM982 368h1v1h-1zM786 456h1v1h-1zM959 384h1v1h-1zM810 441h1v1h-1zM1194 287h1v1h-1zM1143 321h1v1h-1zM1014 356h1v1h-1zM1252 264h1v1h-1zM983 368h1v1h-1zM1305 239h1v1h-1zM216 461h1v1h-1zM330 483h1v1h-1zM1195 287h1v1h-1zM125 459h1v1h-1zM102 475h1v1h-1zM257 498h1v1h-1zM417 487h1v1h-1zM1244 265h1v1h-1zM1213 277h1v1h-1zM356 476h1v1h-1zM1041 350h1v1h-1zM1355 217h1v1h-1zM550 463h1v1h-1zM569 476h1v1h-1zM152 453h1v1h-1zM1232 268h1v1h-1zM178 447h1v1h-1zM1029 353h1v1h-1zM967 378h1v1h-1zM1343 220h1v1h-1zM109 469h1v1h-1zM463 472h1v1h-1zM140 456h1v1h-1zM1120 327h1v1h-1zM382 483h1v1h-1zM1051 349h1v1h-1zM1017 356h1v1h-1zM310 494h1v1h-1zM29 481h1v1h-1zM840 431h1v1h-1zM230 471h1v1h-1zM881 432h1v1h-1zM1043 350h1v1h-1zM128 459h1v1h-1zM420 487h1v1h-1zM212 458h1v1h-1zM694 461h1v1h-1zM882 432h1v1h-1zM686 457h1v1h-1zM778 460h1v1h-1zM1456 146h1v1h-1zM447 477h1v1h-1zM70 490h1v1h-1zM264 504h1v1h-1zM679 454h1v1h-1zM900 422h1v1h-1zM637 457h1v1h-1zM501 453h1v1h-1zM774 462h1v1h-1zM1393 211h1v1h-1zM672 451h1v1h-1zM1323 232h1v1h-1zM862 431h1v1h-1zM117 463h1v1h-1zM497 455h1v1h-1zM1027 355h1v1h-1zM181 447h1v1h-1zM919 413h1v1h-1zM993 362h1v1h-1zM1293 245h1v1h-1zM59 494h1v1h-1zM1490 121h1v1h-1zM989 364h1v1h-1zM1467 137h1v1h-1zM1382 215h1v1h-1zM621 467h1v1h-1zM697 462h1v1h-1zM480 464h1v1h-1zM226 468h1v1h-1zM77 488h1v1h-1zM237 477h1v1h-1zM47 496h1v1h-1zM449 476h1v1h-1zM1370 218h1v1h-1zM207 454h1v1h-1zM1112 331h1v1h-1zM1401 205h1v2h-1zM238 478h1v1h-1zM1277 255h1v1h-1zM831 434h1v1h-1zM800 446h1v1h-1zM927 407h1v1h-1zM973 374h1v1h-1zM865 432h1v1h-1zM1497 114h1v1h-1zM499 454h1v1h-1zM739 472h1v1h-1zM552 465h1v1h-1zM61 493h1v1h-1zM1203 283h1v1h-1zM321 489h1v1h-1zM845 430h1v1h-1zM1380 216h1v1h-1zM49 496h1v1h-1zM1285 249h1v1h-1zM31 483h1v1h-1zM232 473h1v1h-1zM754 469h1v1h-1zM377 482h1v1h-1zM161 449h1v1h-1zM233 474h1v1h-1zM1334 226h1v1h-1zM1142 321h1v1h-1zM1478 127h1v1h-1zM1187 292h1v1h-1zM198 452h1v1h-1zM741 471h1v1h-1zM868 432h1v1h-1zM574 479h1v1h-1zM1353 217h1v1h-1zM472 468h1v1h-1zM1034 351h1v1h-1zM323 488h1v1h-1zM1000 358h1v1h-1zM609 473h1v1h-1zM441 480h1v1h-1zM64 493h1v1h-1zM1238 266h1v1h-1zM822 437h1v1h-1zM1184 295h1v1h-1zM150 453h1v1h-1zM1130 324h1v1h-1zM319 490h1v1h-1zM548 462h1v1h-1zM540 458h1v1h-1zM627 463h1v1h-1zM176 447h1v1h-1zM658 450h1v1h-1zM395 485h1v1h-1zM857 430h1v1h-1zM491 458h1v1h-1zM891 428h1v1h-1zM138 456h1v1h-1zM1118 327h1v1h-1zM1287 248h1v1h-1zM172 448h1v1h-1zM487 460h1v1h-1zM37 489h1v1h-1zM909 418h1v1h-1zM646 453h1v1h-1zM1015 356h1v1h-1zM783 458h1v1h-1zM38 490h1v1h-1zM164 449h1v1h-1zM228 470h1v1h-1zM1168 305h1v1h-1zM239 479h1v1h-1zM103 475h1v1h-1zM418 487h1v1h-1zM240 480h1v1h-1zM611 472h1v1h-1zM99 477h1v1h-1zM1356 217h1v1h-1zM1037 351h1v1h-1zM859 430h1v1h-1zM1449 152h1v1h-1zM345 474h1v1h-1zM291 503h1v1h-1zM1098 339h1v1h-1zM661 450h1v1h-1zM398 485h1v1h-1zM1322 232h1v1h-1zM1268 261h1v1h-1zM432 483h1v1h-1zM1229 269h1v1h-1zM791 452h1v1h-1zM964 380h1v1h-1zM1340 222h1v1h-1zM459 473h1v1h-1zM596 478h1v1h-1zM428 485h1v1h-1zM1255 263h1v1h-1zM1052 349h1v1h-1zM311 494h1v1h-1zM1170 304h1v1h-1zM1460 143h1v1h-1zM44 495h1v1h-1zM371 481h1v1h-1zM246 486h1v1h-1zM695 461h1v1h-1zM687 457h1v1h-1zM101 476h1v1h-1zM71 490h1v1h-1zM688 458h1v1h-1zM680 454h1v1h-1zM901 422h1v1h-1zM638 457h1v1h-1zM775 462h1v1h-1zM348 474h1v1h-1zM1074 349h1v1h-1zM897 424h1v1h-1zM401 486h1v1h-1zM634 459h1v1h-1zM863 431h1v1h-1zM943 396h1v1h-1zM1178 299h1v1h-1zM1028 354h1v1h-1zM920 412h1v1h-1zM966 379h1v1h-1zM724 473h1v1h-1zM1202 283h1v1h-1zM843 430h1v1h-1zM916 414h1v1h-1zM1151 317h1v1h-1zM1487 123h1v1h-1zM337 478h1v1h-1zM1378 216h1v1h-1zM717 470h1v1h-1zM1220 273h1v1h-1zM1313 235h1v1h-1zM374 481h1v1h-1zM48 496h1v1h-1zM40 492h1v1h-1zM450 476h1v1h-1zM1309 237h1v1h-1zM1221 273h1v1h-1zM481 463h1v1h-1zM219 463h1v1h-1zM1417 184h1v2h-1zM1412 191h1v1h-1zM1274 257h1v1h-1zM951 390h1v1h-1zM1392 212h1v1h-1zM197 452h1v1h-1zM116 464h1v1h-1zM553 465h1v1h-1zM62 493h1v1h-1zM93 480h1v1h-1zM1204 282h1v1h-1zM656 450h1v1h-1zM393 485h1v1h-1zM89 482h1v1h-1zM846 430h1v1h-1zM1424 178h1v1h-1zM1200 284h1v1h-1zM762 467h1v1h-1zM1092 342h1v1h-1zM50 496h1v1h-1zM785 456h1v1h-1zM170 448h1v1h-1zM274 505h1v1h-1zM1463 141h1v1h-1zM51 496h1v1h-1zM162 449h1v1h-1zM590 481h1v1h-1zM750 470h1v1h-1zM300 499h1v1h-1zM511 453h1v1h-1zM908 418h1v1h-1zM248 488h1v1h-1zM645 453h1v1h-1zM1276 256h1v1h-1zM199 452h1v1h-1zM742 471h1v1h-1zM873 433h1v1h-1zM1331 228h1v1h-1zM926 408h1v1h-1zM674 452h1v1h-1zM949 391h1v1h-1zM1035 351h1v1h-1zM1431 171h1v1h-1zM468 469h1v1h-1zM1239 266h1v1h-1zM823 437h1v1h-1zM1131 324h1v1h-1zM146 454h1v1h-1zM1470 135h1v1h-1zM541 458h1v1h-1zM659 450h1v1h-1zM396 485h1v1h-1zM469 469h1v1h-1zM858 430h1v1h-1zM628 462h1v1h-1zM1119 327h1v1h-1zM134 457h1v1h-1zM1443 158h1v1h-1zM1253 263h1v1h-1zM984 367h1v1h-1zM277 505h1v1h-1zM647 453h1v1h-1zM1115 329h1v1h-1zM1284 250h1v1h-1zM27 479h1v1h-1zM1011 357h1v1h-1zM1145 320h1v1h-1zM980 369h1v1h-1zM160 450h1v1h-1zM1254 263h1v1h-1zM1192 288h1v1h-1zM1141 322h1v1h-1zM677 453h1v1h-1zM876 433h1v1h-1zM1210 278h1v1h-1zM328 484h1v1h-1zM1241 265h1v1h-1zM1361 218h1v1h-1zM1133 323h1v1h-1zM1038 351h1v1h-1zM123 460h1v1h-1zM860 430h1v1h-1zM999 359h1v1h-1zM346 474h1v1h-1zM292 503h1v1h-1zM1450 151h1v1h-1zM662 450h1v1h-1zM399 485h1v1h-1zM1099 338h1v1h-1zM532 456h1v1h-1zM1264 262h1v1h-1zM1230 269h1v1h-1zM722 473h1v1h-1zM460 473h1v1h-1zM533 457h1v1h-1zM1117 328h1v1h-1zM597 478h1v1h-1zM429 485h1v1h-1zM1256 263h1v1h-1zM4 458h1v1h-1zM1171 304h1v1h-1zM34 486h1v1h-1zM517 454h1v1h-1zM372 481h1v1h-1zM842 430h1v1h-1zM1082 348h1v1h-1zM235 475h1v1h-1zM878 432h1v1h-1zM1167 306h1v1h-1zM1457 145h1v1h-1zM250 491h1v1h-1zM326 486h1v1h-1zM1083 348h1v1h-1zM1364 218h1v1h-1zM506 452h1v1h-1zM194 451h1v1h-1zM349 474h1v1h-1zM1390 212h1v1h-1zM898 424h1v1h-1zM635 459h1v1h-1zM1294 244h1v1h-1zM1325 231h1v1h-1zM187 448h1v1h-1zM1063 347h1v1h-1zM1290 246h1v1h-1zM852 429h1v1h-1zM1267 262h1v1h-1zM599 477h1v1h-1zM1345 218h1v1h-1zM725 473h1v1h-1zM940 398h1v1h-1zM536 457h1v1h-1zM844 430h1v1h-1zM917 414h1v1h-1zM963 381h1v1h-1zM991 363h1v1h-1zM1465 139h1v1h-1zM1488 122h1v1h-1zM334 480h1v1h-1zM11 464h1v1h-1zM375 481h1v1h-1zM272 505h1v1h-1zM451 476h1v1h-1zM242 482h1v1h-1zM106 472h1v1h-1zM482 463h1v1h-1zM231 472h1v1h-1zM619 468h1v1h-1zM1109 332h1v1h-1zM509 453h1v1h-1zM1367 218h1v1h-1zM478 465h1v1h-1zM409 487h1v1h-1zM1495 116h1v1h-1zM948 392h1v1h-1zM736 472h1v1h-1zM925 408h1v1h-1zM1066 347h1v1h-1zM1347 217h1v1h-1zM318 490h1v1h-1zM113 466h1v1h-1zM728 473h1v1h-1zM817 438h1v1h-1zM1201 284h1v1h-1zM763 467h1v1h-1zM1093 342h1v1h-1zM336 479h1v1h-1zM171 448h1v1h-1zM1312 236h1v1h-1zM1089 344h1v1h-1zM275 505h1v1h-1zM36 488h1v1h-1zM7 461h1v1h-1zM591 481h1v1h-1zM751 470h1v1h-1zM1416 186h1v1h-1zM158 450h1v1h-1zM512 453h1v1h-1zM367 480h1v1h-1zM690 459h1v1h-1zM641 454h1v1h-1zM200 452h1v1h-1zM682 455h1v1h-1zM675 452h1v1h-1zM412 487h1v1h-1zM950 391h1v1h-1zM1185 294h1v1h-1zM1036 351h1v1h-1zM676 453h1v1h-1zM320 489h1v1h-1zM923 410h1v1h-1zM1240 266h1v1h-1zM606 474h1v1h-1zM438 481h1v1h-1zM1350 217h1v1h-1zM1127 325h1v1h-1zM765 466h1v1h-1zM1471 134h1v1h-1zM820 438h1v1h-1zM530 456h1v1h-1zM286 504h1v1h-1zM173 447h1v1h-1zM1423 179h1v1h-1zM488 459h1v1h-1zM888 429h1v1h-1zM719 471h1v1h-1zM625 464h1v1h-1zM278 505h1v1h-1zM720 472h1v1h-1zM42 494h1v1h-1zM712 468h1v1h-1zM1399 208h1v1h-1zM705 465h1v1h-1zM981 369h1v1h-1zM1046 349h1v1h-1zM454 474h1v1h-1zM1281 252h1v1h-1zM515 453h1v1h-1zM958 385h1v1h-1zM244 484h1v1h-1zM1250 264h1v1h-1zM907 419h1v1h-1zM100 476h1v1h-1zM245 485h1v1h-1zM1211 278h1v1h-1zM1081 348h1v1h-1zM415 487h1v1h-1zM1242 265h1v1h-1zM1362 218h1v1h-1zM191 450h1v1h-1zM124 460h1v1h-1zM1207 280h1v1h-1zM347 474h1v1h-1zM184 447h1v1h-1zM1061 347h1v1h-1zM792 451h1v1h-1zM965 379h1v1h-1zM1319 233h1v1h-1zM1265 262h1v1h-1zM723 473h1v1h-1zM1226 270h1v1h-1zM534 457h1v1h-1zM1023 356h1v1h-1zM1442 159h1v1h-1zM598 477h1v1h-1zM1283 251h1v1h-1zM308 495h1v1h-1zM811 441h1v1h-1zM956 387h1v1h-1zM1049 349h1v1h-1zM1338 223h1v1h-1zM933 403h1v1h-1zM838 431h1v1h-1zM879 432h1v1h-1zM1191 289h1v1h-1zM39 491h1v1h-1zM126 459h1v1h-1zM1365 218h1v1h-1zM1079 349h1v1h-1zM327 485h1v1h-1zM507 452h1v1h-1zM772 463h1v1h-1zM195 451h1v1h-1zM1391 212h1v1h-1zM636 458h1v1h-1zM1321 232h1v1h-1zM1387 214h1v1h-1zM734 472h1v1h-1zM1064 347h1v1h-1zM1291 246h1v1h-1zM1025 355h1v1h-1zM1152 316h1v1h-1zM600 477h1v1h-1zM88 482h1v1h-1zM726 473h1v1h-1zM57 494h1v1h-1zM110 469h1v1h-1zM941 397h1v1h-1zM1148 318h1v1h-1zM1176 300h1v1h-1zM525 455h1v1h-1zM1310 236h1v1h-1zM1218 274h1v1h-1zM584 482h1v1h-1zM510 453h1v1h-1zM1245 264h1v1h-1zM479 465h1v1h-1zM1214 276h1v1h-1zM798 447h1v1h-1zM448 477h1v1h-1zM829 434h1v1h-1zM475 467h1v1h-1zM673 451h1v1h-1zM799 447h1v1h-1zM737 472h1v1h-1zM1067 347h1v1h-1zM972 375h1v1h-1zM1348 217h1v1h-1zM90 481h1v1h-1zM1156 312h1v1h-1zM437 481h1v1h-1zM60 494h1v1h-1zM818 438h1v1h-1zM1174 302h1v1h-1zM284 504h1v1h-1zM653 450h1v1h-1zM390 485h1v1h-1zM1464 140h1v1h-1zM528 455h1v1h-1zM276 505h1v1h-1zM333 481h1v1h-1zM752 470h1v1h-1zM159 450h1v1h-1zM587 482h1v1h-1zM1332 227h1v1h-1zM1108 333h1v1h-1zM302 498h1v1h-1zM1248 264h1v1h-1zM368 480h1v1h-1zM205 453h1v1h-1zM642 454h1v1h-1zM683 455h1v1h-1zM1140 322h1v1h-1zM832 434h1v1h-1zM1328 229h1v1h-1zM298 500h1v1h-1zM413 487h1v1h-1zM974 374h1v1h-1zM1032 352h1v1h-1zM998 359h1v1h-1zM1158 311h1v1h-1zM1494 117h1v1h-1zM439 481h1v1h-1zM189 449h1v1h-1zM740 472h1v1h-1zM1298 242h1v1h-1zM947 393h1v1h-1zM1236 267h1v1h-1zM1351 217h1v1h-1zM470 468h1v1h-1zM1128 325h1v1h-1zM924 409h1v1h-1zM190 450h1v1h-1zM317 491h1v1h-1zM854 430h1v1h-1zM994 361h1v1h-1zM766 466h1v1h-1zM466 470h1v1h-1zM531 456h1v1h-1zM435 482h1v1h-1zM287 504h1v1h-1zM174 447h1v1h-1zM489 459h1v1h-1zM889 429h1v1h-1zM626 464h1v1h-1zM721 472h1v1h-1zM485 461h1v1h-1zM713 468h1v1h-1zM885 431h1v1h-1zM622 466h1v1h-1zM32 484h1v1h-1zM3 457h1v1h-1zM781 459h1v1h-1zM706 465h1v1h-1zM644 453h1v1h-1zM1047 349h1v1h-1zM455 474h1v1h-1zM132 458h1v1h-1zM1282 252h1v1h-1zM78 487h1v1h-1zM877 432h1v1h-1zM1400 207h1v1h-1zM1008 357h1v1h-1zM1251 264h1v1h-1zM805 443h1v1h-1zM1436 166h1v1h-1zM1190 290h1v1h-1zM1300 241h1v1h-1zM192 450h1v1h-1zM1077 349h1v1h-1zM120 461h1v1h-1zM1475 129h1v1h-1zM667 450h1v1h-1zM343 475h1v1h-1zM1208 279h1v1h-1zM1100 337h1v1h-1zM289 503h1v1h-1zM1448 153h1v1h-1zM1320 233h1v1h-1zM344 475h1v1h-1zM1227 270h1v1h-1zM789 453h1v1h-1zM1058 348h1v1h-1zM445 499h1v1h-1zM351 492h1v1h-1zM857 443h1v1h-1zM206 482h1v1h-1zM1018 397h1v1h-1zM1421 256h1v1h-1zM941 442h1v2h-1zM207 483h1v1h-1zM850 440h1v1h-1zM199 479h1v1h-1zM723 485h1v1h-1zM210 487h1v2h-1zM1473 159h1v5h-1zM1041 385h1v1h-1zM106 515h1v2h-1zM1161 338h1v1h-1zM315 546h1v1h-1zM898 458h1v1h-1zM384 502h1v1h-1zM1341 246h1v2h-1zM565 513h1v1h-1zM418 500h1v1h-1zM114 495h1v3h-1zM326 533h1v2h-1zM932 455h1v1h-1zM883 450h1v1h-1zM1226 295h1v1h-1zM1460 201h1v2h-1zM994 403h1v1h-1zM928 457h1v1h-1zM22 535h1v1h-1zM611 521h1v1h-1zM791 488h1v1h-1zM635 506h1v1h-1zM995 403h1v1h-1zM322 540h1v1h-1zM691 486h1v1h-1zM860 444h1v1h-1zM1337 251h1v2h-1zM448 499h1v1h-1zM1106 356h1v2h-1zM1052 385h1v1h-1zM1469 176h1v4h-1zM357 497h1v1h-1zM1492 162h1v2h-1zM118 480h1v4h-1zM284 549h1v1h-1zM861 444h1v1h-1zM1237 286h1v1h-1zM940 444h1v2h-1zM726 485h1v1h-1zM45 532h1v1h-1zM917 461h1v1h-1zM983 406h1v1h-1zM1264 276h1v1h-1zM176 463h1v1h-1zM1102 363h1v2h-1zM771 492h1v1h-1zM1233 288h1v1h-1zM145 475h1v1h-1zM935 451h1v1h-1zM40 538h1v2h-1zM798 481h1v2h-1zM494 479h1v1h-1zM641 498h1v2h-1zM539 487h1v1h-1zM75 532h1v1h-1zM1345 242h1v1h-1zM577 513h1v1h-1zM1472 164h1v4h-1zM963 405h1v1h-1zM67 533h1v1h-1zM710 490h1v1h-1zM569 514h1v1h-1zM306 549h1v1h-1zM1340 248h1v1h-1zM1070 387h1v1h-1zM164 465h1v1h-1zM245 538h1v2h-1zM614 522h1v1h-1zM376 501h1v1h-1zM1459 203h1v2h-1zM160 467h1v1h-1zM1484 148h1v1h-1zM744 487h1v1h-1zM93 526h1v1h-1zM833 452h1v1h-1zM337 514h1v2h-1zM352 493h1v1h-1zM1293 293h1v1h-1zM89 528h1v1h-1zM1090 379h1v2h-1zM1197 325h1v1h-1zM208 484h1v2h-1zM287 549h1v1h-1zM1498 172h1v2h-1zM353 494h1v1h-1zM1455 211h1v2h-1zM110 506h1v2h-1zM1467 184h1v3h-1zM209 486h1v1h-1zM920 461h1v1h-1zM190 470h1v3h-1zM271 546h1v1h-1zM1405 245h1v2h-1zM1347 241h1v1h-1zM1036 385h1v1h-1zM1101 365h1v2h-1zM762 490h1v1h-1zM572 515h1v1h-1zM892 456h1v1h-1zM817 462h1v1h-1zM1032 387h1v1h-1zM1073 388h1v1h-1zM1382 240h1v1h-1zM1001 399h1v1h-1zM967 406h1v1h-1zM1182 331h1v1h-1zM1471 168h1v4h-1zM661 479h1v1h-1zM1097 371h1v2h-1zM714 491h1v1h-1zM1487 149h1v2h-1zM1074 388h1v1h-1zM1243 282h1v1h-1zM1431 253h1v1h-1zM878 449h1v1h-1zM59 532h1v1h-1zM1490 157h1v3h-1zM785 492h1v1h-1zM1491 160h1v2h-1zM1494 165h1v2h-1zM854 442h1v1h-1zM336 516h1v2h-1zM196 478h1v1h-1zM1419 256h1v1h-1zM1466 187h1v2h-1zM1411 252h1v1h-1zM1316 280h1v1h-1zM1134 352h1v1h-1zM1454 213h1v2h-1zM687 486h1v1h-1zM679 482h1v1h-1zM1412 253h1v1h-1zM1284 296h1v1h-1zM80 531h1v1h-1zM1350 241h1v1h-1zM1084 387h1v1h-1zM332 523h1v2h-1zM197 478h1v1h-1zM116 488h1v4h-1zM1034 386h1v1h-1zM470 493h1v1h-1zM663 479h1v1h-1zM1184 330h1v1h-1zM1228 293h1v1h-1zM716 490h1v1h-1zM1380 241h1v1h-1zM896 457h1v1h-1zM542 490h1v1h-1zM328 530h1v2h-1zM881 450h1v1h-1zM19 534h1v1h-1zM1065 387h1v1h-1zM609 521h1v1h-1zM1300 289h1v1h-1zM515 477h1v1h-1zM927 458h1v1h-1zM154 471h1v1h-1zM602 518h1v1h-1zM689 486h1v1h-1zM480 492h1v1h-1zM1361 241h1v1h-1zM446 499h1v1h-1zM827 456h1v1h-1zM858 443h1v1h-1zM594 513h1v1h-1zM1019 397h1v1h-1zM1403 243h1v1h-1zM1422 256h1v1h-1zM1215 308h1v1h-1zM690 486h1v1h-1zM851 440h1v1h-1zM200 479h1v1h-1zM192 475h1v1h-1zM981 406h1v1h-1zM496 477h1v1h-1zM1272 288h1v2h-1zM343 500h1v2h-1zM331 525h1v1h-1zM1273 290h1v1h-1zM115 492h1v3h-1zM228 518h1v1h-1zM218 504h1v2h-1zM1254 276h1v1h-1zM1118 352h1v1h-1zM566 513h1v1h-1zM262 547h1v1h-1zM537 486h1v1h-1zM487 485h1v1h-1zM1462 197h1v2h-1zM559 510h1v1h-1zM1250 278h1v1h-1zM1068 387h1v1h-1zM327 532h1v1h-1zM944 435h1v3h-1zM548 500h1v1h-1zM708 489h1v1h-1zM560 511h1v1h-1zM929 457h1v1h-1zM15 531h1v1h-1zM457 498h1v1h-1zM612 521h1v1h-1zM742 487h1v1h-1zM365 500h1v1h-1zM1364 241h1v1h-1zM636 505h1v1h-1zM323 539h1v1h-1zM1164 337h1v1h-1zM395 500h1v1h-1zM984 406h1v1h-1zM647 491h1v2h-1zM1265 276h1v1h-1zM776 493h1v1h-1zM1234 288h1v1h-1zM1191 326h1v1h-1zM1010 400h1v1h-1zM1129 351h1v1h-1zM1310 283h1v1h-1zM622 520h1v1h-1zM578 513h1v1h-1zM760 490h1v1h-1zM37 540h1v1h-1zM964 405h1v1h-1zM658 478h1v1h-1zM623 520h1v1h-1zM965 406h1v1h-1zM554 506h1v1h-1zM1071 387h1v1h-1zM761 490h1v1h-1zM544 492h1v2h-1zM1029 390h1v1h-1zM239 530h1v1h-1zM555 507h1v1h-1zM810 468h1v1h-1zM745 487h1v1h-1zM634 507h1v1h-1zM592 510h1v1h-1zM1294 293h1v1h-1zM1468 180h1v4h-1zM90 528h1v1h-1zM593 511h1v2h-1zM1416 255h1v1h-1zM398 500h1v1h-1zM684 485h1v1h-1zM44 533h1v1h-1zM916 462h1v1h-1zM1086 385h1v1h-1zM677 482h1v1h-1zM1390 238h1v1h-1zM1417 255h1v1h-1zM1282 296h1v1h-1zM78 531h1v1h-1zM1348 241h1v1h-1zM144 476h1v1h-1zM216 500h1v2h-1zM1133 352h1v1h-1zM763 490h1v1h-1zM947 425h1v3h-1zM220 507h1v2h-1zM841 445h1v2h-1zM1378 241h1v1h-1zM894 457h1v1h-1zM1033 386h1v1h-1zM662 479h1v1h-1zM550 503h1v1h-1zM606 520h1v1h-1zM1379 241h1v1h-1zM409 500h1v1h-1zM879 449h1v1h-1zM1320 277h1v1h-1zM736 485h1v1h-1zM607 520h1v1h-1zM855 442h1v1h-1zM109 508h1v3h-1zM410 500h1v1h-1zM1442 237h1v2h-1zM1476 151h1v1h-1zM1420 256h1v1h-1zM1135 352h1v1h-1zM782 493h1v1h-1zM688 486h1v1h-1zM1401 242h1v1h-1zM1285 296h1v1h-1zM440 500h1v1h-1zM1267 277h1v2h-1zM1438 244h1v2h-1zM664 479h1v1h-1zM466 494h1v1h-1zM1004 398h1v1h-1zM1154 341h1v2h-1zM1209 314h1v1h-1zM755 489h1v1h-1zM378 502h1v1h-1zM1096 373h1v1h-1zM705 488h1v1h-1zM241 533h1v1h-1zM20 534h1v1h-1zM412 500h1v1h-1zM1204 320h1v1h-1zM1324 273h1v1h-1zM557 509h1v1h-1zM97 524h1v1h-1zM1220 301h1v1h-1zM508 473h1v1h-1zM1169 335h1v1h-1zM155 471h1v1h-1zM355 496h1v1h-1zM1146 351h1v1h-1zM1362 241h1v1h-1zM740 486h1v1h-1zM289 550h1v1h-1zM442 500h1v1h-1zM481 491h1v1h-1zM1407 248h1v1h-1zM108 511h1v2h-1zM348 492h1v1h-1zM1363 241h1v1h-1zM1475 152h1v3h-1zM393 500h1v1h-1zM847 441h1v1h-1zM316 545h1v1h-1zM1047 386h1v1h-1zM1216 306h1v2h-1zM911 462h1v1h-1zM951 417h1v2h-1zM1016 398h1v1h-1zM1189 326h1v1h-1zM1263 275h1v1h-1zM394 500h1v1h-1zM312 547h1v1h-1zM104 518h1v2h-1zM1158 338h1v1h-1zM721 486h1v1h-1zM344 498h1v2h-1zM1207 316h1v1h-1zM1227 294h1v1h-1zM1119 352h1v1h-1zM263 547h1v1h-1zM381 502h1v1h-1zM1450 222h1v2h-1zM233 524h1v2h-1zM1251 278h1v1h-1zM1069 387h1v1h-1zM759 490h1v1h-1zM1115 354h1v1h-1zM792 487h1v1h-1zM300 550h1v1h-1zM1470 172h1v4h-1zM709 489h1v1h-1zM552 505h1v1h-1zM61 533h1v1h-1zM996 402h1v1h-1zM127 478h1v1h-1zM957 410h1v1h-1zM366 500h1v1h-1zM553 506h1v1h-1zM1365 241h1v1h-1zM992 404h1v1h-1zM731 485h1v1h-1zM590 509h1v1h-1zM46 531h1v1h-1zM1049 385h1v1h-1zM954 413h1v1h-1zM396 500h1v1h-1zM1214 309h1v1h-1zM804 474h1v1h-1zM1414 254h1v1h-1zM914 462h1v1h-1zM281 549h1v1h-1zM980 407h1v1h-1zM1269 281h1v3h-1zM495 478h1v1h-1zM682 484h1v1h-1zM211 489h1v2h-1zM1192 326h1v1h-1zM1130 351h1v1h-1zM142 476h1v1h-1zM1311 283h1v1h-1zM173 463h1v1h-1zM265 546h1v1h-1zM950 419h1v2h-1zM1280 295h1v1h-1zM1231 290h1v1h-1zM38 540h1v1h-1zM1307 285h1v1h-1zM77 531h1v1h-1zM492 481h1v1h-1zM143 476h1v1h-1zM659 478h1v1h-1zM1449 224h1v2h-1zM891 455h1v1h-1zM1461 199h1v2h-1zM130 479h1v1h-1zM303 550h1v1h-1zM961 407h1v1h-1zM161 466h1v1h-1zM64 533h1v1h-1zM834 451h1v1h-1zM1377 241h1v1h-1zM811 467h1v1h-1zM877 449h1v1h-1zM131 479h1v1h-1zM1445 232h1v2h-1zM604 519h1v1h-1zM596 515h1v1h-1zM91 528h1v1h-1zM734 485h1v1h-1zM1290 294h1v1h-1zM597 516h1v1h-1zM503 472h1v1h-1zM802 476h1v1h-1zM853 441h1v1h-1zM202 480h1v1h-1zM685 485h1v1h-1zM1409 250h1v1h-1zM1334 255h1v2h-1zM1441 239h1v2h-1zM646 493h1v1h-1zM195 477h1v1h-1zM1391 238h1v1h-1zM1195 326h1v1h-1zM1410 251h1v1h-1zM79 531h1v1h-1zM1309 284h1v1h-1zM818 461h1v1h-1zM1387 240h1v1h-1zM1002 398h1v1h-1zM1330 263h1v2h-1zM540 488h1v1h-1zM532 484h1v1h-1zM1003 398h1v1h-1zM562 512h1v1h-1zM533 485h1v1h-1zM880 449h1v1h-1zM703 487h1v1h-1zM1428 254h1v1h-1zM737 485h1v1h-1zM411 500h1v1h-1zM584 508h1v1h-1zM1444 234h1v2h-1zM187 463h1v2h-1zM1241 283h1v1h-1zM361 499h1v1h-1zM1044 385h1v1h-1zM213 493h1v3h-1zM441 500h1v1h-1zM1333 257h1v2h-1zM1440 241h1v2h-1zM467 494h1v1h-1zM975 406h1v1h-1zM840 447h1v1h-1zM428 502h1v1h-1zM535 485h1v1h-1zM1329 265h1v2h-1zM1436 247h1v2h-1zM756 489h1v1h-1zM379 502h1v1h-1zM706 488h1v1h-1zM1301 288h1v1h-1zM1152 344h1v2h-1zM413 500h1v1h-1zM125 478h1v1h-1zM707 488h1v1h-1zM1325 271h1v2h-1zM1201 322h1v1h-1zM1147 351h1v1h-1zM1221 300h1v1h-1zM587 508h1v1h-1zM1170 334h1v1h-1zM290 550h1v1h-1zM443 500h1v1h-1zM650 484h1v2h-1zM482 491h1v1h-1zM1495 167h1v1h-1zM686 486h1v1h-1zM349 492h1v1h-1zM152 472h1v1h-1zM478 493h1v1h-1zM848 441h1v1h-1zM444 500h1v1h-1zM1048 386h1v1h-1zM825 457h1v1h-1zM672 480h1v1h-1zM1190 326h1v1h-1zM1277 294h1v1h-1zM313 547h1v1h-1zM1159 338h1v1h-1zM431 502h1v1h-1zM656 477h1v1h-1zM382 502h1v1h-1zM1208 315h1v1h-1zM1328 267h1v2h-1zM70 532h1v1h-1zM237 529h1v1h-1zM889 455h1v1h-1zM458 497h1v1h-1zM301 550h1v1h-1zM485 487h1v2h-1zM62 533h1v1h-1zM1116 353h1v1h-1zM128 478h1v1h-1zM1323 274h1v1h-1zM926 458h1v1h-1zM1174 331h1v1h-1zM454 499h1v1h-1zM789 489h1v1h-1zM371 501h1v1h-1zM129 479h1v1h-1zM698 487h1v1h-1zM993 404h1v1h-1zM591 509h1v1h-1zM943 438h1v2h-1zM1050 385h1v1h-1zM1235 287h1v1h-1zM1415 254h1v1h-1zM915 462h1v1h-1zM282 549h1v1h-1zM85 529h1v1h-1zM683 484h1v1h-1zM1131 351h1v1h-1zM579 512h1v1h-1zM1188 327h1v1h-1zM939 446h1v1h-1zM174 463h1v1h-1zM193 476h1v1h-1zM266 546h1v1h-1zM720 487h1v1h-1zM624 519h1v1h-1zM934 452h1v1h-1zM73 532h1v1h-1zM757 490h1v1h-1zM1308 284h1v1h-1zM797 483h1v1h-1zM884 451h1v1h-1zM620 521h1v1h-1zM304 550h1v1h-1zM530 484h1v1h-1zM162 466h1v1h-1zM65 533h1v1h-1zM962 406h1v1h-1zM835 451h1v1h-1zM751 488h1v1h-1zM374 501h1v1h-1zM112 500h1v3h-1zM701 487h1v1h-1zM1339 249h1v1h-1zM605 519h1v1h-1zM831 453h1v1h-1zM184 462h1v1h-1zM735 485h1v1h-1zM358 498h1v1h-1zM1446 230h1v2h-1zM1291 294h1v1h-1zM87 529h1v1h-1zM1496 168h1v2h-1zM404 501h1v1h-1zM803 475h1v1h-1zM185 462h1v1h-1zM285 549h1v1h-1zM627 515h1v1h-1zM1292 294h1v1h-1zM42 535h1v2h-1zM172 464h1v1h-1zM769 491h1v1h-1zM949 421h1v2h-1zM1266 277h1v1h-1zM842 444h1v1h-1zM973 406h1v1h-1zM1388 239h1v1h-1zM426 502h1v1h-1zM76 532h1v1h-1zM1346 242h1v1h-1zM1179 330h1v1h-1zM639 502h1v1h-1zM933 453h1v2h-1zM711 490h1v1h-1zM534 485h1v1h-1zM1485 149h1v1h-1zM704 487h1v1h-1zM1025 393h1v1h-1zM56 531h1v1h-1zM96 524h1v1h-1zM111 503h1v3h-1zM339 509h1v3h-1zM57 532h1v1h-1zM123 477h1v1h-1zM585 508h1v1h-1zM1242 283h1v1h-1zM502 473h1v1h-1zM1457 207h1v2h-1zM354 495h1v1h-1zM807 471h1v1h-1zM1425 255h1v1h-1zM347 492h1v2h-1zM1238 285h1v1h-1zM586 508h1v1h-1zM779 494h1v1h-1zM1141 352h1v1h-1zM499 476h1v1h-1zM1453 215h1v2h-1zM1082 388h1v1h-1zM1015 398h1v1h-1zM1465 189h1v3h-1zM976 406h1v1h-1zM388 501h1v1h-1zM429 502h1v1h-1zM1275 293h1v1h-1zM1083 388h1v1h-1zM221 509h1v1h-1zM380 502h1v1h-1zM814 465h1v1h-1zM231 522h1v1h-1zM1183 331h1v1h-1zM886 453h1v1h-1zM98 523h1v1h-1zM655 477h1v1h-1zM887 454h1v1h-1zM1094 375h1v1h-1zM1063 387h1v1h-1zM60 532h1v1h-1zM1202 322h1v1h-1zM338 512h1v2h-1zM588 508h1v1h-1zM1110 355h1v1h-1zM599 517h1v1h-1zM1143 352h1v1h-1zM1171 334h1v1h-1zM1089 381h1v1h-1zM1198 324h1v1h-1zM1359 241h1v1h-1zM1167 336h1v1h-1zM1456 209h1v2h-1zM279 548h1v1h-1zM479 493h1v1h-1zM1017 397h1v1h-1zM680 483h1v1h-1zM334 520h1v2h-1zM346 494h1v2h-1zM105 517h1v1h-1zM1259 275h1v1h-1zM849 440h1v1h-1zM149 474h1v1h-1zM390 500h1v1h-1zM1013 399h1v1h-1zM1268 279h1v2h-1zM822 459h1v1h-1zM1124 352h1v1h-1zM432 502h1v1h-1zM1452 217h1v2h-1zM330 526h1v2h-1zM543 491h1v1h-1zM71 532h1v1h-1zM1125 352h1v1h-1zM1435 249h1v1h-1zM238 529h1v1h-1zM1248 279h1v1h-1zM748 487h1v1h-1zM1151 346h1v1h-1zM882 450h1v1h-1zM242 534h1v2h-1zM455 499h1v1h-1zM528 483h1v1h-1zM1066 387h1v1h-1zM520 479h1v1h-1zM372 501h1v1h-1zM486 486h1v1h-1zM1200 323h1v1h-1zM513 476h1v1h-1zM923 460h1v1h-1zM989 405h1v1h-1zM955 412h1v1h-1zM595 514h1v1h-1zM182 461h1v1h-1zM356 497h1v1h-1zM1046 386h1v1h-1zM151 473h1v1h-1zM283 549h1v1h-1zM1262 275h1v1h-1zM86 529h1v1h-1zM824 458h1v1h-1zM1408 249h1v1h-1zM1232 289h1v1h-1zM1127 352h1v1h-1zM774 493h1v1h-1zM493 480h1v1h-1zM170 464h1v1h-1zM576 514h1v1h-1zM222 510h1v2h-1zM423 500h1v1h-1zM255 544h1v1h-1zM74 532h1v1h-1zM538 487h1v1h-1zM717 489h1v1h-1zM758 490h1v1h-1zM140 477h1v1h-1zM621 521h1v1h-1zM35 540h1v1h-1zM424 501h1v1h-1zM1177 330h1v1h-1zM531 484h1v1h-1zM1482 148h1v1h-1zM1373 241h1v1h-1zM873 449h1v1h-1zM752 488h1v1h-1zM375 501h1v1h-1zM159 468h1v1h-1zM702 487h1v1h-1zM788 490h1v1h-1zM54 531h1v1h-1zM874 449h1v1h-1zM88 529h1v1h-1zM121 477h1v1h-1zM832 452h1v1h-1zM942 440h1v2h-1zM633 508h1v1h-1zM501 474h1v1h-1zM1288 295h1v1h-1zM777 494h1v1h-1zM628 514h1v1h-1zM674 481h1v1h-1zM117 484h1v4h-1zM938 447h1v1h-1zM43 534h1v1h-1zM667 478h1v1h-1zM801 477h1v2h-1zM719 488h1v1h-1zM644 494h1v1h-1zM1389 239h1v1h-1zM1081 388h1v1h-1zM796 484h1v2h-1zM1180 330h1v1h-1zM1343 244h1v1h-1zM462 495h1v1h-1zM1000 399h1v1h-1zM946 428h1v3h-1zM1376 241h1v1h-1zM240 531h1v2h-1zM4 520h1v1h-1zM876 449h1v1h-1zM243 536h1v1h-1zM640 500h1v2h-1zM1486 149h1v1h-1zM930 456h1v1h-1zM1026 393h1v1h-1zM1489 154h1v3h-1zM244 537h1v1h-1zM1338 250h1v1h-1zM1061 387h1v1h-1zM407 500h1v1h-1zM58 532h1v1h-1zM124 477h1v1h-1zM1426 255h1v1h-1zM1357 241h1v1h-1zM1239 285h1v1h-1zM1103 361h1v2h-1zM780 494h1v1h-1zM1142 352h1v1h-1zM582 509h1v1h-1zM319 544h1v1h-1zM277 547h1v1h-1zM1257 275h1v1h-1zM1358 241h1v1h-1zM678 482h1v1h-1zM464 495h1v1h-1zM671 479h1v1h-1zM937 448h1v2h-1zM224 513h1v1h-1zM1258 275h1v1h-1zM225 514h1v2h-1zM235 527h1v1h-1zM795 486h1v1h-1zM815 464h1v1h-1zM250 543h1v1h-1zM1030 389h1v1h-1zM525 482h1v1h-1zM753 489h1v1h-1zM30 539h1v1h-1zM419 500h1v1h-1zM1064 387h1v1h-1zM1299 290h1v1h-1zM95 525h1v1h-1zM295 550h1v1h-1zM1095 374h1v1h-1zM1111 355h1v1h-1zM600 517h1v1h-1zM1144 352h1v1h-1zM49 530h1v1h-1zM1199 324h1v1h-1zM1360 241h1v1h-1zM1317 279h1v1h-1zM188 465h1v3h-1zM280 548h1v1h-1zM681 483h1v1h-1zM475 494h1v1h-1zM1260 275h1v1h-1zM391 500h1v1h-1zM1045 386h1v1h-1zM823 459h1v1h-1zM909 462h1v1h-1zM1156 339h1v1h-1zM902 459h1v1h-1zM260 546h1v1h-1zM421 500h1v1h-1zM1098 370h1v1h-1zM1126 352h1v1h-1zM169 464h1v1h-1zM33 540h1v1h-1zM261 547h1v1h-1zM25 536h1v1h-1zM536 486h1v1h-1zM1249 279h1v1h-1zM1206 317h1v1h-1zM654 478h1v1h-1zM246 540h1v1h-1zM1067 387h1v1h-1zM1113 354h1v1h-1zM521 479h1v1h-1zM298 550h1v1h-1zM1245 281h1v1h-1zM1488 151h1v3h-1zM1480 147h1v1h-1zM1297 291h1v1h-1zM456 498h1v1h-1zM990 405h1v1h-1zM1481 148h1v1h-1zM1372 241h1v1h-1zM872 449h1v1h-1zM52 530h1v1h-1zM924 459h1v1h-1zM183 461h1v1h-1zM729 485h1v1h-1zM991 405h1v1h-1zM1218 303h1v2h-1zM1499 174h1v1h-1zM179 463h1v1h-1zM82 530h1v1h-1zM912 462h1v1h-1zM1128 352h1v1h-1zM978 407h1v1h-1zM1213 310h1v1h-1zM775 493h1v1h-1zM171 464h1v1h-1zM329 528h1v2h-1zM718 489h1v1h-1zM1464 192h1v2h-1zM141 477h1v1h-1zM36 540h1v1h-1zM264 547h1v1h-1zM425 501h1v1h-1zM1178 330h1v1h-1zM1224 297h1v1h-1zM657 478h1v1h-1zM1483 148h1v1h-1zM1374 241h1v1h-1zM1205 318h1v2h-1zM325 535h1v2h-1zM653 479h1v2h-1zM960 408h1v1h-1zM1375 241h1v1h-1zM405 500h1v1h-1zM875 449h1v1h-1zM732 485h1v1h-1zM321 541h1v2h-1zM649 486h1v3h-1zM1139 351h1v1h-1zM829 454h1v1h-1zM406 500h1v1h-1zM1105 358h1v1h-1zM274 546h1v1h-1zM1289 295h1v1h-1zM675 481h1v1h-1zM212 491h1v2h-1zM1039 385h1v1h-1zM668 478h1v1h-1zM575 515h1v1h-1zM1385 240h1v1h-1zM139 478h1v1h-1zM39 540h1v1h-1zM463 495h1v1h-1zM750 488h1v1h-1zM931 456h1v1h-1zM158 469h1v1h-1zM997 401h1v1h-1zM9 526h1v1h-1zM248 542h1v1h-1zM408 500h1v1h-1zM324 537h1v2h-1zM808 470h1v1h-1zM1023 395h1v1h-1zM1493 164h1v1h-1zM120 478h1v1h-1zM1427 255h1v1h-1zM632 509h1v1h-1zM598 516h1v1h-1zM1497 170h1v2h-1zM500 475h1v1h-1zM438 500h1v1h-1zM648 489h1v2h-1zM1104 359h1v2h-1zM189 468h1v2h-1zM1042 385h1v1h-1zM389 500h1v1h-1zM800 479h1v1h-1zM1270 284h1v2h-1zM1079 388h1v1h-1zM465 494h1v1h-1zM907 461h1v1h-1zM1100 367h1v2h-1zM385 501h1v1h-1zM258 546h1v1h-1zM541 489h1v1h-1zM229 519h1v2h-1zM839 448h1v1h-1zM1342 245h1v1h-1zM461 496h1v1h-1zM999 400h1v1h-1zM526 482h1v1h-1zM754 489h1v1h-1zM545 494h1v2h-1zM518 478h1v1h-1zM377 502h1v1h-1zM23 535h1v1h-1zM420 500h1v1h-1zM296 550h1v1h-1zM1429 254h1v1h-1zM519 478h1v1h-1zM449 499h1v1h-1zM92 527h1v1h-1zM1168 335h1v1h-1zM50 530h1v1h-1zM1145 351h1v1h-1zM1318 279h1v1h-1zM727 485h1v1h-1zM1399 240h1v1h-1zM150 473h1v1h-1zM476 494h1v1h-1zM335 518h1v2h-1zM918 461h1v1h-1zM1014 398h1v1h-1zM1314 281h1v1h-1zM1261 275h1v1h-1zM392 500h1v1h-1zM772 492h1v1h-1zM846 441h1v1h-1zM1088 382h1v2h-1zM146 475h1v1h-1zM910 462h1v1h-1zM773 493h1v1h-1zM819 460h1v1h-1zM1157 339h1v1h-1zM422 500h1v1h-1zM34 540h1v1h-1zM307 549h1v1h-1zM1099 369h1v1h-1zM1433 251h1v1h-1zM1114 354h1v1h-1zM299 550h1v1h-1zM1298 291h1v1h-1zM94 526h1v1h-1zM1149 348h1v2h-1zM945 431h1v4h-1zM11 528h1v1h-1zM126 478h1v1h-1zM1246 280h1v1h-1zM452 499h1v1h-1zM369 501h1v1h-1zM1477 149h1v2h-1zM1322 275h1v1h-1zM925 459h1v1h-1zM288 549h1v1h-1zM730 485h1v1h-1zM1394 236h1v1h-1zM987 406h1v1h-1zM272 546h1v1h-1zM83 530h1v1h-1zM821 459h1v1h-1zM1439 243h1v1h-1zM913 462h1v1h-1zM979 407h1v1h-1zM1186 328h1v1h-1zM1271 286h1v2h-1zM673 480h1v1h-1zM1155 340h1v1h-1zM273 546h1v1h-1zM342 502h1v2h-1zM137 478h1v1h-1zM1306 285h1v1h-1zM968 406h1v1h-1zM618 522h1v1h-1zM547 498h1v2h-1zM1225 296h1v1h-1zM302 550h1v1h-1zM3 519h1v1h-1zM619 522h1v1h-1zM749 488h1v1h-1zM790 489h1v1h-1zM699 487h1v1h-1zM1148 350h1v1h-1zM157 469h1v1h-1zM786 491h1v1h-1zM733 485h1v1h-1zM205 482h1v1h-1zM830 454h1v1h-1zM1140 351h1v1h-1zM1217 305h1v1h-1zM402 501h1v1h-1zM275 546h1v1h-1zM952 416h1v1h-1zM676 481h1v1h-1zM318 544h1v1h-1zM276 547h1v1h-1zM645 493h1v1h-1zM1040 385h1v1h-1zM345 496h1v2h-1zM1212 311h1v1h-1zM471 493h1v1h-1zM626 516h1v1h-1zM437 500h1v1h-1zM904 460h1v1h-1zM219 506h1v1h-1zM1077 388h1v1h-1zM1386 240h1v1h-1zM948 423h1v2h-1zM1451 219h1v3h-1zM1344 243h1v1h-1zM1463 194h1v3h-1zM642 496h1v2h-1zM223 512h1v1h-1zM1304 286h1v1h-1zM1229 292h1v1h-1zM341 504h1v3h-1zM28 538h1v1h-1zM256 545h1v1h-1zM794 486h1v1h-1zM490 483h1v1h-1zM523 480h1v1h-1zM998 401h1v1h-1zM29 539h1v1h-1zM21 535h1v1h-1zM524 481h1v1h-1zM610 521h1v1h-1zM638 503h1v1h-1zM516 477h1v1h-1zM959 409h1v1h-1zM517 478h1v1h-1zM509 474h1v1h-1zM447 499h1v1h-1zM1058 387h1v1h-1zM1024 394h1v1h-1zM1240 284h1v1h-1zM859 443h1v1h-1zM1423 256h1v1h-1zM583 508h1v1h-1zM320 543h1v1h-1zM186 463h1v1h-1zM828 455h1v1h-1zM439 500h1v1h-1zM1020 396h1v1h-1zM1236 286h1v1h-1zM1354 241h1v1h-1zM982 406h1v1h-1zM1043 385h1v1h-1zM1332 259h1v2h-1zM497 477h1v1h-1zM580 511h1v1h-1zM215 498h1v2h-1zM435 501h1v1h-1zM1080 388h1v1h-1zM1008 399h1v1h-1zM625 517h1v2h-1zM908 461h1v1h-1zM974 406h1v1h-1zM386 501h1v1h-1zM259 546h1v1h-1zM427 502h1v1h-1zM816 463h1v1h-1zM1031 388h1v1h-1zM568 514h1v1h-1zM305 549h1v1h-1zM163 465h1v1h-1zM1120 352h1v1h-1zM297 550h1v1h-1zM5 521h1v2h-1zM743 487h1v1h-1zM693 486h1v1h-1zM450 499h1v1h-1zM1093 376h1v1h-1zM1108 355h1v1h-1zM1335 254h1v1h-1zM694 486h1v1h-1zM1165 337h1v1h-1zM919 461h1v1h-1zM985 406h1v1h-1zM1315 281h1v1h-1zM477 493h1v1h-1zM670 479h1v1h-1zM1011 400h1v1h-1zM977 407h1v1h-1zM1331 261h1v2h-1zM843 443h1v1h-1zM1122 352h1v1h-1zM165 464h1v1h-1zM308 549h1v1h-1zM838 449h1v1h-1zM1072 387h1v1h-1zM226 516h1v1h-1zM69 532h1v1h-1zM1434 250h1v1h-1zM746 487h1v1h-1zM617 522h1v1h-1zM696 486h1v1h-1zM1368 241h1v1h-1zM1247 280h1v1h-1zM453 499h1v1h-1zM1150 347h1v1h-1zM370 501h1v1h-1zM1295 293h1v1h-1zM697 487h1v1h-1zM921 460h1v1h-1zM180 462h1v1h-1zM1395 236h1v1h-1zM988 406h1v1h-1zM84 530h1v1h-1zM1474 155h1v4h-1zM1087 384h1v1h-1zM845 442h1v1h-1zM107 513h1v2h-1zM181 462h1v1h-1zM1349 241h1v1h-1zM764 490h1v1h-1zM1187 327h1v1h-1zM310 548h1v1h-1zM1211 312h1v1h-1zM168 464h1v1h-1zM1437 246h1v1h-1zM138 478h1v1h-1zM103 520h1v1h-1zM765 490h1v1h-1zM253 544h1v1h-1zM72 532h1v1h-1zM1153 343h1v1h-1zM1076 388h1v1h-1zM1432 252h1v1h-1zM1303 287h1v1h-1zM1175 330h1v1h-1zM529 484h1v1h-1zM1326 270h1v1h-1zM7 524h1v1h-1zM1371 241h1v1h-1zM26 537h1v1h-1zM18 533h1v1h-1zM871 449h1v1h-1zM514 477h1v1h-1zM373 501h1v1h-1zM8 525h1v1h-1zM700 487h1v1h-1zM651 482h1v2h-1zM1203 321h1v1h-1zM608 520h1v1h-1zM864 446h1v1h-1zM1321 276h1v1h-1zM1172 333h1v1h-1zM506 472h1v1h-1zM787 491h1v1h-1zM865 447h1v1h-1zM1136 352h1v1h-1zM403 501h1v1h-1zM783 493h1v1h-1zM333 522h1v1h-1zM1402 242h1v1h-1zM1286 296h1v1h-1zM1352 241h1v1h-1zM953 414h1v2h-1zM191 473h1v2h-1zM472 493h1v1h-1zM767 490h1v1h-1zM905 460h1v1h-1zM433 501h1v1h-1zM971 405h1v1h-1zM1287 296h1v1h-1zM119 478h1v2h-1zM1078 388h1v1h-1zM768 491h1v1h-1zM665 478h1v1h-1zM906 461h1v1h-1zM1253 276h1v1h-1zM1305 286h1v1h-1zM101 521h1v1h-1zM227 517h1v1h-1zM460 496h1v1h-1zM257 545h1v1h-1zM1448 226h1v2h-1zM558 509h1v1h-1zM14 530h1v1h-1zM55 531h1v1h-1zM510 474h1v1h-1zM1059 387h1v1h-1zM741 486h1v1h-1zM956 411h1v1h-1zM364 499h1v1h-1zM156 470h1v1h-1zM122 477h1v1h-1zM806 472h1v1h-1zM1424 256h1v1h-1zM692 486h1v1h-1zM1021 396h1v1h-1zM1397 238h1v1h-1zM630 511h1v1h-1zM1355 241h1v1h-1zM317 545h1v1h-1zM1398 239h1v1h-1zM778 494h1v1h-1zM498 476h1v1h-1zM436 501h1v1h-1zM1255 275h1v1h-1zM722 486h1v1h-1zM1009 399h1v1h-1zM669 479h1v1h-1zM387 501h1v1h-1zM793 487h1v1h-1zM416 500h1v1h-1zM813 465h1v1h-1zM113 498h1v2h-1zM1121 352h1v1h-1zM637 504h1v1h-1zM367 500h1v1h-1zM837 449h1v1h-1zM1447 228h1v2h-1zM1366 241h1v1h-1zM451 499h1v1h-1zM1062 387h1v1h-1zM293 550h1v1h-1zM10 527h1v1h-1zM866 448h1v1h-1zM1109 355h1v1h-1zM695 486h1v1h-1zM1367 241h1v1h-1zM397 500h1v1h-1zM867 449h1v1h-1zM47 530h1v1h-1zM986 406h1v1h-1zM1443 236h1v1h-1zM1166 336h1v1h-1zM278 548h1v1h-1zM1404 244h1v1h-1zM724 485h1v1h-1zM629 512h1v2h-1zM1193 326h1v1h-1zM473 494h1v1h-1zM1162 338h1v1h-1zM148 474h1v1h-1zM1281 295h1v1h-1zM1012 399h1v1h-1zM1312 282h1v1h-1zM1123 352h1v1h-1zM899 458h1v1h-1zM1274 291h1v2h-1zM166 464h1v1h-1zM660 478h1v1h-1zM251 544h1v1h-1zM230 521h1v1h-1zM893 456h1v1h-1zM885 452h1v1h-1zM31 540h1v1h-1zM546 496h1v2h-1zM747 487h1v1h-1zM1027 392h1v1h-1zM549 501h1v2h-1zM340 507h1v2h-1zM1478 148h1v1h-1zM132 479h1v1h-1zM1369 241h1v1h-1zM252 544h1v1h-1zM527 483h1v1h-1zM869 449h1v1h-1zM511 475h1v1h-1zM1458 205h1v2h-1zM1053 386h1v1h-1zM1092 377h1v1h-1zM1112 355h1v1h-1zM512 476h1v1h-1zM922 460h1v1h-1zM504 472h1v1h-1zM1296 292h1v1h-1zM400 500h1v1h-1zM870 449h1v1h-1zM862 445h1v1h-1zM203 480h1v1h-1zM1054 386h1v1h-1zM401 501h1v1h-1zM781 493h1v1h-1zM204 481h1v1h-1zM177 463h1v1h-1zM1400 241h1v1h-1zM1392 237h1v1h-1zM269 546h1v1h-1zM311 548h1v1h-1zM969 405h1v1h-1zM1351 241h1v1h-1zM903 459h1v1h-1zM766 490h1v1h-1zM570 515h1v1h-1zM134 479h1v1h-1zM254 544h1v1h-1zM970 405h1v1h-1zM68 533h1v1h-1zM563 512h1v1h-1zM100 522h1v1h-1zM1176 330h1v1h-1zM489 483h1v1h-1zM247 541h1v1h-1zM615 522h1v1h-1zM522 480h1v1h-1zM135 479h1v1h-1zM27 537h1v1h-1zM1223 298h1v1h-1zM1056 386h1v1h-1zM738 485h1v1h-1zM484 489h1v1h-1zM53 531h1v1h-1zM507 472h1v1h-1zM1057 387h1v1h-1zM362 499h1v1h-1zM1406 247h1v1h-1zM1137 351h1v1h-1zM1353 241h1v1h-1zM468 494h1v1h-1zM1006 398h1v1h-1zM643 495h1v1h-1zM434 501h1v1h-1zM972 405h1v1h-1zM1037 385h1v1h-1zM217 502h1v2h-1zM666 478h1v1h-1zM1210 313h1v1h-1zM1230 291h1v1h-1zM214 496h1v2h-1zM573 515h1v1h-1zM102 521h1v1h-1zM491 482h1v1h-1zM1383 240h1v1h-1zM1302 288h1v1h-1zM232 523h1v1h-1zM414 500h1v1h-1zM715 491h1v1h-1zM567 513h1v1h-1zM415 500h1v1h-1zM1060 387h1v1h-1zM291 550h1v1h-1zM589 509h1v1h-1zM1107 355h1v1h-1zM350 492h1v1h-1zM153 472h1v1h-1zM1356 241h1v1h-1zM581 510h1v1h-1zM826 457h1v1h-1zM198 479h1v1h-1zM1413 253h1v1h-1zM1278 294h1v1h-1zM1160 338h1v1h-1zM1256 275h1v1h-1zM936 450h1v1h-1zM41 537h1v1h-1zM314 546h1v1h-1zM897 458h1v1h-1zM1279 294h1v1h-1zM1252 277h1v1h-1zM383 502h1v1h-1zM799 480h1v1h-1zM890 455h1v1h-1zM459 497h1v1h-1zM417 500h1v1h-1zM63 533h1v1h-1zM1117 353h1v1h-1zM249 543h1v1h-1zM368 500h1v1h-1zM294 550h1v1h-1zM1336 253h1v1h-1zM603 518h1v1h-1zM805 473h1v1h-1zM1051 385h1v1h-1zM868 449h1v1h-1zM48 530h1v1h-1zM852 441h1v1h-1zM201 480h1v1h-1zM725 485h1v1h-1zM1194 326h1v1h-1zM474 494h1v1h-1zM844 442h1v1h-1zM1132 351h1v1h-1zM399 500h1v1h-1zM1163 338h1v1h-1zM175 463h1v1h-1zM194 476h1v1h-1zM267 546h1v1h-1zM770 492h1v1h-1zM1313 282h1v1h-1zM900 458h1v1h-1zM309 548h1v1h-1zM167 464h1v1h-1zM901 459h1v1h-1zM268 546h1v1h-1zM234 526h1v1h-1zM812 466h1v1h-1zM66 533h1v1h-1zM32 540h1v1h-1zM24 536h1v1h-1zM16 532h1v1h-1zM613 522h1v1h-1zM133 479h1v1h-1zM561 511h1v1h-1zM1370 241h1v1h-1zM836 450h1v1h-1zM17 533h1v1h-1zM1028 391h1v1h-1zM1244 281h1v1h-1zM1479 147h1v1h-1zM6 523h1v1h-1zM809 469h1v1h-1zM359 498h1v1h-1zM505 472h1v1h-1zM51 530h1v1h-1zM863 445h1v1h-1zM1055 386h1v1h-1zM1196 325h1v1h-1zM286 549h1v1h-1zM360 498h1v1h-1zM856 442h1v1h-1zM728 485h1v1h-1zM178 463h1v1h-1zM1393 237h1v1h-1zM270 546h1v1h-1zM81 530h1v1h-1zM147 475h1v1h-1zM1085 386h1v1h-1zM820 460h1v1h-1zM1035 385h1v1h-1zM1185 329h1v1h-1zM571 515h1v1h-1zM1005 398h1v1h-1zM1381 240h1v1h-1zM1327 269h1v1h-1zM712 490h1v1h-1zM564 512h1v1h-1zM966 406h1v1h-1zM1181 331h1v1h-1zM556 508h1v1h-1zM616 522h1v1h-1zM713 491h1v1h-1zM136 479h1v1h-1zM652 481h1v1h-1zM12 529h1v1h-1zM1173 332h1v1h-1zM739 485h1v1h-1zM1430 253h1v1h-1zM13 530h1v1h-1zM1091 378h1v1h-1zM363 499h1v1h-1zM784 492h1v1h-1zM1319 278h1v1h-1zM1138 351h1v1h-1zM1418 256h1v1h-1zM1396 237h1v1h-1zM1283 296h1v1h-1zM1007 398h1v1h-1zM1038 385h1v1h-1zM430 502h1v1h-1zM1276 293h1v1h-1zM469 493h1v1h-1zM574 515h1v1h-1zM1075 388h1v1h-1zM1384 240h1v1h-1zM895 457h1v1h-1zM551 504h1v1h-1zM99 523h1v1h-1zM488 484h1v1h-1zM236 528h1v1h-1zM888 454h1v1h-1zM1222 299h1v1h-1zM483 490h1v1h-1zM292 550h1v1h-1zM1022 395h1v1h-1zM631 510h1v1h-1zM601 518h1v1h-1zM958 410h1v1h-1zM1219 302h1v1h-1z"/>
<path class="c" fill="#f00" d="M3 110h1506v1h-1506zM1411 234h1v1h-1zM1349 259h1v1h-1zM972 412h1v1h-1zM1283 286h1v1h-1zM1261 295h1v1h-1zM1003 399h1v1h-1zM1195 322h1v1h-1zM1199 320h1v1h-1zM941 424h1v1h-1zM1292 282h1v1h-1zM1422 230h1v1h-1zM1230 307h1v1h-1zM1360 255h1v1h-1zM1457 215h1v1h-1zM968 414h1v1h-1zM1329 267h1v1h-1zM999 401h1v1h-1zM937 426h1v1h-1zM915 435h1v1h-1zM1226 309h1v1h-1zM1494 200h1v1h-1zM946 422h1v1h-1zM1138 345h1v1h-1zM1076 370h1v1h-1zM1014 395h1v1h-1zM1365 253h1v1h-1zM952 420h1v1h-1zM1303 278h1v1h-1zM1045 382h1v1h-1zM1237 305h1v1h-1zM983 407h1v1h-1zM1175 330h1v1h-1zM1334 265h1v1h-1zM1272 290h1v1h-1zM1464 213h1v1h-1zM1210 315h1v1h-1zM1402 238h1v1h-1zM1499 198h1v1h-1zM1060 376h1v1h-1zM1371 250h1v1h-1zM953 420h1v1h-1zM891 445h1v1h-1zM1180 328h1v1h-1zM1448 219h1v1h-1zM1118 353h1v1h-1zM1056 378h1v1h-1zM994 403h1v1h-1zM1345 261h1v1h-1zM1087 365h1v1h-1zM1279 288h1v1h-1zM906 439h1v1h-1zM1025 390h1v1h-1zM1217 313h1v1h-1zM1314 273h1v1h-1zM1506 196h1v1h-1zM1252 298h1v1h-1zM1444 221h1v1h-1zM1164 334h1v1h-1zM1475 208h1v1h-1zM1102 359h1v1h-1zM1413 233h1v1h-1zM1453 217h1v1h-1zM1391 242h1v1h-1zM1325 269h1v1h-1zM995 403h1v1h-1zM933 428h1v1h-1zM871 453h1v1h-1zM1490 202h1v1h-1zM1160 336h1v1h-1zM1098 361h1v1h-1zM880 449h1v1h-1zM1191 323h1v1h-1zM1387 244h1v1h-1zM1129 348h1v1h-1zM1321 271h1v1h-1zM948 422h1v1h-1zM1259 296h1v1h-1zM1041 384h1v1h-1zM979 409h1v1h-1zM917 434h1v1h-1zM1268 292h1v1h-1zM1206 317h1v1h-1zM1144 342h1v1h-1zM1495 200h1v1h-1zM1429 227h1v1h-1zM1082 367h1v1h-1zM1433 225h1v1h-1zM1367 252h1v1h-1zM1037 386h1v1h-1zM1305 277h1v1h-1zM975 411h1v1h-1zM922 432h1v1h-1zM1145 342h1v1h-1zM990 405h1v1h-1zM1083 367h1v1h-1zM1021 392h1v1h-1zM959 417h1v1h-1zM1310 275h1v1h-1zM1248 300h1v1h-1zM1186 325h1v1h-1zM1471 210h1v1h-1zM1124 350h1v1h-1zM1409 235h1v1h-1zM1036 386h1v1h-1zM1347 260h1v1h-1zM1067 373h1v1h-1zM1356 256h1v1h-1zM1294 281h1v1h-1zM1486 204h1v1h-1zM902 440h1v1h-1zM1032 388h1v1h-1zM1455 216h1v1h-1zM1125 350h1v1h-1zM1063 375h1v1h-1zM1001 400h1v1h-1zM1290 283h1v1h-1zM913 436h1v1h-1zM1010 396h1v1h-1zM1162 335h1v1h-1zM1202 319h1v1h-1zM1140 344h1v1h-1zM1451 218h1v1h-1zM882 448h1v1h-1zM1078 369h1v1h-1zM1171 331h1v1h-1zM1363 254h1v1h-1zM1109 356h1v1h-1zM1301 279h1v1h-1zM1398 239h1v1h-1zM1336 264h1v1h-1zM1466 212h1v1h-1zM944 423h1v1h-1zM878 450h1v1h-1zM1497 199h1v1h-1zM1167 333h1v1h-1zM1435 224h1v1h-1zM1017 394h1v1h-1zM955 419h1v1h-1zM893 444h1v1h-1zM1052 379h1v1h-1zM1244 302h1v1h-1zM1182 327h1v1h-1zM924 431h1v1h-1zM1116 354h1v1h-1zM1275 289h1v1h-1zM1213 314h1v1h-1zM1405 237h1v1h-1zM1151 339h1v1h-1zM1343 262h1v1h-1zM1089 364h1v1h-1zM1281 287h1v1h-1zM1440 222h1v1h-1zM1378 247h1v1h-1zM1312 274h1v1h-1zM1508 195h1v1h-1zM1228 308h1v1h-1zM898 442h1v1h-1zM1477 207h1v1h-1zM1121 352h1v1h-1zM1389 243h1v1h-1zM1059 377h1v1h-1zM997 402h1v1h-1zM935 427h1v1h-1zM1286 285h1v1h-1zM1028 389h1v1h-1zM1224 310h1v1h-1zM966 414h1v1h-1zM1158 337h1v1h-1zM904 439h1v1h-1zM1255 297h1v1h-1zM1447 220h1v1h-1zM1193 322h1v1h-1zM1385 245h1v1h-1zM1323 270h1v1h-1zM1482 205h1v1h-1zM1105 358h1v1h-1zM1043 383h1v1h-1zM1354 257h1v1h-1zM1332 266h1v1h-1zM1266 293h1v1h-1zM1270 291h1v1h-1zM874 452h1v1h-1zM1493 201h1v1h-1zM1431 226h1v1h-1zM909 437h1v1h-1zM1101 360h1v1h-1zM1039 385h1v1h-1zM1328 268h1v1h-1zM1070 372h1v1h-1zM1008 397h1v1h-1zM1200 320h1v1h-1zM986 406h1v1h-1zM1297 280h1v1h-1zM920 433h1v1h-1zM1489 203h1v1h-1zM1209 316h1v1h-1zM1147 341h1v1h-1zM1085 366h1v1h-1zM1436 224h1v1h-1zM1023 391h1v1h-1zM1374 249h1v1h-1zM1308 276h1v1h-1zM1246 301h1v1h-1zM916 435h1v1h-1zM1473 209h1v1h-1zM1143 343h1v1h-1zM1131 347h1v1h-1zM1420 230h1v1h-1zM1024 391h1v1h-1zM869 454h1v1h-1zM962 416h1v1h-1zM900 441h1v1h-1zM1251 299h1v1h-1zM1189 324h1v1h-1zM1127 349h1v1h-1zM1065 374h1v1h-1zM1416 232h1v1h-1zM1350 259h1v1h-1zM977 410h1v1h-1zM1288 284h1v1h-1zM1235 305h1v1h-1zM1427 228h1v1h-1zM1173 330h1v1h-1zM1462 213h1v1h-1zM1396 240h1v1h-1zM1066 374h1v1h-1zM911 437h1v1h-1zM1004 399h1v1h-1zM942 424h1v1h-1zM1231 307h1v1h-1zM1169 332h1v1h-1zM951 420h1v1h-1zM1262 294h1v1h-1zM1454 217h1v1h-1zM1458 215h1v1h-1zM889 445h1v1h-1zM1081 368h1v1h-1zM1392 242h1v1h-1zM1019 393h1v1h-1zM1370 251h1v1h-1zM1112 355h1v1h-1zM1050 380h1v1h-1zM1242 303h1v1h-1zM988 405h1v1h-1zM1339 263h1v1h-1zM1277 288h1v1h-1zM1469 211h1v1h-1zM1215 313h1v1h-1zM1407 236h1v1h-1zM885 447h1v1h-1zM1500 198h1v1h-1zM1504 196h1v1h-1zM1438 223h1v1h-1zM1108 357h1v1h-1zM1376 248h1v1h-1zM1046 382h1v1h-1zM958 418h1v1h-1zM896 443h1v1h-1zM993 403h1v1h-1zM1185 326h1v1h-1zM1496 200h1v1h-1zM931 428h1v1h-1zM1123 351h1v1h-1zM1216 313h1v1h-1zM1061 376h1v1h-1zM1412 234h1v1h-1zM1154 338h1v1h-1zM1092 363h1v1h-1zM1284 286h1v1h-1zM1030 388h1v1h-1zM1222 311h1v1h-1zM1381 246h1v1h-1zM1319 271h1v1h-1zM1257 296h1v1h-1zM1449 219h1v1h-1zM1480 206h1v1h-1zM1107 357h1v1h-1zM1418 231h1v1h-1zM1330 267h1v1h-1zM1000 401h1v1h-1zM938 426h1v1h-1zM876 451h1v1h-1zM1227 309h1v1h-1zM973 411h1v1h-1zM1165 334h1v1h-1zM907 438h1v1h-1zM1103 359h1v1h-1zM1196 321h1v1h-1zM1134 346h1v1h-1zM1326 269h1v1h-1zM1072 371h1v1h-1zM1264 294h1v1h-1zM1361 254h1v1h-1zM984 407h1v1h-1zM1233 306h1v1h-1zM1273 290h1v1h-1zM1211 315h1v1h-1zM1149 340h1v1h-1zM1434 225h1v1h-1zM1372 250h1v1h-1zM1042 384h1v1h-1zM980 409h1v1h-1zM918 434h1v1h-1zM1269 292h1v1h-1zM1207 317h1v1h-1zM949 421h1v1h-1zM927 430h1v1h-1zM1079 369h1v1h-1zM1238 304h1v1h-1zM1368 252h1v1h-1zM1150 340h1v1h-1zM1088 365h1v1h-1zM1026 390h1v1h-1zM964 415h1v1h-1zM1315 273h1v1h-1zM1253 298h1v1h-1zM1187 325h1v1h-1zM1346 260h1v1h-1zM1476 208h1v1h-1zM1414 233h1v1h-1zM1084 367h1v1h-1zM1352 258h1v1h-1zM1383 245h1v1h-1zM1299 279h1v1h-1zM1491 202h1v1h-1zM969 413h1v1h-1zM903 440h1v1h-1zM1192 323h1v1h-1zM1460 214h1v1h-1zM1130 348h1v1h-1zM1068 373h1v1h-1zM1006 398h1v1h-1zM1357 256h1v1h-1zM1099 360h1v1h-1zM1295 281h1v1h-1zM1229 308h1v1h-1zM1015 394h1v1h-1zM1456 216h1v1h-1zM887 446h1v1h-1zM1394 241h1v1h-1zM1176 329h1v1h-1zM1114 354h1v1h-1zM1306 277h1v1h-1zM1425 228h1v1h-1zM1465 212h1v1h-1zM1403 237h1v1h-1zM1337 264h1v1h-1zM1341 262h1v1h-1zM945 423h1v1h-1zM883 448h1v1h-1zM1502 197h1v1h-1zM1172 331h1v1h-1zM1110 356h1v1h-1zM1399 239h1v1h-1zM1022 392h1v1h-1zM1141 343h1v1h-1zM1333 266h1v1h-1zM960 417h1v1h-1zM1271 291h1v1h-1zM1311 275h1v1h-1zM1057 377h1v1h-1zM1249 300h1v1h-1zM991 404h1v1h-1zM929 429h1v1h-1zM1280 287h1v1h-1zM1218 312h1v1h-1zM1156 337h1v1h-1zM1348 260h1v1h-1zM1507 195h1v1h-1zM1094 362h1v1h-1zM1445 220h1v1h-1zM1379 247h1v1h-1zM1049 381h1v1h-1zM1317 272h1v1h-1zM987 406h1v1h-1zM1214 314h1v1h-1zM934 427h1v1h-1zM1126 350h1v1h-1zM872 452h1v1h-1zM1064 375h1v1h-1zM1002 400h1v1h-1zM1353 258h1v1h-1zM1095 362h1v1h-1zM940 425h1v1h-1zM1291 283h1v1h-1zM1033 387h1v1h-1zM971 412h1v1h-1zM1163 335h1v1h-1zM1322 270h1v1h-1zM1260 295h1v1h-1zM1198 320h1v1h-1zM1390 243h1v1h-1zM1136 345h1v1h-1zM1487 203h1v1h-1zM1421 230h1v1h-1zM1048 381h1v1h-1zM1359 255h1v1h-1zM879 450h1v1h-1zM1498 199h1v1h-1zM1168 333h1v1h-1zM914 435h1v1h-1zM1106 358h1v1h-1zM1044 383h1v1h-1zM1467 211h1v1h-1zM1137 345h1v1h-1zM982 408h1v1h-1zM1075 370h1v1h-1zM1013 395h1v1h-1zM1205 318h1v1h-1zM1302 278h1v1h-1zM925 431h1v1h-1zM1432 226h1v1h-1zM1152 339h1v1h-1zM1463 213h1v1h-1zM1090 364h1v1h-1zM1441 222h1v1h-1zM1183 326h1v1h-1zM1375 249h1v1h-1zM1313 274h1v1h-1zM1410 234h1v1h-1zM921 433h1v1h-1zM1478 207h1v1h-1zM956 418h1v1h-1zM1148 341h1v1h-1zM868 454h1v1h-1zM1179 328h1v1h-1zM1117 353h1v1h-1zM1029 389h1v1h-1zM967 414h1v1h-1zM905 439h1v1h-1zM1256 297h1v1h-1zM1194 322h1v1h-1zM1287 284h1v1h-1zM1479 207h1v1h-1zM1132 347h1v1h-1zM1483 205h1v1h-1zM1225 309h1v1h-1zM1417 232h1v1h-1zM1355 257h1v1h-1zM1293 282h1v1h-1zM1452 217h1v1h-1zM963 416h1v1h-1zM1240 303h1v1h-1zM910 437h1v1h-1zM1178 328h1v1h-1zM1133 347h1v1h-1zM1401 238h1v1h-1zM1071 372h1v1h-1zM1009 397h1v1h-1zM947 422h1v1h-1zM1298 280h1v1h-1zM1236 305h1v1h-1zM978 409h1v1h-1zM1170 332h1v1h-1zM1174 330h1v1h-1zM1267 292h1v1h-1zM1459 215h1v1h-1zM894 443h1v1h-1zM1086 366h1v1h-1zM1397 240h1v1h-1zM1335 265h1v1h-1zM1055 378h1v1h-1zM1247 301h1v1h-1zM1304 277h1v1h-1zM1344 261h1v1h-1zM1282 286h1v1h-1zM1474 209h1v1h-1zM886 447h1v1h-1zM1220 311h1v1h-1zM890 445h1v1h-1zM1505 196h1v1h-1zM1443 221h1v1h-1zM1113 355h1v1h-1zM1051 380h1v1h-1zM989 405h1v1h-1zM1340 263h1v1h-1zM1278 288h1v1h-1zM901 441h1v1h-1zM1020 392h1v1h-1zM1212 315h1v1h-1zM998 401h1v1h-1zM1190 324h1v1h-1zM932 428h1v1h-1zM1309 275h1v1h-1zM1501 198h1v1h-1zM936 426h1v1h-1zM1128 349h1v1h-1zM870 453h1v1h-1zM1221 311h1v1h-1zM1439 223h1v1h-1zM1159 336h1v1h-1zM1097 361h1v1h-1zM1289 284h1v1h-1zM1035 386h1v1h-1zM1386 244h1v1h-1zM1324 269h1v1h-1zM1258 296h1v1h-1zM928 430h1v1h-1zM1485 204h1v1h-1zM1155 338h1v1h-1zM1423 229h1v1h-1zM875 451h1v1h-1zM1005 399h1v1h-1zM943 424h1v1h-1zM881 449h1v1h-1zM1040 384h1v1h-1zM1232 307h1v1h-1zM974 411h1v1h-1zM912 436h1v1h-1zM1263 294h1v1h-1zM1201 319h1v1h-1zM1139 344h1v1h-1zM1077 369h1v1h-1zM1428 227h1v1h-1zM1366 252h1v1h-1zM1300 279h1v1h-1zM1377 248h1v1h-1zM1047 382h1v1h-1zM985 407h1v1h-1zM1408 235h1v1h-1zM923 432h1v1h-1zM1274 290h1v1h-1zM1016 394h1v1h-1zM954 419h1v1h-1zM892 444h1v1h-1zM1243 302h1v1h-1zM1181 327h1v1h-1zM1470 210h1v1h-1zM1093 363h1v1h-1zM1404 237h1v1h-1zM1031 388h1v1h-1zM1342 262h1v1h-1zM1382 246h1v1h-1zM1320 271h1v1h-1zM1062 375h1v1h-1zM1254 298h1v1h-1zM1351 258h1v1h-1zM1481 206h1v1h-1zM1419 231h1v1h-1zM897 442h1v1h-1zM1027 390h1v1h-1zM1450 218h1v1h-1zM1120 352h1v1h-1zM1388 243h1v1h-1zM1316 273h1v1h-1zM1058 377h1v1h-1zM970 413h1v1h-1zM908 438h1v1h-1zM1197 321h1v1h-1zM1135 346h1v1h-1zM1073 371h1v1h-1zM1424 229h1v1h-1zM1166 333h1v1h-1zM1358 256h1v1h-1zM1011 396h1v1h-1zM1362 254h1v1h-1zM1104 358h1v1h-1zM1296 281h1v1h-1zM1234 306h1v1h-1zM1393 241h1v1h-1zM1331 266h1v1h-1zM1461 214h1v1h-1zM1492 201h1v1h-1zM1119 352h1v1h-1zM1430 226h1v1h-1zM1074 371h1v1h-1zM1012 396h1v1h-1zM950 421h1v1h-1zM888 446h1v1h-1zM1239 304h1v1h-1zM1177 329h1v1h-1zM1115 354h1v1h-1zM1208 316h1v1h-1zM1400 239h1v1h-1zM1053 379h1v1h-1zM1146 341h1v1h-1zM1338 264h1v1h-1zM965 415h1v1h-1zM1276 289h1v1h-1zM1373 249h1v1h-1zM996 402h1v1h-1zM1503 197h1v1h-1zM1285 285h1v1h-1zM1223 310h1v1h-1zM1161 335h1v1h-1zM1446 220h1v1h-1zM1384 245h1v1h-1zM1054 379h1v1h-1zM992 404h1v1h-1zM930 429h1v1h-1zM1219 312h1v1h-1zM899 441h1v1h-1zM939 425h1v1h-1zM1091 364h1v1h-1zM1250 299h1v1h-1zM1442 222h1v1h-1zM877 450h1v1h-1zM1069 373h1v1h-1zM1188 324h1v1h-1zM1380 247h1v1h-1zM1007 398h1v1h-1zM1100 360h1v1h-1zM1038 385h1v1h-1zM976 410h1v1h-1zM1327 268h1v1h-1zM1265 293h1v1h-1zM1203 318h1v1h-1zM1395 241h1v1h-1zM873 452h1v1h-1zM1488 203h1v1h-1zM1426 228h1v1h-1zM1096 362h1v1h-1zM1364 253h1v1h-1zM1034 387h1v1h-1zM884 448h1v1h-1zM981 408h1v1h-1zM1484 205h1v1h-1zM919 433h1v1h-1zM1111 356h1v1h-1zM1204 318h1v1h-1zM1472 209h1v1h-1zM1142 343h1v1h-1zM1080 368h1v1h-1zM1018 393h1v1h-1zM1369 251h1v1h-1zM1307 276h1v1h-1zM1241 303h1v1h-1zM1245 301h1v1h-1zM1437 224h1v1h-1zM1157 337h1v1h-1zM1468 211h1v1h-1zM1406 236h1v1h-1zM1318 272h1v1h-1zM1415 232h1v1h-1zM926 431h1v1h-1zM957 418h1v1h-1zM961 416h1v1h-1zM1153 339h1v1h-1zM895 443h1v1h-1zM1184 326h1v1h-1zM1122 351h1v1h-1zM1060 296h1v1h-1zM1020 312h1v1h-1zM1498 122h1v1h-1zM998 321h1v1h-1zM1190 244h1v1h-1zM1128 269h1v1h-1zM1467 134h1v1h-1zM1275 211h1v1h-1zM1405 159h1v1h-1zM1097 281h1v1h-1zM1186 246h1v1h-1zM1312 196h1v1h-1zM1124 271h1v1h-1zM1316 194h1v1h-1zM1420 153h1v1h-1zM1155 258h1v1h-1zM1197 242h1v1h-1zM1102 279h1v1h-1zM1040 304h1v1h-1zM1166 254h1v1h-1zM1478 130h1v1h-1zM1009 316h1v1h-1zM1255 219h1v1h-1zM1447 142h1v1h-1zM1385 167h1v1h-1zM1162 256h1v1h-1zM1202 240h1v1h-1zM1354 179h1v1h-1zM1332 188h1v1h-1zM1462 136h1v1h-1zM1270 213h1v1h-1zM1171 252h1v1h-1zM1109 277h1v1h-1zM1301 200h1v1h-1zM1239 225h1v1h-1zM1431 148h1v1h-1zM1082 287h1v1h-1zM1016 314h1v1h-1zM1208 237h1v1h-1zM1458 138h1v1h-1zM1243 223h1v1h-1zM1297 202h1v1h-1zM1489 125h1v1h-1zM989 324h1v1h-1zM1093 283h1v1h-1zM1436 146h1v1h-1zM1062 295h1v1h-1zM1182 248h1v1h-1zM1374 171h1v1h-1zM1500 121h1v1h-1zM1504 119h1v1h-1zM1151 260h1v1h-1zM1343 183h1v1h-1zM1089 285h1v1h-1zM1281 208h1v1h-1zM1219 233h1v1h-1zM1120 272h1v1h-1zM1058 297h1v1h-1zM1496 123h1v1h-1zM1036 306h1v1h-1zM1188 245h1v1h-1zM1228 229h1v1h-1zM1505 119h1v1h-1zM1005 318h1v1h-1zM1443 144h1v1h-1zM1135 266h1v1h-1zM1073 291h1v1h-1zM1224 231h1v1h-1zM1416 154h1v1h-1zM1350 181h1v1h-1zM1042 303h1v1h-1zM1193 243h1v1h-1zM1323 191h1v1h-1zM1427 150h1v1h-1zM1074 291h1v1h-1zM1266 214h1v1h-1zM1078 289h1v1h-1zM1204 239h1v1h-1zM1396 162h1v1h-1zM1142 264h1v1h-1zM1047 301h1v1h-1zM1485 127h1v1h-1zM985 326h1v1h-1zM1423 152h1v1h-1zM1115 274h1v1h-1zM1262 216h1v1h-1zM1454 139h1v1h-1zM1392 164h1v1h-1zM1370 173h1v1h-1zM996 322h1v1h-1zM1401 160h1v1h-1zM1147 262h1v1h-1zM1339 185h1v1h-1zM1277 210h1v1h-1zM1469 133h1v1h-1zM1407 158h1v1h-1zM1116 274h1v1h-1zM1308 197h1v1h-1zM1054 299h1v1h-1zM1246 222h1v1h-1zM1184 247h1v1h-1zM1027 309h1v1h-1zM1131 268h1v1h-1zM1069 293h1v1h-1zM1408 158h1v1h-1zM1100 280h1v1h-1zM1412 156h1v1h-1zM1038 305h1v1h-1zM1476 131h1v1h-1zM1381 168h1v1h-1zM1319 193h1v1h-1zM1257 218h1v1h-1zM1449 141h1v1h-1zM1158 257h1v1h-1zM1096 282h1v1h-1zM1288 205h1v1h-1zM1034 307h1v1h-1zM1226 230h1v1h-1zM1043 303h1v1h-1zM1235 226h1v1h-1zM1481 129h1v1h-1zM981 328h1v1h-1zM1173 251h1v1h-1zM1111 276h1v1h-1zM1303 199h1v1h-1zM1012 315h1v1h-1zM1450 141h1v1h-1zM1388 166h1v1h-1zM1080 288h1v1h-1zM1169 253h1v1h-1zM1361 176h1v1h-1zM1465 135h1v1h-1zM1403 160h1v1h-1zM1434 147h1v1h-1zM1242 224h1v1h-1zM1372 172h1v1h-1zM1023 311h1v1h-1zM1215 234h1v1h-1zM1461 137h1v1h-1zM1153 259h1v1h-1zM1492 124h1v1h-1zM992 323h1v1h-1zM1430 149h1v1h-1zM1122 271h1v1h-1zM1368 174h1v1h-1zM1377 170h1v1h-1zM1003 319h1v1h-1zM1315 195h1v1h-1zM1507 118h1v1h-1zM1007 317h1v1h-1zM1445 143h1v1h-1zM1346 182h1v1h-1zM1284 207h1v1h-1zM1222 232h1v1h-1zM1414 155h1v1h-1zM1065 294h1v1h-1zM1191 244h1v1h-1zM1503 120h1v1h-1zM1129 269h1v1h-1zM1299 201h1v1h-1zM1138 265h1v1h-1zM1076 290h1v1h-1zM1268 213h1v1h-1zM1045 302h1v1h-1zM1357 178h1v1h-1zM983 327h1v1h-1zM1295 203h1v1h-1zM1487 126h1v1h-1zM1134 267h1v1h-1zM1326 190h1v1h-1zM1264 215h1v1h-1zM1456 138h1v1h-1zM1394 163h1v1h-1zM1233 227h1v1h-1zM1273 211h1v1h-1zM1211 236h1v1h-1zM1337 186h1v1h-1zM1149 261h1v1h-1zM1341 184h1v1h-1zM988 325h1v1h-1zM1180 248h1v1h-1zM1118 273h1v1h-1zM1056 298h1v1h-1zM1248 221h1v1h-1zM1087 285h1v1h-1zM1399 161h1v1h-1zM1025 310h1v1h-1zM1463 136h1v1h-1zM1280 209h1v1h-1zM1472 132h1v1h-1zM1410 157h1v1h-1zM1253 219h1v1h-1zM1187 246h1v1h-1zM1379 169h1v1h-1zM1317 194h1v1h-1zM1030 308h1v1h-1zM1468 134h1v1h-1zM1160 256h1v1h-1zM1098 281h1v1h-1zM999 320h1v1h-1zM1107 277h1v1h-1zM1041 304h1v1h-1zM1353 180h1v1h-1zM1483 128h1v1h-1zM1322 192h1v1h-1zM1014 314h1v1h-1zM1260 217h1v1h-1zM1452 140h1v1h-1zM1390 165h1v1h-1zM1099 281h1v1h-1zM1229 229h1v1h-1zM1421 152h1v1h-1zM1167 254h1v1h-1zM1359 177h1v1h-1zM1176 250h1v1h-1zM1114 275h1v1h-1zM1306 198h1v1h-1zM1244 223h1v1h-1zM1145 262h1v1h-1zM1083 287h1v1h-1zM1021 312h1v1h-1zM1213 235h1v1h-1zM1364 175h1v1h-1zM1302 200h1v1h-1zM1494 123h1v1h-1zM994 322h1v1h-1zM1432 148h1v1h-1zM1333 187h1v1h-1zM1079 289h1v1h-1zM1271 212h1v1h-1zM1249 221h1v1h-1zM1441 144h1v1h-1zM1375 171h1v1h-1zM1067 293h1v1h-1zM1218 233h1v1h-1zM1156 258h1v1h-1zM1348 181h1v1h-1zM1094 283h1v1h-1zM1286 206h1v1h-1zM1125 270h1v1h-1zM1063 295h1v1h-1zM1501 121h1v1h-1zM1001 320h1v1h-1zM1010 316h1v1h-1zM1448 142h1v1h-1zM1140 264h1v1h-1zM1287 206h1v1h-1zM1479 129h1v1h-1zM979 328h1v1h-1zM1417 154h1v1h-1zM1355 179h1v1h-1zM1006 318h1v1h-1zM1198 241h1v1h-1zM1136 266h1v1h-1zM1328 189h1v1h-1zM975 330h1v1h-1zM1413 156h1v1h-1zM1209 237h1v1h-1zM1052 299h1v1h-1zM1490 125h1v1h-1zM990 324h1v1h-1zM1428 150h1v1h-1zM1267 214h1v1h-1zM1459 137h1v1h-1zM1397 162h1v1h-1zM1335 187h1v1h-1zM1152 260h1v1h-1zM1304 199h1v1h-1zM1344 183h1v1h-1zM1282 208h1v1h-1zM1474 131h1v1h-1zM1183 247h1v1h-1zM1121 272h1v1h-1zM1313 195h1v1h-1zM1059 297h1v1h-1zM1251 220h1v1h-1zM1189 245h1v1h-1zM1028 309h1v1h-1zM1340 185h1v1h-1zM1032 307h1v1h-1zM1470 133h1v1h-1zM1309 197h1v1h-1zM1439 145h1v1h-1zM1105 278h1v1h-1zM1194 243h1v1h-1zM1386 166h1v1h-1zM1324 191h1v1h-1zM1163 255h1v1h-1zM1101 280h1v1h-1zM1293 203h1v1h-1zM1039 305h1v1h-1zM1231 228h1v1h-1zM1070 292h1v1h-1zM1008 317h1v1h-1zM1048 301h1v1h-1zM1200 240h1v1h-1zM1486 127h1v1h-1zM1240 224h1v1h-1zM1178 249h1v1h-1zM986 326h1v1h-1zM1017 313h1v1h-1zM1455 139h1v1h-1zM1393 164h1v1h-1zM1085 286h1v1h-1zM1236 226h1v1h-1zM1174 251h1v1h-1zM1366 174h1v1h-1zM1300 201h1v1h-1zM1205 238h1v1h-1zM1143 263h1v1h-1zM1247 222h1v1h-1zM1090 284h1v1h-1zM1216 234h1v1h-1zM1220 232h1v1h-1zM1154 259h1v1h-1zM1466 135h1v1h-1zM1305 199h1v1h-1zM1497 122h1v1h-1zM997 321h1v1h-1zM1435 147h1v1h-1zM1127 269h1v1h-1zM1373 172h1v1h-1zM1212 236h1v1h-1zM1404 159h1v1h-1zM1342 184h1v1h-1zM1382 168h1v1h-1zM1320 193h1v1h-1zM1159 257h1v1h-1zM1351 180h1v1h-1zM1289 205h1v1h-1zM1227 230h1v1h-1zM1419 153h1v1h-1zM1066 294h1v1h-1zM1258 217h1v1h-1zM1196 242h1v1h-1zM1508 118h1v1h-1zM1477 130h1v1h-1zM1081 288h1v1h-1zM1112 275h1v1h-1zM1424 151h1v1h-1zM1358 178h1v1h-1zM1050 300h1v1h-1zM1362 176h1v1h-1zM1488 126h1v1h-1zM1139 265h1v1h-1zM1331 188h1v1h-1zM1269 213h1v1h-1zM1207 238h1v1h-1zM1108 277h1v1h-1zM1046 302h1v1h-1zM1238 225h1v1h-1zM1055 298h1v1h-1zM1493 124h1v1h-1zM993 323h1v1h-1zM1185 246h1v1h-1zM1123 271h1v1h-1zM1024 310h1v1h-1zM1061 296h1v1h-1zM1400 161h1v1h-1zM1092 283h1v1h-1zM1181 248h1v1h-1zM1285 207h1v1h-1zM977 329h1v1h-1zM1415 155h1v1h-1zM1254 219h1v1h-1zM1446 142h1v1h-1zM1192 244h1v1h-1zM1384 167h1v1h-1zM1035 306h1v1h-1zM1473 132h1v1h-1zM1165 254h1v1h-1zM1103 279h1v1h-1zM1004 318h1v1h-1zM1250 221h1v1h-1zM1442 144h1v1h-1zM1380 169h1v1h-1zM1072 291h1v1h-1zM1389 165h1v1h-1zM1327 190h1v1h-1zM1019 312h1v1h-1zM1265 215h1v1h-1zM1457 138h1v1h-1zM1395 163h1v1h-1zM1104 279h1v1h-1zM1296 202h1v1h-1zM1234 227h1v1h-1zM1426 150h1v1h-1zM1172 252h1v1h-1zM1077 289h1v1h-1zM1141 264h1v1h-1zM1119 273h1v1h-1zM1311 196h1v1h-1zM1484 127h1v1h-1zM1150 260h1v1h-1zM1088 285h1v1h-1zM1026 310h1v1h-1zM1177 250h1v1h-1zM1369 173h1v1h-1zM995 322h1v1h-1zM1307 198h1v1h-1zM1499 121h1v1h-1zM1245 223h1v1h-1zM1437 146h1v1h-1zM1146 262h1v1h-1zM1338 185h1v1h-1zM1084 287h1v1h-1zM1276 210h1v1h-1zM1214 235h1v1h-1zM1406 158h1v1h-1zM1031 308h1v1h-1zM1223 231h1v1h-1zM1161 256h1v1h-1zM1291 204h1v1h-1zM1000 320h1v1h-1zM1438 146h1v1h-1zM1130 268h1v1h-1zM1068 293h1v1h-1zM1506 119h1v1h-1zM1411 156h1v1h-1zM1037 305h1v1h-1zM1349 181h1v1h-1zM1475 131h1v1h-1zM1015 314h1v1h-1zM1453 140h1v1h-1zM1292 204h1v1h-1zM984 326h1v1h-1zM1422 152h1v1h-1zM1360 177h1v1h-1zM1011 316h1v1h-1zM1203 239h1v1h-1zM1137 266h1v1h-1zM1329 189h1v1h-1zM1480 129h1v1h-1zM980 328h1v1h-1zM1418 154h1v1h-1zM1110 276h1v1h-1zM1365 175h1v1h-1zM1057 297h1v1h-1zM991 324h1v1h-1zM1495 123h1v1h-1zM1433 148h1v1h-1zM1334 187h1v1h-1zM1272 212h1v1h-1zM1464 135h1v1h-1zM1402 160h1v1h-1zM1049 301h1v1h-1zM1241 224h1v1h-1zM1053 299h1v1h-1zM1179 249h1v1h-1zM1371 172h1v1h-1zM1157 258h1v1h-1zM1126 270h1v1h-1zM1318 193h1v1h-1zM1064 295h1v1h-1zM1256 218h1v1h-1zM1095 282h1v1h-1zM1033 307h1v1h-1zM1225 230h1v1h-1zM1345 183h1v1h-1zM1471 133h1v1h-1zM1376 170h1v1h-1zM1314 195h1v1h-1zM1252 220h1v1h-1zM1444 143h1v1h-1zM1091 284h1v1h-1zM1283 207h1v1h-1zM1261 216h1v1h-1zM1199 241h1v1h-1zM1391 164h1v1h-1zM1325 191h1v1h-1zM1230 228h1v1h-1zM976 330h1v1h-1zM1168 253h1v1h-1zM1106 278h1v1h-1zM1298 201h1v1h-1zM1044 303h1v1h-1zM1383 168h1v1h-1zM1075 290h1v1h-1zM1387 166h1v1h-1zM1013 315h1v1h-1zM1491 125h1v1h-1zM1330 189h1v1h-1zM1022 311h1v1h-1zM1460 137h1v1h-1zM1398 162h1v1h-1zM1237 226h1v1h-1zM1429 149h1v1h-1zM1367 174h1v1h-1zM1018 313h1v1h-1zM1210 236h1v1h-1zM1148 261h1v1h-1zM1278 209h1v1h-1zM987 325h1v1h-1zM1425 151h1v1h-1zM1117 273h1v1h-1zM1029 309h1v1h-1zM1221 232h1v1h-1zM1310 197h1v1h-1zM1502 120h1v1h-1zM1002 319h1v1h-1zM1440 145h1v1h-1zM1132 267h1v1h-1zM1378 170h1v1h-1zM1279 209h1v1h-1zM1217 234h1v1h-1zM1409 157h1v1h-1zM1347 182h1v1h-1zM1164 255h1v1h-1zM1356 178h1v1h-1zM1294 203h1v1h-1zM1195 242h1v1h-1zM1232 228h1v1h-1zM1133 267h1v1h-1zM1071 292h1v1h-1zM1263 215h1v1h-1zM1201 240h1v1h-1zM1352 180h1v1h-1zM978 329h1v1h-1zM1170 252h1v1h-1zM1290 205h1v1h-1zM982 327h1v1h-1zM1482 128h1v1h-1zM1321 192h1v1h-1zM1086 286h1v1h-1zM1259 217h1v1h-1zM1451 140h1v1h-1zM1363 176h1v1h-1zM1206 238h1v1h-1zM1144 263h1v1h-1zM1336 186h1v1h-1zM1274 211h1v1h-1zM1175 250h1v1h-1zM1113 275h1v1h-1zM1051 300h1v1h-1z"/>
<path class="c" fill="#000" d="M3 494h1v9h-1zM2 494h3v9h-3zM7 494h1v9h-1zM6 494h3v9h-3zM11 498h1v5h-1zM10 498h3v3h-3zM15 498h1v18h-1zM14 499h3v9h-3zM19 496h1v16h-1zM18 500h3v10h-3zM23 496h1v9h-1zM22 496h3v7h-3zM27 493h1v24h-1zM26 498h3v19h-3zM31 514h1v24h-1zM30 514h3v12h-3zM35 512h1v22h-1zM34 516h3v12h-3zM39 510h1v22h-1zM38 514h3v3h-3zM43 474h1v45h-1zM42 474h3v45h-3zM47 459h1v22h-1zM46 463h3v14h-3zM51 458h1v18h-1zM50 462h3v5h-3zM55 456h1v11h-1zM54 462h3v3h-3zM59 457h1v12h-1zM58 462h3v5h-3zM63 454h1v23h-1zM62 460h3v7h-3zM67 462h1v7h-1zM66 464h3v3h-3zM71 462h1v5h-1zM70 464h3v3h-3zM75 464h1v5h-1zM74 464h3v5h-3zM79 470h1v9h-1zM78 470h3v3h-3zM83 466h1v7h-1zM82 466h3v6h-3zM87 457h1v12h-1zM86 457h3v8h-3zM91 447h1v19h-1zM90 451h3v10h-3zM95 449h1v12h-1zM94 452h3v7h-3zM99 453h1v8h-1zM98 453h3v8h-3zM103 457h1v14h-1zM102 457h3v12h-3zM107 441h1v28h-1zM106 443h3v23h-3zM111 435h1v19h-1zM110 441h3v9h-3zM115 449h1v15h-1zM114 451h3v11h-3zM119 442h1v27h-1zM118 445h3v19h-3zM123 441h1v15h-1zM122 443h3v9h-3zM127 437h1v16h-1zM126 440h3v13h-3zM131 433h1v13h-1zM130 435h3v5h-3zM135 435h1v7h-1zM134 436h3v6h-3zM139 437h1v13h-1zM138 443h3v5h-3zM143 449h1v3h-1zM142 449h3v1h-3zM147 449h1v7h-1zM146 451h3v4h-3zM151 447h1v7h-1zM150 449h3v3h-3zM155 443h1v6h-1zM154 445h3v3h-3zM159 437h1v11h-1zM158 439h3v9h-3zM163 439h1v7h-1zM162 440h3v4h-3zM167 439h1v7h-1zM166 443h3v3h-3zM171 443h1v11h-1zM170 443h3v3h-3zM175 437h1v11h-1zM174 439h3v8h-3zM179 437h1v19h-1zM178 437h3v19h-3zM183 449h1v13h-1zM182 457h3v5h-3zM187 455h1v24h-1zM186 461h3v1h-3zM191 459h1v40h-1zM190 461h3v30h-3zM195 472h1v25h-1zM194 475h3v16h-3zM199 465h1v14h-1zM198 470h3v9h-3zM203 461h1v14h-1zM202 463h3v10h-3zM207 465h1v12h-1zM206 465h3v12h-3zM211 474h1v19h-1zM210 474h3v19h-3zM215 497h1v16h-1zM214 508h3v1h-3zM219 499h1v12h-1zM218 506h3v5h-3zM223 504h1v5h-1zM222 504h3v5h-3zM227 504h1v3h-1zM226 506h3v1h-3zM231 504h1v5h-1zM230 507h3v2h-3zM235 508h1v4h-1zM234 510h3v2h-3zM239 510h1v11h-1zM238 510h3v1h-3zM243 512h1v18h-1zM242 512h3v18h-3zM247 521h1v10h-1zM246 527h3v4h-3zM251 518h1v14h-1zM250 527h3v3h-3zM255 522h1v7h-1zM254 522h3v7h-3zM259 520h1v9h-1zM258 520h3v9h-3zM263 518h1v13h-1zM262 524h3v3h-3zM267 514h1v17h-1zM266 514h3v5h-3zM271 494h1v25h-1zM270 494h3v23h-3zM275 465h1v30h-1zM274 469h3v23h-3zM279 453h1v18h-1zM278 461h3v10h-3zM283 451h1v11h-1zM282 455h3v5h-3zM287 455h1v17h-1zM286 457h3v13h-3zM291 467h1v12h-1zM290 475h3v3h-3zM295 476h1v5h-1zM294 477h3v2h-3zM299 466h1v12h-1zM298 467h3v10h-3zM303 467h1v3h-1zM302 469h3v1h-3zM307 461h1v9h-1zM306 465h3v3h-3zM311 457h1v15h-1zM310 463h3v8h-3zM315 467h1v7h-1zM314 467h3v7h-3zM319 471h1v11h-1zM318 475h3v1h-3zM323 471h1v11h-1zM322 473h3v5h-3zM327 469h1v13h-1zM326 471h3v9h-3zM331 471h1v9h-1zM330 473h3v7h-3zM335 475h1v13h-1zM334 480h3v1h-3zM339 471h1v11h-1zM338 473h3v7h-3zM343 469h1v21h-1zM342 471h3v13h-3zM347 481h1v24h-1zM346 484h3v4h-3zM351 483h1v18h-1zM350 489h3v8h-3zM355 496h1v9h-1zM354 496h3v3h-3zM359 491h1v8h-1zM358 496h3v3h-3zM363 491h1v10h-1zM362 491h3v4h-3zM367 485h1v10h-1zM366 494h3v1h-3zM371 480h1v15h-1zM370 483h3v10h-3zM375 483h1v5h-1zM374 485h3v3h-3zM379 485h1v5h-1zM378 485h3v5h-3zM383 485h1v3h-1zM382 485h3v1h-3zM387 484h1v6h-1zM386 485h3v3h-3zM391 485h1v3h-1zM390 485h3v3h-3zM395 473h1v11h-1zM394 473h3v11h-3zM399 473h1v11h-1zM398 475h3v7h-3zM403 480h1v10h-1zM402 483h3v7h-3zM407 483h1v8h-1zM406 485h3v6h-3zM411 481h1v10h-1zM410 485h3v3h-3zM415 477h1v11h-1zM414 481h3v7h-3zM419 469h1v13h-1zM418 473h3v7h-3zM423 469h1v21h-1zM422 475h3v3h-3zM427 463h1v15h-1zM426 467h3v9h-3zM431 457h1v10h-1zM430 463h3v3h-3zM435 461h1v9h-1zM434 464h3v1h-3zM439 461h1v7h-1zM438 465h3v3h-3zM443 453h1v11h-1zM442 455h3v7h-3zM447 453h1v5h-1zM446 453h3v5h-3zM451 455h1v5h-1zM450 455h3v3h-3zM455 457h1v3h-1zM454 457h3v3h-3zM459 455h1v9h-1zM458 458h3v4h-3zM463 459h1v5h-1zM462 461h3v3h-3zM467 455h1v7h-1zM466 455h3v5h-3zM471 441h1v17h-1zM470 443h3v15h-3zM475 440h1v7h-1zM474 444h3v2h-3zM479 442h1v5h-1zM478 444h3v3h-3zM483 436h1v9h-1zM482 438h3v7h-3zM487 438h1v13h-1zM486 440h3v4h-3zM491 436h1v9h-1zM490 438h3v4h-3zM495 436h1v17h-1zM494 436h3v11h-3zM499 432h1v15h-1zM498 438h3v9h-3zM503 433h1v12h-1zM502 438h3v3h-3zM507 438h1v42h-1zM506 438h3v30h-3zM511 467h1v21h-1zM510 469h3v9h-3zM515 471h1v14h-1zM514 475h3v4h-3zM519 465h1v11h-1zM518 469h3v7h-3zM523 467h1v7h-1zM522 471h3v3h-3zM527 471h1v11h-1zM526 473h3v3h-3zM531 467h1v7h-1zM530 470h3v2h-3zM535 467h1v5h-1zM534 467h3v3h-3zM539 469h1v7h-1zM538 470h3v4h-3zM543 475h1v15h-1zM542 475h3v13h-3zM547 487h1v21h-1zM546 487h3v17h-3zM551 493h1v12h-1zM550 497h3v8h-3zM555 485h1v15h-1zM554 493h3v7h-3zM559 489h1v9h-1zM558 491h3v3h-3zM563 485h1v17h-1zM562 489h3v9h-3zM567 487h1v11h-1zM566 491h3v5h-3zM571 489h1v19h-1zM570 490h3v16h-3zM575 485h1v23h-1zM574 489h3v19h-3zM579 464h1v24h-1zM578 469h3v19h-3zM583 455h1v15h-1zM582 460h3v8h-3zM587 460h1v8h-1zM586 461h3v7h-3zM591 460h1v8h-1zM590 462h3v6h-3zM595 424h1v39h-1zM594 432h3v29h-3zM599 428h1v10h-1zM598 432h3v3h-3zM603 436h1v7h-1zM602 436h3v6h-3zM607 434h1v5h-1zM606 434h3v5h-3zM611 432h1v9h-1zM610 433h3v3h-3zM615 434h1v7h-1zM614 434h3v3h-3zM619 436h1v6h-1zM618 436h3v6h-3zM623 432h1v17h-1zM622 439h3v6h-3zM627 439h1v11h-1zM626 442h3v4h-3zM631 443h1v15h-1zM630 443h3v4h-3zM635 442h1v15h-1zM634 444h3v9h-3zM639 436h1v23h-1zM638 436h3v20h-3zM643 436h1v11h-1zM642 438h3v7h-3zM647 440h1v36h-1zM646 442h3v32h-3zM651 458h1v24h-1zM650 463h3v13h-3zM655 456h1v16h-1zM654 461h3v11h-3zM659 467h1v9h-1zM658 468h3v6h-3zM663 464h1v12h-1zM662 467h3v9h-3zM667 456h1v8h-1zM666 456h3v8h-3zM671 461h1v7h-1zM670 463h3v3h-3zM675 463h1v9h-1zM674 467h3v3h-3zM679 469h1v7h-1zM678 470h3v1h-3zM683 469h1v3h-1zM682 469h3v3h-3zM687 467h1v7h-1zM686 469h3v3h-3zM691 465h1v9h-1zM690 469h3v5h-3zM695 464h1v12h-1zM694 466h3v8h-3zM699 473h1v15h-1zM698 474h3v1h-3zM703 467h1v8h-1zM702 473h3v1h-3zM707 475h1v9h-1zM706 475h3v5h-3zM711 479h1v7h-1zM710 482h3v1h-3zM715 477h1v13h-1zM714 479h3v3h-3zM719 479h1v7h-1zM718 480h3v4h-3zM723 468h1v16h-1zM722 477h3v6h-3zM727 471h1v11h-1zM726 472h3v4h-3zM731 466h1v14h-1zM730 466h3v10h-3zM735 459h1v10h-1zM734 464h3v5h-3zM739 458h1v7h-1zM738 462h3v1h-3zM743 448h1v15h-1zM742 450h3v11h-3zM747 446h1v15h-1zM746 450h3v7h-3zM751 450h1v6h-1zM750 452h3v3h-3zM755 449h1v4h-1zM754 450h3v2h-3zM759 450h1v4h-1zM758 450h3v4h-3zM763 448h1v7h-1zM762 448h3v5h-3zM767 446h1v9h-1zM766 446h3v9h-3zM771 436h1v13h-1zM770 436h3v13h-3zM775 426h1v13h-1zM774 428h3v7h-3zM779 426h1v5h-1zM778 426h3v3h-3zM783 428h1v5h-1zM782 430h3v1h-3zM787 428h1v3h-1zM786 428h3v2h-3zM791 419h1v12h-1zM790 421h3v10h-3zM795 420h1v7h-1zM794 421h3v3h-3zM799 415h1v28h-1zM798 421h3v13h-3zM803 421h1v18h-1zM802 425h3v12h-3zM807 426h1v17h-1zM806 428h3v5h-3zM811 432h1v11h-1zM810 434h3v9h-3zM815 428h1v15h-1zM814 428h3v13h-3zM819 428h1v11h-1zM818 429h3v10h-3zM823 428h1v15h-1zM822 430h3v9h-3zM827 422h1v9h-1zM826 422h3v7h-3zM831 424h1v7h-1zM830 424h3v2h-3zM835 422h1v7h-1zM834 422h3v7h-3zM839 420h1v7h-1zM838 420h3v7h-3zM843 424h1v5h-1zM842 424h3v5h-3zM847 424h1v15h-1zM846 428h3v9h-3zM851 428h1v12h-1zM850 430h3v5h-3zM855 429h1v13h-1zM854 432h3v10h-3zM859 438h1v5h-1zM858 438h3v5h-3zM863 438h1v6h-1zM862 440h3v3h-3zM867 440h1v15h-1zM866 440h3v13h-3zM871 432h1v25h-1zM870 436h3v17h-3zM875 420h1v23h-1zM874 420h3v16h-3zM879 414h1v9h-1zM878 422h3v1h-3zM883 412h1v11h-1zM882 414h3v7h-3zM887 387h1v29h-1zM886 395h3v21h-3zM891 387h1v16h-1zM890 396h3v3h-3zM895 387h1v12h-1zM894 392h3v5h-3zM899 381h1v12h-1zM898 385h3v8h-3zM903 383h1v12h-1zM902 383h3v7h-3zM907 380h1v8h-1zM906 381h3v7h-3zM911 374h1v10h-1zM910 377h3v3h-3zM915 379h1v12h-1zM914 379h3v9h-3zM919 381h1v5h-1zM918 383h3v1h-3zM923 379h1v7h-1zM922 381h3v1h-3zM927 373h1v15h-1zM926 373h3v11h-3zM931 373h1v9h-1zM930 375h3v3h-3zM935 375h1v5h-1zM934 375h3v5h-3zM939 377h1v9h-1zM938 377h3v3h-3zM943 379h1v9h-1zM942 381h3v7h-3zM947 381h1v11h-1zM946 387h3v3h-3zM951 377h1v17h-1zM950 385h3v1h-3zM955 371h1v21h-1zM954 371h3v17h-3zM959 348h1v24h-1zM958 348h3v22h-3zM963 346h1v16h-1zM962 346h3v10h-3zM967 342h1v15h-1zM966 342h3v11h-3zM971 344h1v13h-1zM970 344h3v9h-3zM975 330h1v19h-1zM974 332h3v13h-3zM979 330h1v5h-1zM978 330h3v3h-3zM983 332h1v5h-1zM982 334h3v3h-3zM987 334h1v5h-1zM986 334h3v3h-3zM991 334h1v5h-1zM990 334h3v1h-3zM995 334h1v7h-1zM994 336h3v3h-3zM999 336h1v5h-1zM998 336h3v5h-3zM1003 336h1v7h-1zM1002 338h3v3h-3zM1007 340h1v42h-1zM1006 342h3v36h-3zM1011 375h1v36h-1zM1010 379h3v7h-3zM1015 363h1v29h-1zM1014 367h3v19h-3zM1019 365h1v15h-1zM1018 367h3v9h-3zM1023 359h1v36h-1zM1022 375h3v3h-3zM1027 357h1v21h-1zM1026 367h3v6h-3zM1031 336h1v32h-1zM1030 338h3v30h-3zM1035 336h1v24h-1zM1034 336h3v13h-3zM1039 348h1v6h-1zM1038 348h3v4h-3zM1043 332h1v17h-1zM1042 332h3v15h-3zM1047 324h1v11h-1zM1046 328h3v7h-3zM1051 324h1v15h-1zM1050 328h3v9h-3zM1055 318h1v17h-1zM1054 318h3v17h-3zM1059 318h1v8h-1zM1058 320h3v6h-3zM1063 322h1v6h-1zM1062 324h3v4h-3zM1067 326h1v15h-1zM1066 326h3v11h-3zM1071 338h1v14h-1zM1070 338h3v14h-3zM1075 341h1v13h-1zM1074 348h3v6h-3zM1079 328h1v26h-1zM1078 336h3v16h-3zM1083 322h1v16h-1zM1082 324h3v11h-3zM1087 322h1v13h-1zM1086 322h3v9h-3zM1091 328h1v20h-1zM1090 328h3v6h-3zM1095 328h1v11h-1zM1094 329h3v2h-3zM1099 314h1v19h-1zM1098 314h3v19h-3zM1103 302h1v16h-1zM1102 312h3v6h-3zM1107 314h1v24h-1zM1106 316h3v17h-3zM1111 312h1v24h-1zM1110 312h3v20h-3zM1115 306h1v13h-1zM1114 306h3v9h-3zM1119 295h1v14h-1zM1118 304h3v5h-3zM1123 298h1v13h-1zM1122 302h3v7h-3zM1127 304h1v15h-1zM1126 308h3v9h-3zM1131 304h1v14h-1zM1130 310h3v5h-3zM1135 304h1v7h-1zM1134 304h3v7h-3zM1139 305h1v3h-1zM1138 306h3v2h-3zM1143 300h1v9h-1zM1142 300h3v7h-3zM1147 296h1v7h-1zM1146 296h3v7h-3zM1151 294h1v7h-1zM1150 294h3v5h-3zM1155 284h1v15h-1zM1154 288h3v9h-3zM1159 283h1v8h-1zM1158 283h3v8h-3zM1163 281h1v8h-1zM1162 283h3v3h-3zM1167 281h1v8h-1zM1166 281h3v1h-3zM1171 277h1v7h-1zM1170 279h3v5h-3zM1175 272h1v14h-1zM1174 277h3v5h-3zM1179 267h1v19h-1zM1178 269h3v11h-3zM1183 257h1v13h-1zM1182 257h3v10h-3zM1187 251h1v15h-1zM1186 255h3v1h-3zM1191 251h1v5h-1zM1190 253h3v1h-3zM1195 251h1v7h-1zM1194 251h3v5h-3zM1199 257h1v17h-1zM1198 257h3v17h-3zM1203 262h1v16h-1zM1202 265h3v11h-3zM1207 261h1v9h-1zM1206 261h3v3h-3zM1211 255h1v9h-1zM1210 259h3v4h-3zM1215 261h1v7h-1zM1214 263h3v3h-3zM1219 261h1v8h-1zM1218 263h3v4h-3zM1223 264h1v6h-1zM1222 264h3v4h-3zM1227 257h1v9h-1zM1226 259h3v7h-3zM1231 257h1v5h-1zM1230 258h3v2h-3zM1235 251h1v13h-1zM1234 251h3v6h-3zM1239 251h1v11h-1zM1238 253h3v9h-3zM1243 257h1v11h-1zM1242 258h3v8h-3zM1247 262h1v10h-1zM1246 267h3v3h-3zM1251 267h1v7h-1zM1250 267h3v5h-3zM1255 259h1v13h-1zM1254 267h3v3h-3zM1259 255h1v15h-1zM1258 255h3v15h-3zM1263 253h1v9h-1zM1262 255h3v3h-3zM1267 236h1v20h-1zM1266 241h3v15h-3zM1271 208h1v28h-1zM1270 208h3v25h-3zM1275 204h1v7h-1zM1274 208h3v3h-3zM1279 204h1v7h-1zM1278 208h3v3h-3zM1283 205h1v3h-1zM1282 206h3v2h-3zM1287 206h1v9h-1zM1286 207h3v8h-3zM1291 211h1v15h-1zM1290 214h3v8h-3zM1295 211h1v12h-1zM1294 214h3v6h-3zM1299 210h1v15h-1zM1298 211h3v10h-3zM1303 218h1v13h-1zM1302 221h3v8h-3zM1307 218h1v13h-1zM1306 220h3v11h-3zM1311 218h1v11h-1zM1310 218h3v11h-3zM1315 220h1v9h-1zM1314 225h3v4h-3zM1319 224h1v11h-1zM1318 226h3v5h-3zM1323 218h1v46h-1zM1322 228h3v14h-3zM1327 222h1v32h-1zM1326 237h3v3h-3zM1331 216h1v22h-1zM1330 220h3v16h-3zM1335 208h1v13h-1zM1334 213h3v6h-3zM1339 198h1v15h-1zM1338 206h3v5h-3zM1343 188h1v17h-1zM1342 194h3v11h-3zM1347 190h1v15h-1zM1346 198h3v7h-3zM1351 198h1v9h-1zM1350 199h3v8h-3zM1355 204h1v14h-1zM1354 206h3v5h-3zM1359 206h1v12h-1zM1358 212h3v6h-3zM1363 212h1v7h-1zM1362 214h3v1h-3zM1367 204h1v15h-1zM1366 210h3v3h-3zM1371 208h1v11h-1zM1370 212h3v4h-3zM1375 206h1v9h-1zM1374 208h3v6h-3zM1379 200h1v9h-1zM1378 200h3v7h-3zM1383 194h1v11h-1zM1382 196h3v3h-3zM1387 198h1v11h-1zM1386 198h3v2h-3zM1391 196h1v8h-1zM1390 200h3v3h-3zM1395 192h1v13h-1zM1394 198h3v3h-3zM1399 159h1v38h-1zM1398 161h3v36h-3zM1403 137h1v44h-1zM1402 139h3v22h-3zM1407 117h1v23h-1zM1406 121h3v17h-3zM1411 111h1v13h-1zM1410 115h3v9h-3zM1415 108h1v14h-1zM1414 117h3v3h-3zM1419 113h1v11h-1zM1418 117h3v5h-3zM1423 123h1v28h-1zM1422 123h3v7h-3zM1427 121h1v9h-1zM1426 125h3v5h-3zM1431 115h1v9h-1zM1430 119h3v5h-3zM1435 117h1v5h-1zM1434 117h3v3h-3zM1439 119h1v11h-1zM1438 121h3v7h-3zM1443 125h1v5h-1zM1442 127h3v1h-3zM1447 125h1v23h-1zM1446 125h3v15h-3zM1451 135h1v7h-1zM1450 137h3v5h-3zM1455 133h1v11h-1zM1454 139h3v5h-3zM1459 139h1v7h-1zM1458 139h3v7h-3zM1463 137h1v2h-1zM1462 137h3v1h-3zM1467 124h1v15h-1zM1466 127h3v12h-3zM1471 114h1v14h-1zM1470 123h3v2h-3zM1475 103h1v28h-1zM1474 112h3v8h-3zM1479 82h1v31h-1zM1478 103h3v10h-3zM1483 90h1v15h-1zM1482 96h3v5h-3zM1487 90h1v21h-1zM1486 94h3v5h-3zM1491 45h1v56h-1zM1490 49h3v52h-3zM1495 37h1v17h-1zM1494 51h3v1h-3zM1499 29h1v32h-1zM1498 29h3v29h-3z"/>
<path class="c" fill="#fff" d="M3 495h1v7h-1zM11 499h1v1h-1zM19 501h1v8h-1zM23 497h1v5h-1zM35 517h1v10h-1zM43 475h1v43h-1zM47 464h1v12h-1zM51 463h1v3h-1zM55 463h1v1h-1zM83 467h1v4h-1zM87 458h1v6h-1zM91 452h1v8h-1zM99 454h1v6h-1zM107 444h1v21h-1zM119 446h1v17h-1zM127 441h1v11h-1zM131 436h1v3h-1zM151 450h1v1h-1zM155 446h1v1h-1zM159 440h1v7h-1zM167 444h1v1h-1zM171 444h1v1h-1zM175 440h1v6h-1zM195 476h1v14h-1zM199 471h1v7h-1zM203 464h1v8h-1zM219 507h1v3h-1zM223 505h1v3h-1zM251 528h1v1h-1zM255 523h1v5h-1zM263 525h1v1h-1zM267 515h1v3h-1zM271 495h1v21h-1zM275 470h1v21h-1zM279 462h1v8h-1zM283 456h1v3h-1zM291 476h1v1h-1zM299 468h1v8h-1zM307 466h1v1h-1zM327 472h1v7h-1zM339 474h1v5h-1zM355 497h1v1h-1zM359 497h1v1h-1zM363 492h1v2h-1zM371 484h1v8h-1zM387 486h1v1h-1zM391 486h1v1h-1zM395 474h1v9h-1zM411 486h1v1h-1zM415 482h1v5h-1zM419 474h1v5h-1zM427 468h1v7h-1zM431 464h1v1h-1zM439 466h1v1h-1zM443 456h1v5h-1zM455 458h1v1h-1zM463 462h1v1h-1zM467 456h1v3h-1zM471 444h1v13h-1zM479 445h1v1h-1zM483 439h1v5h-1zM491 439h1v2h-1zM499 439h1v7h-1zM503 439h1v1h-1zM515 476h1v2h-1zM519 470h1v5h-1zM527 474h1v1h-1zM551 498h1v6h-1zM555 494h1v5h-1zM559 492h1v1h-1zM567 492h1v3h-1zM575 490h1v17h-1zM579 470h1v17h-1zM583 461h1v6h-1zM591 463h1v4h-1zM595 433h1v27h-1zM607 435h1v3h-1zM611 434h1v1h-1zM615 435h1v1h-1zM639 437h1v18h-1zM651 464h1v11h-1zM663 468h1v7h-1zM667 457h1v6h-1zM691 470h1v3h-1zM715 480h1v1h-1zM723 478h1v4h-1zM727 473h1v2h-1zM731 467h1v8h-1zM735 465h1v3h-1zM743 451h1v9h-1zM751 453h1v1h-1zM759 451h1v2h-1zM767 447h1v7h-1zM771 437h1v11h-1zM775 429h1v5h-1zM791 422h1v8h-1zM803 426h1v10h-1zM815 429h1v11h-1zM823 431h1v7h-1zM827 423h1v5h-1zM835 423h1v5h-1zM851 431h1v3h-1zM859 439h1v3h-1zM871 437h1v15h-1zM875 421h1v14h-1zM883 415h1v5h-1zM887 396h1v19h-1zM895 393h1v3h-1zM899 386h1v6h-1zM907 382h1v5h-1zM911 378h1v1h-1zM927 374h1v9h-1zM947 388h1v1h-1zM955 372h1v15h-1zM959 349h1v20h-1zM967 343h1v9h-1zM975 333h1v11h-1zM999 337h1v3h-1zM1015 368h1v17h-1zM1027 368h1v4h-1zM1031 339h1v28h-1zM1039 349h1v2h-1zM1043 333h1v13h-1zM1047 329h1v5h-1zM1055 319h1v15h-1zM1063 325h1v2h-1zM1079 337h1v14h-1zM1083 325h1v9h-1zM1091 329h1v4h-1zM1099 315h1v17h-1zM1111 313h1v18h-1zM1115 307h1v7h-1zM1119 305h1v3h-1zM1131 311h1v3h-1zM1135 305h1v5h-1zM1143 301h1v5h-1zM1147 297h1v5h-1zM1151 295h1v3h-1zM1155 289h1v7h-1zM1159 284h1v6h-1zM1163 284h1v1h-1zM1171 280h1v3h-1zM1179 270h1v9h-1zM1183 258h1v8h-1zM1203 266h1v9h-1zM1207 262h1v1h-1zM1227 260h1v5h-1zM1235 252h1v4h-1zM1255 268h1v1h-1zM1259 256h1v13h-1zM1263 256h1v1h-1zM1267 242h1v13h-1zM1271 209h1v23h-1zM1275 209h1v1h-1zM1279 209h1v1h-1zM1295 215h1v4h-1zM1307 221h1v9h-1zM1319 227h1v3h-1zM1327 238h1v1h-1zM1331 221h1v14h-1zM1335 214h1v4h-1zM1339 207h1v3h-1zM1343 195h1v9h-1zM1347 199h1v5h-1zM1367 211h1v1h-1zM1375 209h1v4h-1zM1379 201h1v5h-1zM1383 197h1v1h-1zM1395 199h1v1h-1zM1399 162h1v34h-1zM1403 140h1v20h-1zM1407 122h1v15h-1zM1411 116h1v7h-1zM1419 118h1v3h-1zM1427 126h1v3h-1zM1431 120h1v3h-1zM1451 138h1v3h-1zM1459 140h1v5h-1zM1467 128h1v10h-1zM1475 113h1v6h-1zM1479 104h1v8h-1zM1483 97h1v3h-1zM1491 50h1v50h-1zM1499 30h1v27h-1z"/>
<rect class="c" x="2" y="2" width="1508" height="1" fill="#000"/>
<rect class="c" x="2" y="551" width="1508" height="1" fill="#000"/>
<rect class="c" x="2" y="553" width="1508" height="1" fill="#000"/>
<rect class="c" x="2" y="826" width="1508" height="1" fill="#000"/>
<rect class="c" x="2" y="2" width="1" height="550" fill="#000"/>
<rect class="c" x="1509" y="2" width="1" height="550" fill="#000"/>
<rect class="c" x="2" y="553" width="1" height="274" fill="#000"/>
<rect class="c" x="1509" y="553" width="1" height="274" fill="#000"/>
<rect class="c" x="1510" y="42" width="2" height="1" fill="#000"/>
<text transform="translate(1515.21 47) scale(0.980 1)">474.90</text>
<rect class="c" x="1510" y="91" width="2" height="1" fill="#000"/>
<text transform="translate(1515.21 96) scale(0.980 1)">468.90</text>
<rect class="c" x="1510" y="140" width="2" height="1" fill="#000"/>
<text transform="translate(1515.21 145) scale(0.980 1)">462.80</text>
<rect class="c" x="1510" y="189" width="2" height="1" fill="#000"/>
<text transform="translate(1515.21 194) scale(0.980 1)">456.80</text>
<rect class="c" x="1510" y="238" width="2" height="1" fill="#000"/>
<text transform="translate(1515.21 243) scale(0.980 1)">450.80</text>
<rect class="c" x="1510" y="287" width="2" height="1" fill="#000"/>
<text transform="translate(1515.21 292) scale(0.980 1)">444.80</text>
<rect class="c" x="1510" y="336" width="2" height="1" fill="#000"/>
<text transform="translate(1515.21 341) scale(0.980 1)">438.80</text>
<rect class="c" x="1510" y="385" width="2" height="1" fill="#000"/>
<text transform="translate(1515.21 390) scale(0.980 1)">432.80</text>
<rect class="c" x="1510" y="434" width="2" height="1" fill="#000"/>
<text transform="translate(1515.21 439) scale(0.980 1)">426.80</text>
<rect class="c" x="1510" y="483" width="2" height="1" fill="#000"/>
<text transform="translate(1515.21 488) scale(0.980 1)">420.80</text>
<rect class="c" x="1510" y="532" width="2" height="1" fill="#000"/>
<text transform="translate(1515.21 537) scale(0.980 1)">414.80</text>
<rect class="c" x="1510" y="555" width="1" height="1" fill="#000"/>
<rect class="c" x="1510" y="704" width="1" height="1" fill="#000"/>
<rect class="c" x="1510" y="825" width="1" height="1" fill="#000"/>
<text transform="translate(1512.41 567) scale(0.985 1)">3.931</text>
<text transform="translate(1513.11 709) scale(0.985 1)">0.00</text>
<text transform="translate(1512.71 823) scale(0.985 1)">-3.196</text>
<rect class="c" x="1511" y="104" width="49" height="14" fill="#f00"/>
<text transform="translate(1515.21 116) scale(0.980 1)" style="fill:#fff">466.58</text>
<rect class="c" x="1511" y="22" width="49" height="14" fill="#000"/>
<text transform="translate(1515.21 34) scale(0.980 1)" style="fill:#fff">476.48</text>
<rect class="c" x="3" y="827" width="1" height="3" fill="#000"/>
<text transform="translate(1.52 842) scale(0.966 1)">2 Dec 2020</text>
<rect class="c" x="99" y="827" width="1" height="3" fill="#000"/>
<text transform="translate(97.52 842) scale(0.972 1)">3 Dec 12:00</text>
<rect class="c" x="195" y="827" width="1" height="3" fill="#000"/>
<text transform="translate(193.52 842) scale(0.972 1)">4 Dec 17:00</text>
<rect class="c" x="291" y="827" width="1" height="3" fill="#000"/>
<text transform="translate(289.52 842) scale(0.972 1)">8 Dec 03:00</text>
<rect class="c" x="387" y="827" width="1" height="3" fill="#000"/>
<text transform="translate(385.52 842) scale(0.972 1)">9 Dec 08:00</text>
<rect class="c" x="483" y="827" width="1" height="3" fill="#000"/>
<text transform="translate(480.94 842) scale(0.966 1)">10 Dec 13:00</text>
<rect class="c" x="579" y="827" width="1" height="3" fill="#000"/>
<text transform="translate(576.94 842) scale(0.966 1)">11 Dec 18:00</text>
<rect class="c" x="675" y="827" width="1" height="3" fill="#000"/>
<text transform="translate(672.94 842) scale(0.966 1)">15 Dec 04:00</text>
<rect class="c" x="771" y="827" width="1" height="3" fill="#000"/>
<text transform="translate(768.94 842) scale(0.966 1)">16 Dec 09:00</text>
<rect class="c" x="867" y="827" width="1" height="3" fill="#000"/>
<text transform="translate(864.94 842) scale(0.966 1)">17 Dec 14:00</text>
<rect class="c" x="963" y="827" width="1" height="3" fill="#000"/>
<text transform="translate(960.94 842) scale(0.966 1)">18 Dec 19:00</text>
<rect class="c" x="1059" y="827" width="1" height="3" fill="#000"/>
<text transform="translate(1057.52 842) scale(0.966 1)">22 Dec 05:00</text>
<rect class="c" x="1155" y="827" width="1" height="3" fill="#000"/>
<text transform="translate(1153.52 842) scale(0.966 1)">23 Dec 10:00</text>
<rect class="c" x="1251" y="827" width="1" height="3" fill="#000"/>
<text transform="translate(1249.52 842) scale(0.966 1)">24 Dec 15:00</text>
<rect class="c" x="1347" y="827" width="1" height="3" fill="#000"/>
<text transform="translate(1345.52 842) scale(0.966 1)">29 Dec 03:00</text>
<rect class="c" x="1443" y="827" width="1" height="3" fill="#000"/>
<text transform="translate(1441.52 842) scale(0.966 1)">30 Dec 08:00</text>
<path d="M6 10h9l-4.5 5z" fill="#000"/>
<text transform="translate(20.49 17) scale(0.853 1)">CORN,H1</text>
<text transform="translate(78.42 17) scale(0.970 1)">472.98</text>
<text transform="translate(121.42 17) scale(0.970 1)">476.48</text>
<text transform="translate(164.42 17) scale(0.970 1)">472.73</text>
<text transform="translate(207.42 17) scale(0.970 1)">476.48</text>
<text transform="translate(6.55 569) scale(0.944 1)">MACD(12,26,9)</text>
<text transform="translate(95.71 569) scale(0.980 1)">3.607</text>
<text transform="translate(131.71 569) scale(0.980 1)">2.462</text>
<text transform="translate(172.01 569) scale(0.985 1)">-&gt;MA(1)</text>
<text transform="translate(223.21 569) scale(0.980 1)">3.607</text>
</svg></body></html>
